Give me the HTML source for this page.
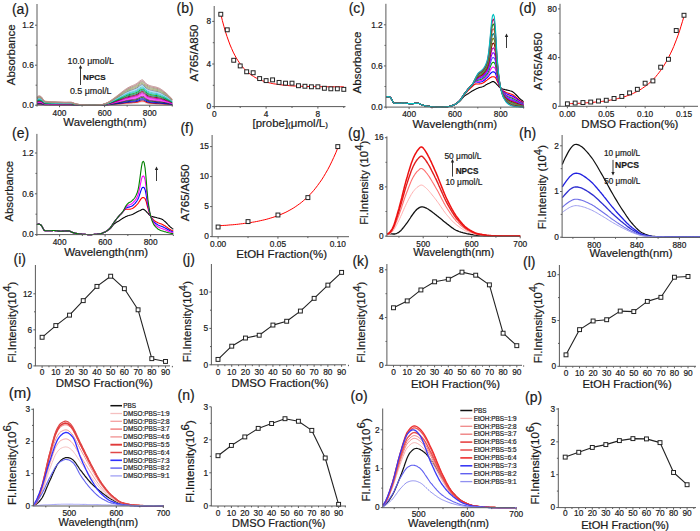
<!DOCTYPE html>
<html><head><meta charset="utf-8"><style>
html,body{margin:0;padding:0;background:#fff;width:700px;height:531px;overflow:hidden}
svg{display:block}
text{font-family:"Liberation Sans", sans-serif;fill:#1a1a1a;stroke:#1a1a1a;stroke-width:0.2px}
polyline{fill:none;stroke-linejoin:round}
.m{fill:#fff;stroke:#222}
</style></head><body>
<svg width="700" height="531" viewBox="0 0 700 531">
<rect width="700" height="531" fill="#fff"/>
<polyline points="37.0,104.6 37.9,104.5 38.8,104.5 39.7,104.5 40.6,104.5 41.5,104.6 42.4,104.7 43.3,104.8 44.2,104.9 45.1,104.9 46.0,104.9 46.9,104.9 47.8,104.9 48.7,104.9 49.6,104.9 50.5,104.9 51.4,104.9 52.3,104.9 53.2,104.9 54.1,104.9 55.0,104.9 55.9,105.0 56.8,105.0 57.7,105.0 58.6,105.0 59.5,105.0 60.4,105.0 61.3,105.0 62.2,105.0 63.1,105.0 64.0,105.0 64.9,105.0 65.9,105.0 66.8,105.0 67.7,105.0 68.6,105.0 69.5,105.0 70.4,105.0 71.3,105.0 72.2,105.0 73.1,105.0 74.0,105.1 74.9,105.1 75.8,105.1 76.7,105.1 77.6,105.1 78.5,105.1 79.4,105.1 80.3,105.2 81.2,105.2 82.1,105.2 83.0,105.2 83.9,105.2 84.8,105.2 85.7,105.2 86.6,105.2 87.5,105.2 88.4,105.2 89.3,105.2 90.2,105.2 91.1,105.2 92.0,105.2 92.9,105.2 93.8,105.2 94.7,105.2 95.6,105.2 96.5,105.2 97.4,105.2 98.3,105.2 99.2,105.2 100.1,105.2 101.0,105.2 101.9,105.1 102.8,105.1 103.7,105.1 104.6,105.1 105.5,105.0 106.4,105.0 107.3,105.0 108.2,104.9 109.1,104.9 110.0,104.8 110.9,104.8 111.8,104.7 112.7,104.7 113.6,104.6 114.5,104.5 115.4,104.5 116.3,104.4 117.2,104.4 118.1,104.3 119.0,104.3 119.9,104.2 120.8,104.1 121.8,104.1 122.7,104.0 123.6,103.9 124.5,103.9 125.4,103.8 126.3,103.7 127.2,103.7 128.1,103.6 129.0,103.6 129.9,103.6 130.8,103.5 131.7,103.5 132.6,103.4 133.5,103.4 134.4,103.4 135.3,103.3 136.2,103.2 137.1,103.1 138.0,103.0 138.9,102.8 139.8,102.5 140.7,102.3 141.6,102.2 142.5,102.2 143.4,102.2 144.3,102.4 145.2,102.8 146.1,103.1 147.0,103.4 147.9,103.5 148.8,103.7 149.7,103.8 150.6,103.9 151.5,104.0 152.4,104.0 153.3,104.0 154.2,104.1 155.1,104.1 156.0,104.1 156.9,104.2 157.8,104.2 158.7,104.2 159.6,104.3 160.5,104.3 161.4,104.3 162.3,104.4 163.2,104.4 164.1,104.4 165.0,104.5 165.9,104.5 166.8,104.6 167.7,104.6 168.6,104.7 169.5,104.7 170.4,104.8 171.3,104.8 172.2,104.9" stroke="#e0e0e0" stroke-width="1.0"/>
<polyline points="37.0,104.3 37.9,104.2 38.8,104.2 39.7,104.2 40.6,104.2 41.5,104.3 42.4,104.5 43.3,104.6 44.2,104.7 45.1,104.8 46.0,104.8 46.9,104.8 47.8,104.8 48.7,104.8 49.6,104.8 50.5,104.8 51.4,104.8 52.3,104.8 53.2,104.8 54.1,104.8 55.0,104.8 55.9,104.8 56.8,104.8 57.7,104.9 58.6,104.9 59.5,104.9 60.4,104.9 61.3,104.9 62.2,104.9 63.1,104.9 64.0,104.9 64.9,104.9 65.9,104.9 66.8,104.9 67.7,104.9 68.6,104.9 69.5,104.9 70.4,104.9 71.3,104.9 72.2,104.9 73.1,105.0 74.0,105.0 74.9,105.0 75.8,105.1 76.7,105.1 77.6,105.1 78.5,105.1 79.4,105.1 80.3,105.1 81.2,105.2 82.1,105.2 83.0,105.2 83.9,105.2 84.8,105.2 85.7,105.2 86.6,105.2 87.5,105.2 88.4,105.2 89.3,105.2 90.2,105.2 91.1,105.2 92.0,105.2 92.9,105.2 93.8,105.2 94.7,105.2 95.6,105.2 96.5,105.2 97.4,105.2 98.3,105.2 99.2,105.2 100.1,105.2 101.0,105.1 101.9,105.1 102.8,105.1 103.7,105.1 104.6,105.0 105.5,105.0 106.4,104.9 107.3,104.9 108.2,104.8 109.1,104.8 110.0,104.7 110.9,104.6 111.8,104.5 112.7,104.4 113.6,104.3 114.5,104.3 115.4,104.2 116.3,104.1 117.2,104.0 118.1,103.9 119.0,103.9 119.9,103.8 120.8,103.7 121.8,103.6 122.7,103.5 123.6,103.4 124.5,103.3 125.4,103.2 126.3,103.1 127.2,103.0 128.1,103.0 129.0,102.9 129.9,102.9 130.8,102.8 131.7,102.8 132.6,102.7 133.5,102.6 134.4,102.6 135.3,102.5 136.2,102.4 137.1,102.3 138.0,102.0 138.9,101.8 139.8,101.5 140.7,101.2 141.6,101.0 142.5,101.0 143.4,101.1 144.3,101.4 145.2,101.8 146.1,102.2 147.0,102.6 147.9,102.8 148.8,103.0 149.7,103.2 150.6,103.3 151.5,103.4 152.4,103.4 153.3,103.5 154.2,103.5 155.1,103.6 156.0,103.6 156.9,103.7 157.8,103.7 158.7,103.7 159.6,103.8 160.5,103.8 161.4,103.9 162.3,103.9 163.2,104.0 164.1,104.1 165.0,104.1 165.9,104.2 166.8,104.2 167.7,104.3 168.6,104.4 169.5,104.5 170.4,104.5 171.3,104.6 172.2,104.7" stroke="#ff0000" stroke-width="1.0"/>
<polyline points="37.0,104.0 37.9,103.9 38.8,103.9 39.7,103.9 40.6,103.9 41.5,104.0 42.4,104.2 43.3,104.4 44.2,104.6 45.1,104.6 46.0,104.7 46.9,104.7 47.8,104.7 48.7,104.7 49.6,104.7 50.5,104.7 51.4,104.7 52.3,104.7 53.2,104.7 54.1,104.7 55.0,104.7 55.9,104.7 56.8,104.7 57.7,104.7 58.6,104.7 59.5,104.7 60.4,104.8 61.3,104.8 62.2,104.8 63.1,104.8 64.0,104.8 64.9,104.8 65.9,104.8 66.8,104.8 67.7,104.8 68.6,104.8 69.5,104.8 70.4,104.8 71.3,104.8 72.2,104.8 73.1,104.9 74.0,104.9 74.9,105.0 75.8,105.0 76.7,105.0 77.6,105.1 78.5,105.1 79.4,105.1 80.3,105.1 81.2,105.1 82.1,105.1 83.0,105.2 83.9,105.2 84.8,105.2 85.7,105.2 86.6,105.2 87.5,105.2 88.4,105.2 89.3,105.2 90.2,105.2 91.1,105.2 92.0,105.2 92.9,105.2 93.8,105.2 94.7,105.2 95.6,105.2 96.5,105.2 97.4,105.2 98.3,105.2 99.2,105.2 100.1,105.1 101.0,105.1 101.9,105.1 102.8,105.1 103.7,105.0 104.6,105.0 105.5,104.9 106.4,104.8 107.3,104.8 108.2,104.7 109.1,104.6 110.0,104.5 110.9,104.4 111.8,104.3 112.7,104.2 113.6,104.1 114.5,104.0 115.4,103.9 116.3,103.8 117.2,103.7 118.1,103.5 119.0,103.4 119.9,103.3 120.8,103.2 121.8,103.1 122.7,103.0 123.6,102.9 124.5,102.7 125.4,102.6 126.3,102.5 127.2,102.4 128.1,102.3 129.0,102.2 129.9,102.1 130.8,102.1 131.7,102.0 132.6,101.9 133.5,101.8 134.4,101.8 135.3,101.7 136.2,101.5 137.1,101.4 138.0,101.1 138.9,100.8 139.8,100.4 140.7,100.1 141.6,99.9 142.5,99.8 143.4,99.9 144.3,100.3 145.2,100.8 146.1,101.4 147.0,101.8 147.9,102.0 148.8,102.3 149.7,102.5 150.6,102.6 151.5,102.7 152.4,102.8 153.3,102.9 154.2,102.9 155.1,103.0 156.0,103.0 156.9,103.1 157.8,103.1 158.7,103.2 159.6,103.2 160.5,103.3 161.4,103.4 162.3,103.5 163.2,103.5 164.1,103.6 165.0,103.7 165.9,103.8 166.8,103.9 167.7,104.0 168.6,104.1 169.5,104.2 170.4,104.3 171.3,104.4 172.2,104.5" stroke="#000080" stroke-width="1.0"/>
<polyline points="37.0,103.7 37.9,103.6 38.8,103.5 39.7,103.5 40.6,103.6 41.5,103.7 42.4,103.9 43.3,104.2 44.2,104.4 45.1,104.5 46.0,104.5 46.9,104.5 47.8,104.5 48.7,104.5 49.6,104.6 50.5,104.6 51.4,104.6 52.3,104.6 53.2,104.6 54.1,104.6 55.0,104.6 55.9,104.6 56.8,104.6 57.7,104.6 58.6,104.6 59.5,104.6 60.4,104.6 61.3,104.6 62.2,104.6 63.1,104.6 64.0,104.6 64.9,104.6 65.9,104.6 66.8,104.6 67.7,104.6 68.6,104.6 69.5,104.6 70.4,104.7 71.3,104.7 72.2,104.7 73.1,104.8 74.0,104.8 74.9,104.9 75.8,105.0 76.7,105.0 77.6,105.0 78.5,105.1 79.4,105.1 80.3,105.1 81.2,105.1 82.1,105.1 83.0,105.1 83.9,105.2 84.8,105.2 85.7,105.2 86.6,105.2 87.5,105.2 88.4,105.2 89.3,105.2 90.2,105.2 91.1,105.2 92.0,105.2 92.9,105.2 93.8,105.2 94.7,105.2 95.6,105.2 96.5,105.2 97.4,105.2 98.3,105.2 99.2,105.1 100.1,105.1 101.0,105.1 101.9,105.1 102.8,105.0 103.7,105.0 104.6,104.9 105.5,104.8 106.4,104.8 107.3,104.7 108.2,104.6 109.1,104.5 110.0,104.4 110.9,104.2 111.8,104.1 112.7,103.9 113.6,103.8 114.5,103.7 115.4,103.5 116.3,103.4 117.2,103.3 118.1,103.1 119.0,103.0 119.9,102.9 120.8,102.7 121.8,102.6 122.7,102.4 123.6,102.3 124.5,102.1 125.4,101.9 126.3,101.8 127.2,101.7 128.1,101.6 129.0,101.5 129.9,101.4 130.8,101.3 131.7,101.2 132.6,101.1 133.5,101.0 134.4,100.9 135.3,100.8 136.2,100.6 137.1,100.4 138.0,100.1 138.9,99.8 139.8,99.3 140.7,99.0 141.6,98.7 142.5,98.6 143.4,98.8 144.3,99.2 145.2,99.8 146.1,100.4 147.0,100.9 147.9,101.2 148.8,101.5 149.7,101.7 150.6,101.9 151.5,102.0 152.4,102.1 153.3,102.2 154.2,102.3 155.1,102.3 156.0,102.4 156.9,102.4 157.8,102.5 158.7,102.6 159.6,102.6 160.5,102.7 161.4,102.8 162.3,102.9 163.2,103.0 164.1,103.1 165.0,103.2 165.9,103.4 166.8,103.5 167.7,103.6 168.6,103.7 169.5,103.9 170.4,104.0 171.3,104.2 172.2,104.3" stroke="#0000ff" stroke-width="1.0"/>
<polyline points="37.0,103.4 37.9,103.2 38.8,103.1 39.7,103.1 40.6,103.2 41.5,103.4 42.4,103.6 43.3,104.0 44.2,104.2 45.1,104.3 46.0,104.3 46.9,104.4 47.8,104.4 48.7,104.4 49.6,104.4 50.5,104.4 51.4,104.4 52.3,104.4 53.2,104.4 54.1,104.4 55.0,104.4 55.9,104.5 56.8,104.5 57.7,104.5 58.6,104.5 59.5,104.5 60.4,104.5 61.3,104.5 62.2,104.5 63.1,104.5 64.0,104.5 64.9,104.5 65.9,104.5 66.8,104.5 67.7,104.5 68.6,104.5 69.5,104.5 70.4,104.5 71.3,104.6 72.2,104.6 73.1,104.7 74.0,104.8 74.9,104.8 75.8,104.9 76.7,105.0 77.6,105.0 78.5,105.0 79.4,105.0 80.3,105.1 81.2,105.1 82.1,105.1 83.0,105.1 83.9,105.2 84.8,105.2 85.7,105.2 86.6,105.2 87.5,105.2 88.4,105.2 89.3,105.2 90.2,105.2 91.1,105.2 92.0,105.2 92.9,105.2 93.8,105.2 94.7,105.2 95.6,105.2 96.5,105.2 97.4,105.2 98.3,105.1 99.2,105.1 100.1,105.1 101.0,105.1 101.9,105.0 102.8,105.0 103.7,104.9 104.6,104.8 105.5,104.8 106.4,104.7 107.3,104.6 108.2,104.5 109.1,104.3 110.0,104.2 110.9,104.0 111.8,103.9 112.7,103.7 113.6,103.5 114.5,103.4 115.4,103.2 116.3,103.0 117.2,102.9 118.1,102.7 119.0,102.5 119.9,102.4 120.8,102.2 121.8,102.0 122.7,101.8 123.6,101.6 124.5,101.5 125.4,101.3 126.3,101.1 127.2,100.9 128.1,100.8 129.0,100.7 129.9,100.6 130.8,100.5 131.7,100.4 132.6,100.3 133.5,100.2 134.4,100.0 135.3,99.9 136.2,99.7 137.1,99.5 138.0,99.1 138.9,98.7 139.8,98.3 140.7,97.8 141.6,97.5 142.5,97.5 143.4,97.7 144.3,98.1 145.2,98.8 146.1,99.5 147.0,100.0 147.9,100.4 148.8,100.7 149.7,100.9 150.6,101.1 151.5,101.2 152.4,101.4 153.3,101.4 154.2,101.5 155.1,101.6 156.0,101.7 156.9,101.8 157.8,101.8 158.7,101.9 159.6,102.0 160.5,102.1 161.4,102.2 162.3,102.3 163.2,102.5 164.1,102.6 165.0,102.7 165.9,102.9 166.8,103.0 167.7,103.2 168.6,103.4 169.5,103.5 170.4,103.7 171.3,103.9 172.2,104.1" stroke="#006000" stroke-width="1.0"/>
<polyline points="37.0,103.0 37.9,102.8 38.8,102.7 39.7,102.7 40.6,102.8 41.5,103.0 42.4,103.3 43.3,103.7 44.2,104.0 45.1,104.2 46.0,104.2 46.9,104.2 47.8,104.2 48.7,104.2 49.6,104.3 50.5,104.3 51.4,104.3 52.3,104.3 53.2,104.3 54.1,104.3 55.0,104.3 55.9,104.3 56.8,104.3 57.7,104.3 58.6,104.3 59.5,104.4 60.4,104.4 61.3,104.4 62.2,104.4 63.1,104.4 64.0,104.4 64.9,104.4 65.9,104.4 66.8,104.4 67.7,104.4 68.6,104.4 69.5,104.4 70.4,104.4 71.3,104.4 72.2,104.5 73.1,104.6 74.0,104.7 74.9,104.8 75.8,104.8 76.7,104.9 77.6,104.9 78.5,105.0 79.4,105.0 80.3,105.0 81.2,105.1 82.1,105.1 83.0,105.1 83.9,105.1 84.8,105.2 85.7,105.2 86.6,105.2 87.5,105.2 88.4,105.2 89.3,105.2 90.2,105.2 91.1,105.2 92.0,105.2 92.9,105.2 93.8,105.2 94.7,105.2 95.6,105.2 96.5,105.2 97.4,105.1 98.3,105.1 99.2,105.1 100.1,105.1 101.0,105.1 101.9,105.0 102.8,104.9 103.7,104.9 104.6,104.8 105.5,104.7 106.4,104.6 107.3,104.5 108.2,104.3 109.1,104.2 110.0,104.0 110.9,103.8 111.8,103.6 112.7,103.4 113.6,103.2 114.5,103.0 115.4,102.8 116.3,102.6 117.2,102.4 118.1,102.3 119.0,102.1 119.9,101.9 120.8,101.7 121.8,101.5 122.7,101.2 123.6,101.0 124.5,100.8 125.4,100.6 126.3,100.4 127.2,100.2 128.1,100.0 129.0,99.9 129.9,99.8 130.8,99.7 131.7,99.5 132.6,99.4 133.5,99.3 134.4,99.1 135.3,99.0 136.2,98.8 137.1,98.5 138.0,98.1 138.9,97.7 139.8,97.2 140.7,96.7 141.6,96.4 142.5,96.3 143.4,96.5 144.3,97.0 145.2,97.8 146.1,98.5 147.0,99.1 147.9,99.5 148.8,99.8 149.7,100.1 150.6,100.3 151.5,100.4 152.4,100.5 153.3,100.7 154.2,100.8 155.1,100.8 156.0,100.9 156.9,101.0 157.8,101.1 158.7,101.2 159.6,101.3 160.5,101.4 161.4,101.6 162.3,101.7 163.2,101.9 164.1,102.0 165.0,102.2 165.9,102.4 166.8,102.5 167.7,102.7 168.6,102.9 169.5,103.2 170.4,103.4 171.3,103.6 172.2,103.8" stroke="#800080" stroke-width="1.0"/>
<polyline points="37.0,102.7 37.9,102.4 38.8,102.3 39.7,102.3 40.6,102.4 41.5,102.6 42.4,103.0 43.3,103.5 44.2,103.9 45.1,104.0 46.0,104.0 46.9,104.0 47.8,104.1 48.7,104.1 49.6,104.1 50.5,104.1 51.4,104.1 52.3,104.1 53.2,104.1 54.1,104.1 55.0,104.2 55.9,104.2 56.8,104.2 57.7,104.2 58.6,104.2 59.5,104.2 60.4,104.2 61.3,104.2 62.2,104.2 63.1,104.3 64.0,104.3 64.9,104.3 65.9,104.3 66.8,104.3 67.7,104.2 68.6,104.2 69.5,104.2 70.4,104.3 71.3,104.3 72.2,104.4 73.1,104.5 74.0,104.6 74.9,104.7 75.8,104.8 76.7,104.8 77.6,104.9 78.5,104.9 79.4,105.0 80.3,105.0 81.2,105.1 82.1,105.1 83.0,105.1 83.9,105.1 84.8,105.1 85.7,105.2 86.6,105.2 87.5,105.2 88.4,105.2 89.3,105.2 90.2,105.2 91.1,105.2 92.0,105.2 92.9,105.2 93.8,105.2 94.7,105.2 95.6,105.2 96.5,105.2 97.4,105.1 98.3,105.1 99.2,105.1 100.1,105.1 101.0,105.0 101.9,105.0 102.8,104.9 103.7,104.8 104.6,104.7 105.5,104.6 106.4,104.5 107.3,104.3 108.2,104.2 109.1,104.0 110.0,103.8 110.9,103.6 111.8,103.4 112.7,103.1 113.6,102.9 114.5,102.7 115.4,102.5 116.3,102.2 117.2,102.0 118.1,101.8 119.0,101.6 119.9,101.3 120.8,101.1 121.8,100.9 122.7,100.6 123.6,100.4 124.5,100.1 125.4,99.8 126.3,99.6 127.2,99.4 128.1,99.2 129.0,99.1 129.9,98.9 130.8,98.8 131.7,98.7 132.6,98.5 133.5,98.4 134.4,98.2 135.3,98.0 136.2,97.8 137.1,97.5 138.0,97.1 138.9,96.6 139.8,96.0 140.7,95.5 141.6,95.2 142.5,95.1 143.4,95.4 144.3,95.9 145.2,96.8 146.1,97.6 147.0,98.1 147.9,98.6 148.8,98.9 149.7,99.2 150.6,99.4 151.5,99.6 152.4,99.7 153.3,99.8 154.2,99.9 155.1,100.0 156.0,100.1 156.9,100.2 157.8,100.3 158.7,100.4 159.6,100.5 160.5,100.7 161.4,100.9 162.3,101.0 163.2,101.2 164.1,101.4 165.0,101.6 165.9,101.8 166.8,102.0 167.7,102.3 168.6,102.5 169.5,102.8 170.4,103.0 171.3,103.3 172.2,103.6" stroke="#ff40ff" stroke-width="1.0"/>
<polyline points="37.0,102.3 37.9,102.0 38.8,101.8 39.7,101.9 40.6,102.0 41.5,102.2 42.4,102.7 43.3,103.2 44.2,103.6 45.1,103.8 46.0,103.8 46.9,103.9 47.8,103.9 48.7,103.9 49.6,103.9 50.5,103.9 51.4,103.9 52.3,104.0 53.2,104.0 54.1,104.0 55.0,104.0 55.9,104.0 56.8,104.0 57.7,104.0 58.6,104.1 59.5,104.1 60.4,104.1 61.3,104.1 62.2,104.1 63.1,104.1 64.0,104.1 64.9,104.1 65.9,104.1 66.8,104.1 67.7,104.1 68.6,104.1 69.5,104.1 70.4,104.1 71.3,104.2 72.2,104.2 73.1,104.4 74.0,104.5 74.9,104.6 75.8,104.7 76.7,104.8 77.6,104.8 78.5,104.9 79.4,105.0 80.3,105.0 81.2,105.0 82.1,105.1 83.0,105.1 83.9,105.1 84.8,105.1 85.7,105.1 86.6,105.2 87.5,105.2 88.4,105.2 89.3,105.2 90.2,105.2 91.1,105.2 92.0,105.2 92.9,105.2 93.8,105.2 94.7,105.2 95.6,105.2 96.5,105.2 97.4,105.1 98.3,105.1 99.2,105.1 100.1,105.1 101.0,105.0 101.9,105.0 102.8,104.9 103.7,104.8 104.6,104.6 105.5,104.5 106.4,104.4 107.3,104.2 108.2,104.0 109.1,103.8 110.0,103.6 110.9,103.4 111.8,103.1 112.7,102.9 113.6,102.6 114.5,102.3 115.4,102.1 116.3,101.8 117.2,101.6 118.1,101.3 119.0,101.0 119.9,100.8 120.8,100.5 121.8,100.2 122.7,100.0 123.6,99.7 124.5,99.4 125.4,99.1 126.3,98.9 127.2,98.6 128.1,98.4 129.0,98.2 129.9,98.1 130.8,97.9 131.7,97.8 132.6,97.6 133.5,97.4 134.4,97.2 135.3,97.0 136.2,96.8 137.1,96.5 138.0,96.0 138.9,95.5 139.8,94.9 140.7,94.4 141.6,94.0 142.5,94.0 143.4,94.2 144.3,94.8 145.2,95.7 146.1,96.6 147.0,97.2 147.9,97.6 148.8,98.0 149.7,98.2 150.6,98.5 151.5,98.7 152.4,98.8 153.3,98.9 154.2,99.0 155.1,99.2 156.0,99.3 156.9,99.4 157.8,99.5 158.7,99.6 159.6,99.7 160.5,99.9 161.4,100.1 162.3,100.3 163.2,100.5 164.1,100.8 165.0,101.0 165.9,101.2 166.8,101.5 167.7,101.8 168.6,102.0 169.5,102.3 170.4,102.6 171.3,103.0 172.2,103.3" stroke="#ff00ff" stroke-width="1.0"/>
<polyline points="37.0,101.9 37.9,101.6 38.8,101.4 39.7,101.4 40.6,101.6 41.5,101.8 42.4,102.4 43.3,103.0 44.2,103.4 45.1,103.6 46.0,103.6 46.9,103.7 47.8,103.7 48.7,103.7 49.6,103.7 50.5,103.8 51.4,103.8 52.3,103.8 53.2,103.8 54.1,103.8 55.0,103.8 55.9,103.8 56.8,103.9 57.7,103.9 58.6,103.9 59.5,103.9 60.4,103.9 61.3,103.9 62.2,103.9 63.1,104.0 64.0,104.0 64.9,104.0 65.9,104.0 66.8,104.0 67.7,104.0 68.6,104.0 69.5,104.0 70.4,104.0 71.3,104.0 72.2,104.1 73.1,104.2 74.0,104.4 74.9,104.5 75.8,104.7 76.7,104.7 77.6,104.8 78.5,104.9 79.4,104.9 80.3,105.0 81.2,105.0 82.1,105.1 83.0,105.1 83.9,105.1 84.8,105.1 85.7,105.1 86.6,105.2 87.5,105.2 88.4,105.2 89.3,105.2 90.2,105.2 91.1,105.2 92.0,105.2 92.9,105.2 93.8,105.2 94.7,105.2 95.6,105.2 96.5,105.2 97.4,105.1 98.3,105.1 99.2,105.1 100.1,105.0 101.0,105.0 101.9,104.9 102.8,104.8 103.7,104.7 104.6,104.6 105.5,104.4 106.4,104.3 107.3,104.1 108.2,103.9 109.1,103.7 110.0,103.4 110.9,103.1 111.8,102.9 112.7,102.6 113.6,102.3 114.5,102.0 115.4,101.7 116.3,101.4 117.2,101.1 118.1,100.8 119.0,100.5 119.9,100.2 120.8,99.9 121.8,99.6 122.7,99.3 123.6,99.0 124.5,98.7 125.4,98.3 126.3,98.1 127.2,97.8 128.1,97.6 129.0,97.4 129.9,97.2 130.8,97.0 131.7,96.8 132.6,96.6 133.5,96.5 134.4,96.3 135.3,96.0 136.2,95.8 137.1,95.4 138.0,95.0 138.9,94.4 139.8,93.8 140.7,93.2 141.6,92.9 142.5,92.8 143.4,93.1 144.3,93.7 145.2,94.7 146.1,95.5 147.0,96.1 147.9,96.6 148.8,97.0 149.7,97.3 150.6,97.5 151.5,97.7 152.4,97.9 153.3,98.0 154.2,98.1 155.1,98.2 156.0,98.3 156.9,98.5 157.8,98.6 158.7,98.7 159.6,98.9 160.5,99.1 161.4,99.3 162.3,99.6 163.2,99.8 164.1,100.1 165.0,100.3 165.9,100.6 166.8,100.9 167.7,101.2 168.6,101.5 169.5,101.9 170.4,102.2 171.3,102.6 172.2,103.0" stroke="#a000a0" stroke-width="1.0"/>
<polyline points="37.0,101.5 37.9,101.1 38.8,100.9 39.7,100.9 40.6,101.1 41.5,101.4 42.4,102.0 43.3,102.7 44.2,103.2 45.1,103.4 46.0,103.4 46.9,103.5 47.8,103.5 48.7,103.5 49.6,103.6 50.5,103.6 51.4,103.6 52.3,103.6 53.2,103.6 54.1,103.6 55.0,103.7 55.9,103.7 56.8,103.7 57.7,103.7 58.6,103.7 59.5,103.8 60.4,103.8 61.3,103.8 62.2,103.8 63.1,103.8 64.0,103.8 64.9,103.8 65.9,103.8 66.8,103.8 67.7,103.8 68.6,103.8 69.5,103.8 70.4,103.8 71.3,103.9 72.2,104.0 73.1,104.1 74.0,104.3 74.9,104.4 75.8,104.6 76.7,104.7 77.6,104.7 78.5,104.8 79.4,104.9 80.3,104.9 81.2,105.0 82.1,105.0 83.0,105.1 83.9,105.1 84.8,105.1 85.7,105.1 86.6,105.1 87.5,105.2 88.4,105.2 89.3,105.2 90.2,105.2 91.1,105.2 92.0,105.2 92.9,105.2 93.8,105.2 94.7,105.2 95.6,105.2 96.5,105.1 97.4,105.1 98.3,105.1 99.2,105.1 100.1,105.0 101.0,105.0 101.9,104.9 102.8,104.8 103.7,104.6 104.6,104.5 105.5,104.3 106.4,104.1 107.3,104.0 108.2,103.7 109.1,103.5 110.0,103.2 110.9,102.9 111.8,102.6 112.7,102.3 113.6,101.9 114.5,101.6 115.4,101.3 116.3,101.0 117.2,100.7 118.1,100.3 119.0,100.0 119.9,99.6 120.8,99.3 121.8,99.0 122.7,98.6 123.6,98.3 124.5,97.9 125.4,97.6 126.3,97.3 127.2,97.0 128.1,96.7 129.0,96.5 129.9,96.3 130.8,96.1 131.7,95.9 132.6,95.7 133.5,95.5 134.4,95.3 135.3,95.0 136.2,94.7 137.1,94.4 138.0,93.9 138.9,93.3 139.8,92.6 140.7,92.1 141.6,91.7 142.5,91.6 143.4,91.9 144.3,92.6 145.2,93.6 146.1,94.5 147.0,95.1 147.9,95.6 148.8,96.0 149.7,96.3 150.6,96.5 151.5,96.7 152.4,96.9 153.3,97.0 154.2,97.2 155.1,97.3 156.0,97.4 156.9,97.5 157.8,97.7 158.7,97.8 159.6,98.0 160.5,98.3 161.4,98.5 162.3,98.8 163.2,99.1 164.1,99.4 165.0,99.7 165.9,100.0 166.8,100.3 167.7,100.7 168.6,101.0 169.5,101.4 170.4,101.8 171.3,102.2 172.2,102.7" stroke="#800000" stroke-width="1.0"/>
<polyline points="37.0,101.1 37.9,100.7 38.8,100.4 39.7,100.5 40.6,100.6 41.5,101.0 42.4,101.6 43.3,102.4 44.2,103.0 45.1,103.2 46.0,103.2 46.9,103.3 47.8,103.3 48.7,103.3 49.6,103.4 50.5,103.4 51.4,103.4 52.3,103.4 53.2,103.5 54.1,103.5 55.0,103.5 55.9,103.5 56.8,103.5 57.7,103.5 58.6,103.6 59.5,103.6 60.4,103.6 61.3,103.6 62.2,103.6 63.1,103.6 64.0,103.7 64.9,103.7 65.9,103.7 66.8,103.7 67.7,103.7 68.6,103.6 69.5,103.6 70.4,103.7 71.3,103.7 72.2,103.8 73.1,104.0 74.0,104.2 74.9,104.4 75.8,104.5 76.7,104.6 77.6,104.7 78.5,104.8 79.4,104.8 80.3,104.9 81.2,105.0 82.1,105.0 83.0,105.1 83.9,105.1 84.8,105.1 85.7,105.1 86.6,105.1 87.5,105.2 88.4,105.2 89.3,105.2 90.2,105.2 91.1,105.2 92.0,105.2 92.9,105.2 93.8,105.2 94.7,105.2 95.6,105.2 96.5,105.1 97.4,105.1 98.3,105.1 99.2,105.1 100.1,105.0 101.0,105.0 101.9,104.9 102.8,104.7 103.7,104.6 104.6,104.4 105.5,104.2 106.4,104.0 107.3,103.8 108.2,103.6 109.1,103.3 110.0,103.0 110.9,102.7 111.8,102.3 112.7,101.9 113.6,101.6 114.5,101.2 115.4,100.9 116.3,100.5 117.2,100.2 118.1,99.8 119.0,99.4 119.9,99.1 120.8,98.7 121.8,98.3 122.7,97.9 123.6,97.5 124.5,97.1 125.4,96.8 126.3,96.4 127.2,96.1 128.1,95.8 129.0,95.6 129.9,95.4 130.8,95.1 131.7,94.9 132.6,94.7 133.5,94.5 134.4,94.2 135.3,94.0 136.2,93.7 137.1,93.3 138.0,92.8 138.9,92.1 139.8,91.5 140.7,90.9 141.6,90.5 142.5,90.4 143.4,90.8 144.3,91.5 145.2,92.5 146.1,93.4 147.0,94.1 147.9,94.5 148.8,94.9 149.7,95.2 150.6,95.5 151.5,95.7 152.4,95.9 153.3,96.0 154.2,96.2 155.1,96.3 156.0,96.4 156.9,96.6 157.8,96.7 158.7,96.9 159.6,97.1 160.5,97.4 161.4,97.6 162.3,98.0 163.2,98.3 164.1,98.6 165.0,99.0 165.9,99.3 166.8,99.7 167.7,100.1 168.6,100.5 169.5,100.9 170.4,101.4 171.3,101.9 172.2,102.3" stroke="#008080" stroke-width="1.0"/>
<polyline points="37.0,100.7 37.9,100.2 38.8,99.9 39.7,100.0 40.6,100.2 41.5,100.5 42.4,101.3 43.3,102.1 44.2,102.7 45.1,103.0 46.0,103.0 46.9,103.1 47.8,103.1 48.7,103.2 49.6,103.2 50.5,103.2 51.4,103.2 52.3,103.3 53.2,103.3 54.1,103.3 55.0,103.3 55.9,103.3 56.8,103.4 57.7,103.4 58.6,103.4 59.5,103.4 60.4,103.4 61.3,103.5 62.2,103.5 63.1,103.5 64.0,103.5 64.9,103.5 65.9,103.5 66.8,103.5 67.7,103.5 68.6,103.5 69.5,103.5 70.4,103.5 71.3,103.5 72.2,103.7 73.1,103.8 74.0,104.1 74.9,104.3 75.8,104.4 76.7,104.6 77.6,104.6 78.5,104.7 79.4,104.8 80.3,104.9 81.2,104.9 82.1,105.0 83.0,105.0 83.9,105.1 84.8,105.1 85.7,105.1 86.6,105.1 87.5,105.2 88.4,105.2 89.3,105.2 90.2,105.2 91.1,105.2 92.0,105.2 92.9,105.2 93.8,105.2 94.7,105.2 95.6,105.2 96.5,105.1 97.4,105.1 98.3,105.1 99.2,105.0 100.1,105.0 101.0,104.9 101.9,104.8 102.8,104.7 103.7,104.5 104.6,104.3 105.5,104.1 106.4,103.9 107.3,103.7 108.2,103.4 109.1,103.1 110.0,102.8 110.9,102.4 111.8,102.0 112.7,101.6 113.6,101.2 114.5,100.8 115.4,100.5 116.3,100.1 117.2,99.7 118.1,99.3 119.0,98.9 119.9,98.5 120.8,98.0 121.8,97.6 122.7,97.2 123.6,96.8 124.5,96.4 125.4,96.0 126.3,95.6 127.2,95.2 128.1,94.9 129.0,94.7 129.9,94.4 130.8,94.2 131.7,93.9 132.6,93.7 133.5,93.5 134.4,93.2 135.3,92.9 136.2,92.6 137.1,92.2 138.0,91.6 138.9,91.0 139.8,90.3 140.7,89.7 141.6,89.4 142.5,89.3 143.4,89.6 144.3,90.4 145.2,91.4 146.1,92.4 147.0,93.0 147.9,93.5 148.8,93.9 149.7,94.2 150.6,94.5 151.5,94.7 152.4,94.9 153.3,95.0 154.2,95.2 155.1,95.3 156.0,95.4 156.9,95.6 157.8,95.8 158.7,95.9 159.6,96.2 160.5,96.5 161.4,96.8 162.3,97.1 163.2,97.5 164.1,97.8 165.0,98.2 165.9,98.6 166.8,99.0 167.7,99.5 168.6,99.9 169.5,100.4 170.4,100.9 171.3,101.5 172.2,102.0" stroke="#00a000" stroke-width="1.0"/>
<polyline points="37.0,100.2 37.9,99.7 38.8,99.4 39.7,99.5 40.6,99.7 41.5,100.1 42.4,100.9 43.3,101.8 44.2,102.5 45.1,102.8 46.0,102.8 46.9,102.9 47.8,102.9 48.7,103.0 49.6,103.0 50.5,103.0 51.4,103.0 52.3,103.1 53.2,103.1 54.1,103.1 55.0,103.1 55.9,103.2 56.8,103.2 57.7,103.2 58.6,103.2 59.5,103.2 60.4,103.3 61.3,103.3 62.2,103.3 63.1,103.3 64.0,103.3 64.9,103.3 65.9,103.3 66.8,103.3 67.7,103.3 68.6,103.3 69.5,103.3 70.4,103.3 71.3,103.4 72.2,103.5 73.1,103.7 74.0,103.9 74.9,104.2 75.8,104.4 76.7,104.5 77.6,104.6 78.5,104.7 79.4,104.8 80.3,104.8 81.2,104.9 82.1,105.0 83.0,105.0 83.9,105.1 84.8,105.1 85.7,105.1 86.6,105.1 87.5,105.1 88.4,105.2 89.3,105.2 90.2,105.2 91.1,105.2 92.0,105.2 92.9,105.2 93.8,105.2 94.7,105.2 95.6,105.2 96.5,105.1 97.4,105.1 98.3,105.1 99.2,105.0 100.1,105.0 101.0,104.9 101.9,104.8 102.8,104.7 103.7,104.5 104.6,104.3 105.5,104.0 106.4,103.8 107.3,103.6 108.2,103.3 109.1,102.9 110.0,102.6 110.9,102.2 111.8,101.7 112.7,101.3 113.6,100.9 114.5,100.5 115.4,100.0 116.3,99.6 117.2,99.2 118.1,98.8 119.0,98.3 119.9,97.9 120.8,97.4 121.8,96.9 122.7,96.5 123.6,96.0 124.5,95.6 125.4,95.1 126.3,94.7 127.2,94.4 128.1,94.0 129.0,93.7 129.9,93.5 130.8,93.2 131.7,92.9 132.6,92.7 133.5,92.4 134.4,92.1 135.3,91.8 136.2,91.5 137.1,91.1 138.0,90.5 138.9,89.8 139.8,89.2 140.7,88.6 141.6,88.2 142.5,88.1 143.4,88.5 144.3,89.3 145.2,90.4 146.1,91.3 147.0,91.9 147.9,92.4 148.8,92.8 149.7,93.1 150.6,93.4 151.5,93.6 152.4,93.8 153.3,94.0 154.2,94.1 155.1,94.2 156.0,94.4 156.9,94.6 157.8,94.7 158.7,95.0 159.6,95.2 160.5,95.5 161.4,95.9 162.3,96.2 163.2,96.6 164.1,97.0 165.0,97.5 165.9,97.9 166.8,98.4 167.7,98.9 168.6,99.4 169.5,99.9 170.4,100.5 171.3,101.1 172.2,101.6" stroke="#00c0c0" stroke-width="1.0"/>
<polyline points="37.0,99.8 37.9,99.2 38.8,98.9 39.7,98.9 40.6,99.2 41.5,99.6 42.4,100.5 43.3,101.5 44.2,102.3 45.1,102.5 46.0,102.6 46.9,102.7 47.8,102.7 48.7,102.8 49.6,102.8 50.5,102.8 51.4,102.9 52.3,102.9 53.2,102.9 54.1,102.9 55.0,103.0 55.9,103.0 56.8,103.0 57.7,103.0 58.6,103.0 59.5,103.1 60.4,103.1 61.3,103.1 62.2,103.1 63.1,103.2 64.0,103.2 64.9,103.2 65.9,103.2 66.8,103.2 67.7,103.2 68.6,103.2 69.5,103.2 70.4,103.2 71.3,103.2 72.2,103.4 73.1,103.6 74.0,103.8 74.9,104.1 75.8,104.3 76.7,104.4 77.6,104.5 78.5,104.6 79.4,104.7 80.3,104.8 81.2,104.9 82.1,105.0 83.0,105.0 83.9,105.1 84.8,105.1 85.7,105.1 86.6,105.1 87.5,105.1 88.4,105.2 89.3,105.2 90.2,105.2 91.1,105.2 92.0,105.2 92.9,105.2 93.8,105.2 94.7,105.2 95.6,105.2 96.5,105.1 97.4,105.1 98.3,105.1 99.2,105.0 100.1,105.0 101.0,104.9 101.9,104.8 102.8,104.6 103.7,104.4 104.6,104.2 105.5,103.9 106.4,103.7 107.3,103.4 108.2,103.1 109.1,102.7 110.0,102.3 110.9,101.9 111.8,101.5 112.7,101.0 113.6,100.5 114.5,100.1 115.4,99.6 116.3,99.2 117.2,98.7 118.1,98.2 119.0,97.7 119.9,97.2 120.8,96.8 121.8,96.3 122.7,95.8 123.6,95.3 124.5,94.8 125.4,94.3 126.3,93.9 127.2,93.5 128.1,93.1 129.0,92.8 129.9,92.5 130.8,92.2 131.7,91.9 132.6,91.7 133.5,91.4 134.4,91.1 135.3,90.8 136.2,90.4 137.1,90.0 138.0,89.4 138.9,88.7 139.8,88.0 140.7,87.4 141.6,87.0 142.5,86.9 143.4,87.3 144.3,88.2 145.2,89.3 146.1,90.2 147.0,90.8 147.9,91.3 148.8,91.7 149.7,92.0 150.6,92.3 151.5,92.5 152.4,92.7 153.3,92.9 154.2,93.0 155.1,93.2 156.0,93.3 156.9,93.5 157.8,93.7 158.7,94.0 159.6,94.2 160.5,94.6 161.4,94.9 162.3,95.3 163.2,95.8 164.1,96.2 165.0,96.7 165.9,97.2 166.8,97.7 167.7,98.2 168.6,98.8 169.5,99.4 170.4,100.0 171.3,100.6 172.2,101.3" stroke="#40c0c0" stroke-width="1.0"/>
<polyline points="37.0,99.4 37.9,98.7 38.8,98.4 39.7,98.4 40.6,98.7 41.5,99.2 42.4,100.1 43.3,101.2 44.2,102.0 45.1,102.3 46.0,102.4 46.9,102.4 47.8,102.5 48.7,102.5 49.6,102.6 50.5,102.6 51.4,102.7 52.3,102.7 53.2,102.7 54.1,102.7 55.0,102.8 55.9,102.8 56.8,102.8 57.7,102.8 58.6,102.9 59.5,102.9 60.4,102.9 61.3,102.9 62.2,103.0 63.1,103.0 64.0,103.0 64.9,103.0 65.9,103.0 66.8,103.0 67.7,103.0 68.6,103.0 69.5,103.0 70.4,103.0 71.3,103.1 72.2,103.2 73.1,103.4 74.0,103.7 74.9,104.0 75.8,104.2 76.7,104.4 77.6,104.5 78.5,104.6 79.4,104.7 80.3,104.8 81.2,104.9 82.1,104.9 83.0,105.0 83.9,105.0 84.8,105.1 85.7,105.1 86.6,105.1 87.5,105.1 88.4,105.2 89.3,105.2 90.2,105.2 91.1,105.2 92.0,105.2 92.9,105.2 93.8,105.2 94.7,105.2 95.6,105.2 96.5,105.1 97.4,105.1 98.3,105.0 99.2,105.0 100.1,104.9 101.0,104.9 101.9,104.7 102.8,104.6 103.7,104.4 104.6,104.1 105.5,103.9 106.4,103.6 107.3,103.3 108.2,102.9 109.1,102.5 110.0,102.1 110.9,101.7 111.8,101.2 112.7,100.7 113.6,100.2 114.5,99.7 115.4,99.2 116.3,98.7 117.2,98.2 118.1,97.7 119.0,97.2 119.9,96.6 120.8,96.1 121.8,95.6 122.7,95.0 123.6,94.5 124.5,94.0 125.4,93.5 126.3,93.0 127.2,92.6 128.1,92.2 129.0,91.8 129.9,91.5 130.8,91.2 131.7,90.9 132.6,90.6 133.5,90.3 134.4,90.0 135.3,89.7 136.2,89.3 137.1,88.8 138.0,88.2 138.9,87.5 139.8,86.8 140.7,86.2 141.6,85.8 142.5,85.7 143.4,86.2 144.3,87.1 145.2,88.2 146.1,89.1 147.0,89.7 147.9,90.2 148.8,90.6 149.7,90.9 150.6,91.2 151.5,91.4 152.4,91.6 153.3,91.8 154.2,92.0 155.1,92.1 156.0,92.3 156.9,92.5 157.8,92.7 158.7,92.9 159.6,93.2 160.5,93.6 161.4,94.0 162.3,94.5 163.2,94.9 164.1,95.4 165.0,95.9 165.9,96.4 166.8,97.0 167.7,97.6 168.6,98.2 169.5,98.9 170.4,99.5 171.3,100.2 172.2,100.9" stroke="#8fd0ff" stroke-width="1.0"/>
<polyline points="37.0,98.9 37.9,98.2 38.8,97.9 39.7,97.9 40.6,98.2 41.5,98.7 42.4,99.7 43.3,100.9 44.2,101.8 45.1,102.1 46.0,102.2 46.9,102.2 47.8,102.3 48.7,102.3 49.6,102.4 50.5,102.4 51.4,102.5 52.3,102.5 53.2,102.5 54.1,102.6 55.0,102.6 55.9,102.6 56.8,102.6 57.7,102.7 58.6,102.7 59.5,102.7 60.4,102.7 61.3,102.8 62.2,102.8 63.1,102.8 64.0,102.8 64.9,102.9 65.9,102.9 66.8,102.8 67.7,102.8 68.6,102.8 69.5,102.8 70.4,102.8 71.3,102.9 72.2,103.0 73.1,103.3 74.0,103.6 74.9,103.9 75.8,104.1 76.7,104.3 77.6,104.4 78.5,104.5 79.4,104.6 80.3,104.7 81.2,104.8 82.1,104.9 83.0,105.0 83.9,105.0 84.8,105.1 85.7,105.1 86.6,105.1 87.5,105.1 88.4,105.1 89.3,105.2 90.2,105.2 91.1,105.2 92.0,105.2 92.9,105.2 93.8,105.2 94.7,105.2 95.6,105.2 96.5,105.1 97.4,105.1 98.3,105.0 99.2,105.0 100.1,104.9 101.0,104.8 101.9,104.7 102.8,104.5 103.7,104.3 104.6,104.0 105.5,103.8 106.4,103.5 107.3,103.1 108.2,102.8 109.1,102.4 110.0,101.9 110.9,101.4 111.8,100.9 112.7,100.3 113.6,99.8 114.5,99.3 115.4,98.7 116.3,98.2 117.2,97.7 118.1,97.1 119.0,96.6 119.9,96.0 120.8,95.4 121.8,94.9 122.7,94.3 123.6,93.7 124.5,93.2 125.4,92.6 126.3,92.2 127.2,91.7 128.1,91.3 129.0,90.9 129.9,90.5 130.8,90.2 131.7,89.9 132.6,89.6 133.5,89.3 134.4,88.9 135.3,88.6 136.2,88.2 137.1,87.7 138.0,87.1 138.9,86.4 139.8,85.7 140.7,85.1 141.6,84.7 142.5,84.6 143.4,85.0 144.3,86.0 145.2,87.1 146.1,88.0 147.0,88.6 147.9,89.1 148.8,89.5 149.7,89.8 150.6,90.1 151.5,90.3 152.4,90.5 153.3,90.7 154.2,90.9 155.1,91.0 156.0,91.2 156.9,91.4 157.8,91.6 158.7,91.9 159.6,92.2 160.5,92.6 161.4,93.1 162.3,93.5 163.2,94.1 164.1,94.6 165.0,95.1 165.9,95.7 166.8,96.3 167.7,96.9 168.6,97.6 169.5,98.3 170.4,99.1 171.3,99.8 172.2,100.6" stroke="#708090" stroke-width="1.0"/>
<polyline points="37.0,98.5 37.9,97.7 38.8,97.4 39.7,97.4 40.6,97.7 41.5,98.3 42.4,99.3 43.3,100.6 44.2,101.5 45.1,101.9 46.0,101.9 46.9,102.0 47.8,102.1 48.7,102.1 49.6,102.2 50.5,102.2 51.4,102.3 52.3,102.3 53.2,102.3 54.1,102.4 55.0,102.4 55.9,102.4 56.8,102.5 57.7,102.5 58.6,102.5 59.5,102.5 60.4,102.6 61.3,102.6 62.2,102.6 63.1,102.7 64.0,102.7 64.9,102.7 65.9,102.7 66.8,102.7 67.7,102.7 68.6,102.7 69.5,102.7 70.4,102.7 71.3,102.7 72.2,102.9 73.1,103.2 74.0,103.5 74.9,103.8 75.8,104.1 76.7,104.2 77.6,104.4 78.5,104.5 79.4,104.6 80.3,104.7 81.2,104.8 82.1,104.9 83.0,105.0 83.9,105.0 84.8,105.0 85.7,105.1 86.6,105.1 87.5,105.1 88.4,105.1 89.3,105.2 90.2,105.2 91.1,105.2 92.0,105.2 92.9,105.2 93.8,105.2 94.7,105.2 95.6,105.2 96.5,105.1 97.4,105.1 98.3,105.0 99.2,105.0 100.1,104.9 101.0,104.8 101.9,104.7 102.8,104.5 103.7,104.2 104.6,104.0 105.5,103.7 106.4,103.3 107.3,103.0 108.2,102.6 109.1,102.2 110.0,101.7 110.9,101.1 111.8,100.6 112.7,100.0 113.6,99.4 114.5,98.9 115.4,98.3 116.3,97.8 117.2,97.2 118.1,96.6 119.0,96.0 119.9,95.4 120.8,94.8 121.8,94.2 122.7,93.6 123.6,93.0 124.5,92.4 125.4,91.8 126.3,91.3 127.2,90.8 128.1,90.3 129.0,89.9 129.9,89.6 130.8,89.2 131.7,88.9 132.6,88.6 133.5,88.2 134.4,87.9 135.3,87.5 136.2,87.1 137.1,86.6 138.0,85.9 138.9,85.2 139.8,84.5 140.7,83.9 141.6,83.5 142.5,83.4 143.4,83.9 144.3,84.9 145.2,86.0 146.1,86.9 147.0,87.5 147.9,87.9 148.8,88.4 149.7,88.7 150.6,89.0 151.5,89.2 152.4,89.4 153.3,89.6 154.2,89.8 155.1,90.0 156.0,90.1 156.9,90.4 157.8,90.6 158.7,90.9 159.6,91.2 160.5,91.7 161.4,92.1 162.3,92.6 163.2,93.2 164.1,93.8 165.0,94.4 165.9,95.0 166.8,95.6 167.7,96.3 168.6,97.0 169.5,97.8 170.4,98.6 171.3,99.4 172.2,100.2" stroke="#a0a060" stroke-width="1.0"/>
<polyline points="37.0,98.0 37.9,97.3 38.8,96.8 39.7,96.9 40.6,97.2 41.5,97.8 42.4,98.9 43.3,100.3 44.2,101.3 45.1,101.6 46.0,101.7 46.9,101.8 47.8,101.9 48.7,101.9 49.6,102.0 50.5,102.0 51.4,102.1 52.3,102.1 53.2,102.2 54.1,102.2 55.0,102.2 55.9,102.2 56.8,102.3 57.7,102.3 58.6,102.3 59.5,102.4 60.4,102.4 61.3,102.4 62.2,102.5 63.1,102.5 64.0,102.5 64.9,102.5 65.9,102.5 66.8,102.5 67.7,102.5 68.6,102.5 69.5,102.5 70.4,102.5 71.3,102.6 72.2,102.7 73.1,103.0 74.0,103.4 74.9,103.7 75.8,104.0 76.7,104.2 77.6,104.3 78.5,104.4 79.4,104.6 80.3,104.7 81.2,104.8 82.1,104.9 83.0,104.9 83.9,105.0 84.8,105.0 85.7,105.1 86.6,105.1 87.5,105.1 88.4,105.1 89.3,105.2 90.2,105.2 91.1,105.2 92.0,105.2 92.9,105.2 93.8,105.2 94.7,105.2 95.6,105.2 96.5,105.1 97.4,105.1 98.3,105.0 99.2,105.0 100.1,104.9 101.0,104.8 101.9,104.6 102.8,104.4 103.7,104.2 104.6,103.9 105.5,103.6 106.4,103.2 107.3,102.9 108.2,102.4 109.1,102.0 110.0,101.4 110.9,100.9 111.8,100.3 112.7,99.7 113.6,99.1 114.5,98.5 115.4,97.9 116.3,97.3 117.2,96.7 118.1,96.1 119.0,95.4 119.9,94.8 120.8,94.1 121.8,93.5 122.7,92.8 123.6,92.2 124.5,91.6 125.4,91.0 126.3,90.4 127.2,89.9 128.1,89.4 129.0,89.0 129.9,88.6 130.8,88.2 131.7,87.9 132.6,87.5 133.5,87.2 134.4,86.8 135.3,86.4 136.2,86.0 137.1,85.5 138.0,84.8 138.9,84.0 139.8,83.3 140.7,82.7 141.6,82.3 142.5,82.2 143.4,82.8 144.3,83.7 145.2,84.9 146.1,85.8 147.0,86.4 147.9,86.8 148.8,87.3 149.7,87.6 150.6,87.9 151.5,88.1 152.4,88.3 153.3,88.5 154.2,88.7 155.1,88.9 156.0,89.1 156.9,89.3 157.8,89.6 158.7,89.9 159.6,90.2 160.5,90.7 161.4,91.2 162.3,91.8 163.2,92.4 164.1,93.0 165.0,93.6 165.9,94.2 166.8,94.9 167.7,95.7 168.6,96.4 169.5,97.3 170.4,98.1 171.3,99.0 172.2,99.9" stroke="#90a070" stroke-width="1.0"/>
<polyline points="37.0,97.6 37.9,96.8 38.8,96.3 39.7,96.4 40.6,96.7 41.5,97.4 42.4,98.6 43.3,100.0 44.2,101.1 45.1,101.4 46.0,101.5 46.9,101.6 47.8,101.7 48.7,101.7 49.6,101.8 50.5,101.8 51.4,101.9 52.3,101.9 53.2,102.0 54.1,102.0 55.0,102.0 55.9,102.1 56.8,102.1 57.7,102.1 58.6,102.2 59.5,102.2 60.4,102.2 61.3,102.3 62.2,102.3 63.1,102.3 64.0,102.4 64.9,102.4 65.9,102.4 66.8,102.4 67.7,102.3 68.6,102.3 69.5,102.3 70.4,102.3 71.3,102.4 72.2,102.6 73.1,102.9 74.0,103.3 74.9,103.6 75.8,103.9 76.7,104.1 77.6,104.2 78.5,104.4 79.4,104.5 80.3,104.7 81.2,104.8 82.1,104.9 83.0,104.9 83.9,105.0 84.8,105.0 85.7,105.1 86.6,105.1 87.5,105.1 88.4,105.1 89.3,105.2 90.2,105.2 91.1,105.2 92.0,105.2 92.9,105.2 93.8,105.2 94.7,105.2 95.6,105.2 96.5,105.1 97.4,105.1 98.3,105.0 99.2,104.9 100.1,104.9 101.0,104.8 101.9,104.6 102.8,104.4 103.7,104.1 104.6,103.8 105.5,103.5 106.4,103.1 107.3,102.7 108.2,102.3 109.1,101.8 110.0,101.2 110.9,100.6 111.8,100.0 112.7,99.4 113.6,98.7 114.5,98.1 115.4,97.5 116.3,96.8 117.2,96.2 118.1,95.5 119.0,94.9 119.9,94.2 120.8,93.5 121.8,92.8 122.7,92.1 123.6,91.4 124.5,90.8 125.4,90.2 126.3,89.6 127.2,89.0 128.1,88.5 129.0,88.1 129.9,87.7 130.8,87.3 131.7,86.9 132.6,86.5 133.5,86.2 134.4,85.8 135.3,85.4 136.2,84.9 137.1,84.3 138.0,83.6 138.9,82.9 139.8,82.2 140.7,81.6 141.6,81.2 142.5,81.1 143.4,81.6 144.3,82.6 145.2,83.8 146.1,84.7 147.0,85.3 147.9,85.8 148.8,86.2 149.7,86.5 150.6,86.8 151.5,87.1 152.4,87.3 153.3,87.5 154.2,87.7 155.1,87.9 156.0,88.1 156.9,88.3 157.8,88.6 158.7,88.9 159.6,89.3 160.5,89.8 161.4,90.3 162.3,90.9 163.2,91.5 164.1,92.2 165.0,92.9 165.9,93.5 166.8,94.3 167.7,95.1 168.6,95.9 169.5,96.8 170.4,97.7 171.3,98.6 172.2,99.5" stroke="#b08080" stroke-width="1.0"/>
<polyline points="37.0,97.2 37.9,96.3 38.8,95.9 39.7,95.9 40.6,96.3 41.5,96.9 42.4,98.2 43.3,99.7 44.2,100.8 45.1,101.2 46.0,101.3 46.9,101.4 47.8,101.5 48.7,101.6 49.6,101.6 50.5,101.7 51.4,101.7 52.3,101.8 53.2,101.8 54.1,101.8 55.0,101.9 55.9,101.9 56.8,101.9 57.7,102.0 58.6,102.0 59.5,102.0 60.4,102.1 61.3,102.1 62.2,102.1 63.1,102.2 64.0,102.2 64.9,102.2 65.9,102.2 66.8,102.2 67.7,102.2 68.6,102.2 69.5,102.2 70.4,102.2 71.3,102.2 72.2,102.4 73.1,102.8 74.0,103.1 74.9,103.5 75.8,103.8 76.7,104.0 77.6,104.2 78.5,104.3 79.4,104.5 80.3,104.6 81.2,104.7 82.1,104.8 83.0,104.9 83.9,105.0 84.8,105.0 85.7,105.1 86.6,105.1 87.5,105.1 88.4,105.1 89.3,105.2 90.2,105.2 91.1,105.2 92.0,105.2 92.9,105.2 93.8,105.2 94.7,105.2 95.6,105.2 96.5,105.1 97.4,105.1 98.3,105.0 99.2,104.9 100.1,104.9 101.0,104.8 101.9,104.6 102.8,104.4 103.7,104.1 104.6,103.7 105.5,103.4 106.4,103.0 107.3,102.6 108.2,102.1 109.1,101.6 110.0,101.0 110.9,100.4 111.8,99.8 112.7,99.1 113.6,98.4 114.5,97.7 115.4,97.1 116.3,96.4 117.2,95.7 118.1,95.0 119.0,94.3 119.9,93.6 120.8,92.9 121.8,92.1 122.7,91.4 123.6,90.7 124.5,90.0 125.4,89.4 126.3,88.8 127.2,88.2 128.1,87.7 129.0,87.2 129.9,86.8 130.8,86.3 131.7,85.9 132.6,85.6 133.5,85.2 134.4,84.8 135.3,84.3 136.2,83.9 137.1,83.3 138.0,82.6 138.9,81.8 139.8,81.0 140.7,80.4 141.6,80.0 142.5,79.9 143.4,80.5 144.3,81.5 145.2,82.7 146.1,83.7 147.0,84.3 147.9,84.8 148.8,85.2 149.7,85.5 150.6,85.8 151.5,86.1 152.4,86.3 153.3,86.5 154.2,86.7 155.1,86.9 156.0,87.1 156.9,87.4 157.8,87.7 158.7,88.0 159.6,88.4 160.5,88.9 161.4,89.5 162.3,90.1 163.2,90.8 164.1,91.5 165.0,92.2 165.9,92.9 166.8,93.7 167.7,94.5 168.6,95.4 169.5,96.3 170.4,97.2 171.3,98.2 172.2,99.2" stroke="#c09090" stroke-width="1.0"/>
<line x1="36.5" y1="105.2" x2="173" y2="105.2" stroke="#5a5a5a" stroke-width="1.0"/>
<line x1="37" y1="105.2" x2="37" y2="4" stroke="#5a5a5a" stroke-width="1.0"/>
<line x1="59.54" y1="105.2" x2="59.54" y2="107.2" stroke="#5a5a5a" stroke-width="1.0"/>
<text x="59.54" y="115.8" font-size="8.3" text-anchor="middle">400</text>
<line x1="104.62" y1="105.2" x2="104.62" y2="107.2" stroke="#5a5a5a" stroke-width="1.0"/>
<text x="104.62" y="115.8" font-size="8.3" text-anchor="middle">600</text>
<line x1="149.7" y1="105.2" x2="149.7" y2="107.2" stroke="#5a5a5a" stroke-width="1.0"/>
<text x="149.7" y="115.8" font-size="8.3" text-anchor="middle">800</text>
<line x1="37" y1="105.2" x2="37" y2="106.6" stroke="#5a5a5a" stroke-width="1.0"/>
<line x1="82.08" y1="105.2" x2="82.08" y2="106.6" stroke="#5a5a5a" stroke-width="1.0"/>
<line x1="127.16" y1="105.2" x2="127.16" y2="106.6" stroke="#5a5a5a" stroke-width="1.0"/>
<line x1="172.24" y1="105.2" x2="172.24" y2="106.6" stroke="#5a5a5a" stroke-width="1.0"/>
<line x1="37" y1="105.2" x2="35" y2="105.2" stroke="#5a5a5a" stroke-width="1.0"/>
<text x="33.8" y="107.94" font-size="8.3" text-anchor="end">0.0</text>
<line x1="37" y1="65.2" x2="35" y2="65.2" stroke="#5a5a5a" stroke-width="1.0"/>
<text x="33.8" y="67.94" font-size="8.3" text-anchor="end">0.6</text>
<line x1="37" y1="25.2" x2="35" y2="25.2" stroke="#5a5a5a" stroke-width="1.0"/>
<text x="33.8" y="27.94" font-size="8.3" text-anchor="end">1.2</text>
<line x1="37" y1="85.2" x2="35.6" y2="85.2" stroke="#5a5a5a" stroke-width="1.0"/>
<line x1="37" y1="45.2" x2="35.6" y2="45.2" stroke="#5a5a5a" stroke-width="1.0"/>
<text x="11.9" y="13.6" font-size="14">(a)</text>
<text x="15.4" y="54.8" font-size="11.4" text-anchor="middle" transform="rotate(-90 15.4 54.8)">Absorbance</text>
<text x="104.9" y="126.3" font-size="11.4" text-anchor="middle">Wavelength(nm)</text>
<text x="90.75" y="63.5" font-size="8.9" text-anchor="middle">10.0 μmol/L</text>
<text x="94.3" y="79.8" font-size="8.1" text-anchor="middle" font-weight="bold">NPCS</text>
<text x="90.75" y="94" font-size="8.9" text-anchor="middle">0.5 μmol/L</text>
<line x1="80.5" y1="85" x2="80.5" y2="68" stroke="#222" stroke-width="0.9"/>
<path d="M78.8,68.5 L80.5,65 L82.2,68.5 Z" fill="#222"/>
<polyline points="220.8,13.9 222.3,20.4 223.9,26.3 225.4,31.6 227.0,36.5 228.6,41.0 230.1,45.0 231.7,48.7 233.2,52.1 234.8,55.2 236.3,58.0 237.9,60.5 239.5,62.9 241.0,65.0 242.6,66.9 244.1,68.7 245.7,70.3 247.2,71.8 248.8,73.1 250.4,74.3 251.9,75.4 253.5,76.4 255.0,77.4 256.6,78.2 258.1,79.0 259.7,79.7 261.3,80.3 262.8,80.9 264.4,81.4 265.9,81.9 267.5,82.3 269.1,82.8 270.6,83.1 272.2,83.5 273.7,83.8 275.3,84.0 276.8,84.3 278.4,84.5 280.0,84.7 281.5,84.9 283.1,85.1 284.6,85.3 286.2,85.4 287.7,85.5 289.3,85.7 290.9,85.8 292.4,85.9 294.0,86.0 295.5,86.0 297.1,86.1 298.6,86.2 300.2,86.2 301.8,86.3 303.3,86.4 304.9,86.4 306.4,86.4 308.0,86.5 309.5,86.5 311.1,86.6 312.7,86.6 314.2,86.6 315.8,86.6 317.3,86.7 318.9,86.7 320.4,86.7 322.0,86.7 323.6,86.7 325.1,86.7 326.7,86.8 328.2,86.8 329.8,86.8 331.3,86.8 332.9,86.8 334.5,86.8 336.0,86.8 337.6,86.8 339.1,86.8 340.7,86.8 342.2,86.8 343.8,86.8" stroke="#ff0000" stroke-width="1.0"/>
<rect x="218.83" y="12.31" width="3.9" height="3.9" class="m" stroke-width="1.0"/>
<rect x="225.3" y="27.86" width="3.9" height="3.9" class="m" stroke-width="1.0"/>
<rect x="231.78" y="58.32" width="3.9" height="3.9" class="m" stroke-width="1.0"/>
<rect x="238.25" y="63.97" width="3.9" height="3.9" class="m" stroke-width="1.0"/>
<rect x="244.73" y="69.82" width="3.9" height="3.9" class="m" stroke-width="1.0"/>
<rect x="251.2" y="70.78" width="3.9" height="3.9" class="m" stroke-width="1.0"/>
<rect x="257.68" y="76.64" width="3.9" height="3.9" class="m" stroke-width="1.0"/>
<rect x="264.15" y="78.66" width="3.9" height="3.9" class="m" stroke-width="1.0"/>
<rect x="270.62" y="77.92" width="3.9" height="3.9" class="m" stroke-width="1.0"/>
<rect x="277.1" y="80.47" width="3.9" height="3.9" class="m" stroke-width="1.0"/>
<rect x="283.57" y="81.22" width="3.9" height="3.9" class="m" stroke-width="1.0"/>
<rect x="290.05" y="81.22" width="3.9" height="3.9" class="m" stroke-width="1.0"/>
<rect x="296.52" y="83.78" width="3.9" height="3.9" class="m" stroke-width="1.0"/>
<rect x="303" y="84.31" width="3.9" height="3.9" class="m" stroke-width="1.0"/>
<rect x="309.47" y="84.84" width="3.9" height="3.9" class="m" stroke-width="1.0"/>
<rect x="315.95" y="84.84" width="3.9" height="3.9" class="m" stroke-width="1.0"/>
<rect x="322.43" y="86.33" width="3.9" height="3.9" class="m" stroke-width="1.0"/>
<rect x="328.9" y="86.86" width="3.9" height="3.9" class="m" stroke-width="1.0"/>
<rect x="335.38" y="86.86" width="3.9" height="3.9" class="m" stroke-width="1.0"/>
<rect x="341.85" y="87.4" width="3.9" height="3.9" class="m" stroke-width="1.0"/>
<line x1="213.7" y1="106.6" x2="345.5" y2="106.6" stroke="#5a5a5a" stroke-width="1.0"/>
<line x1="214.2" y1="106.6" x2="214.2" y2="6" stroke="#5a5a5a" stroke-width="1.0"/>
<line x1="214.3" y1="106.6" x2="214.3" y2="108.6" stroke="#5a5a5a" stroke-width="1.0"/>
<text x="214.3" y="117" font-size="8.3" text-anchor="middle">0</text>
<line x1="266.1" y1="106.6" x2="266.1" y2="108.6" stroke="#5a5a5a" stroke-width="1.0"/>
<text x="266.1" y="117" font-size="8.3" text-anchor="middle">4</text>
<line x1="317.9" y1="106.6" x2="317.9" y2="108.6" stroke="#5a5a5a" stroke-width="1.0"/>
<text x="317.9" y="117" font-size="8.3" text-anchor="middle">8</text>
<line x1="240.2" y1="106.6" x2="240.2" y2="108" stroke="#5a5a5a" stroke-width="1.0"/>
<line x1="292" y1="106.6" x2="292" y2="108" stroke="#5a5a5a" stroke-width="1.0"/>
<line x1="343.8" y1="106.6" x2="343.8" y2="108" stroke="#5a5a5a" stroke-width="1.0"/>
<line x1="214.2" y1="106.6" x2="212.2" y2="106.6" stroke="#5a5a5a" stroke-width="1.0"/>
<text x="211" y="109.34" font-size="8.3" text-anchor="end">0</text>
<line x1="214.2" y1="64" x2="212.2" y2="64" stroke="#5a5a5a" stroke-width="1.0"/>
<text x="211" y="66.74" font-size="8.3" text-anchor="end">4</text>
<line x1="214.2" y1="21.4" x2="212.2" y2="21.4" stroke="#5a5a5a" stroke-width="1.0"/>
<text x="211" y="24.14" font-size="8.3" text-anchor="end">8</text>
<line x1="214.2" y1="85.3" x2="212.8" y2="85.3" stroke="#5a5a5a" stroke-width="1.0"/>
<line x1="214.2" y1="42.7" x2="212.8" y2="42.7" stroke="#5a5a5a" stroke-width="1.0"/>
<text x="176.6" y="13.4" font-size="14">(b)</text>
<text x="197.8" y="52.95" font-size="11.5" text-anchor="middle" transform="rotate(-90 197.8 52.95)">A765/A850</text>
<text x="290.2" y="127" font-size="11.4" text-anchor="middle">[probe]<tspan font-size="8">(</tspan>μmol/L<tspan font-size="8">)</tspan></text>
<polyline points="386.2,96.9 387.1,96.6 388.0,96.5 388.9,96.7 389.9,97.2 390.8,98.0 391.7,99.5 392.6,101.3 393.5,102.7 394.4,103.1 395.4,103.2 396.3,103.3 397.2,103.3 398.1,103.3 399.0,103.3 399.9,103.2 400.9,103.2 401.8,103.1 402.7,103.0 403.6,103.0 404.5,103.1 405.4,103.2 406.4,103.3 407.3,103.4 408.2,103.5 409.1,103.6 410.0,103.6 410.9,103.6 411.8,103.6 412.8,103.6 413.7,103.5 414.6,103.4 415.5,103.4 416.4,103.3 417.3,103.3 418.3,103.4 419.2,103.5 420.1,103.9 421.0,104.4 421.9,104.8 422.8,105.1 423.8,105.4 424.7,105.7 425.6,105.9 426.5,106.1 427.4,106.3 428.3,106.4 429.3,106.4 430.2,106.5 431.1,106.6 432.0,106.7 432.9,106.8 433.8,106.9 434.7,106.9 435.7,107.0 436.6,107.0 437.5,107.1 438.4,107.1 439.3,107.1 440.2,107.1 441.2,107.1 442.1,107.1 443.0,107.0 443.9,106.9 444.8,106.9 445.7,106.8 446.7,106.7 447.6,106.6 448.5,106.5 449.4,106.4 450.3,106.2 451.2,105.9 452.2,105.6 453.1,105.2 454.0,104.8 454.9,104.4 455.8,103.9 456.7,103.5 457.6,102.9 458.6,102.3 459.5,101.6 460.4,100.7 461.3,99.6 462.2,98.4 463.1,97.3 464.1,96.3 465.0,95.6 465.9,95.0 466.8,94.5 467.7,93.9 468.6,93.4 469.6,92.8 470.5,92.1 471.4,91.5 472.3,90.9 473.2,90.4 474.1,89.9 475.1,89.4 476.0,89.0 476.9,88.6 477.8,88.2 478.7,87.8 479.6,87.5 480.5,87.3 481.5,87.1 482.4,86.8 483.3,86.4 484.2,85.9 485.1,85.4 486.0,84.8 487.0,84.3 487.9,83.8 488.8,83.4 489.7,83.1 490.6,82.6 491.5,82.0 492.5,81.6 493.4,81.5 494.3,82.0 495.2,82.7 496.1,83.6 497.0,84.6 498.0,85.5 498.9,86.6 499.8,87.6 500.7,88.2 501.6,88.6 502.5,88.9 503.4,89.2 504.4,89.4 505.3,89.7 506.2,89.9 507.1,90.1 508.0,90.3 508.9,90.5 509.9,90.8 510.8,91.0 511.7,91.3 512.6,91.8 513.5,92.4 514.4,93.2 515.4,94.1 516.3,95.0 517.2,95.9 518.1,96.9 519.0,97.9 519.9,98.8 520.9,99.6 521.8,100.3 522.7,101.0 523.6,101.6" stroke="#000000" stroke-width="1.1"/>
<polyline points="386.2,96.9 387.1,96.6 388.0,96.5 388.9,96.7 389.9,97.2 390.8,98.0 391.7,99.5 392.6,101.3 393.5,102.7 394.4,103.1 395.4,103.2 396.3,103.3 397.2,103.3 398.1,103.3 399.0,103.3 399.9,103.2 400.9,103.2 401.8,103.1 402.7,103.0 403.6,103.0 404.5,103.1 405.4,103.2 406.4,103.3 407.3,103.4 408.2,103.5 409.1,103.6 410.0,103.6 410.9,103.6 411.8,103.6 412.8,103.6 413.7,103.5 414.6,103.4 415.5,103.4 416.4,103.3 417.3,103.3 418.3,103.4 419.2,103.5 420.1,103.9 421.0,104.4 421.9,104.8 422.8,105.1 423.8,105.4 424.7,105.7 425.6,105.9 426.5,106.1 427.4,106.3 428.3,106.4 429.3,106.4 430.2,106.5 431.1,106.6 432.0,106.7 432.9,106.8 433.8,106.9 434.7,106.9 435.7,107.0 436.6,107.0 437.5,107.1 438.4,107.1 439.3,107.1 440.2,107.1 441.2,107.1 442.1,107.0 443.0,107.0 443.9,106.9 444.8,106.9 445.7,106.8 446.7,106.7 447.6,106.6 448.5,106.5 449.4,106.4 450.3,106.2 451.2,105.9 452.2,105.6 453.1,105.2 454.0,104.8 454.9,104.4 455.8,103.9 456.7,103.3 457.6,102.7 458.6,101.9 459.5,101.1 460.4,100.1 461.3,98.9 462.2,97.5 463.1,96.2 464.1,94.9 465.0,93.9 465.9,92.9 466.8,91.9 467.7,90.9 468.6,90.0 469.6,89.1 470.5,88.2 471.4,87.4 472.3,86.6 473.2,85.7 474.1,84.8 475.1,84.1 476.0,83.9 476.9,84.0 477.8,84.0 478.7,84.0 479.6,83.9 480.5,83.8 481.5,83.6 482.4,83.2 483.3,82.8 484.2,82.2 485.1,81.5 486.0,80.8 487.0,80.1 487.9,79.4 488.8,78.7 489.7,78.0 490.6,77.4 491.5,76.9 492.5,76.7 493.4,76.7 494.3,76.9 495.2,77.3 496.1,78.6 497.0,80.7 498.0,82.8 498.9,84.8 499.8,86.7 500.7,88.2 501.6,89.3 502.5,90.2 503.4,90.9 504.4,91.4 505.3,91.9 506.2,92.4 507.1,92.8 508.0,93.1 508.9,93.4 509.9,93.7 510.8,94.0 511.7,94.3 512.6,94.7 513.5,95.3 514.4,95.9 515.4,96.7 516.3,97.4 517.2,98.1 518.1,98.9 519.0,99.8 519.9,100.5 520.9,101.1 521.8,101.7 522.7,102.3 523.6,102.7" stroke="#ff0000" stroke-width="1.1"/>
<polyline points="386.2,96.9 387.1,96.6 388.0,96.5 388.9,96.7 389.9,97.2 390.8,98.0 391.7,99.5 392.6,101.3 393.5,102.7 394.4,103.1 395.4,103.2 396.3,103.3 397.2,103.3 398.1,103.3 399.0,103.3 399.9,103.2 400.9,103.2 401.8,103.1 402.7,103.0 403.6,103.0 404.5,103.1 405.4,103.2 406.4,103.3 407.3,103.4 408.2,103.5 409.1,103.6 410.0,103.6 410.9,103.6 411.8,103.6 412.8,103.6 413.7,103.5 414.6,103.4 415.5,103.4 416.4,103.3 417.3,103.3 418.3,103.4 419.2,103.5 420.1,103.9 421.0,104.4 421.9,104.8 422.8,105.1 423.8,105.4 424.7,105.7 425.6,105.9 426.5,106.1 427.4,106.3 428.3,106.4 429.3,106.4 430.2,106.5 431.1,106.6 432.0,106.7 432.9,106.8 433.8,106.9 434.7,106.9 435.7,107.0 436.6,107.0 437.5,107.1 438.4,107.1 439.3,107.1 440.2,107.1 441.2,107.1 442.1,107.0 443.0,107.0 443.9,106.9 444.8,106.9 445.7,106.8 446.7,106.7 447.6,106.6 448.5,106.5 449.4,106.4 450.3,106.2 451.2,105.9 452.2,105.6 453.1,105.2 454.0,104.8 454.9,104.4 455.8,103.9 456.7,103.3 457.6,102.6 458.6,101.8 459.5,100.9 460.4,99.9 461.3,98.6 462.2,97.2 463.1,95.7 464.1,94.4 465.0,93.2 465.9,92.0 466.8,90.8 467.7,89.7 468.6,88.6 469.6,87.6 470.5,86.7 471.4,85.8 472.3,84.8 473.2,83.8 474.1,82.7 475.1,81.9 476.0,81.8 476.9,81.9 477.8,82.1 478.7,82.1 479.6,82.1 480.5,82.0 481.5,81.8 482.4,81.4 483.3,80.9 484.2,80.2 485.1,79.5 486.0,78.6 487.0,77.8 487.9,76.8 488.8,75.8 489.7,74.5 490.6,73.4 491.5,72.5 492.5,71.9 493.4,71.9 494.3,72.1 495.2,72.8 496.1,75.0 497.0,78.1 498.0,81.2 498.9,83.8 499.8,86.3 500.7,88.2 501.6,89.6 502.5,90.8 503.4,91.8 504.4,92.5 505.3,93.1 506.2,93.7 507.1,94.1 508.0,94.5 508.9,94.9 509.9,95.2 510.8,95.5 511.7,95.8 512.6,96.2 513.5,96.7 514.4,97.3 515.4,98.0 516.3,98.6 517.2,99.3 518.1,100.0 519.0,100.7 519.9,101.4 520.9,101.9 521.8,102.4 522.7,102.9 523.6,103.3" stroke="#0000ff" stroke-width="1.1"/>
<polyline points="386.2,96.9 387.1,96.6 388.0,96.5 388.9,96.7 389.9,97.2 390.8,98.0 391.7,99.5 392.6,101.3 393.5,102.7 394.4,103.1 395.4,103.2 396.3,103.3 397.2,103.3 398.1,103.3 399.0,103.3 399.9,103.2 400.9,103.2 401.8,103.1 402.7,103.0 403.6,103.0 404.5,103.1 405.4,103.2 406.4,103.3 407.3,103.4 408.2,103.5 409.1,103.6 410.0,103.6 410.9,103.6 411.8,103.6 412.8,103.6 413.7,103.5 414.6,103.4 415.5,103.4 416.4,103.3 417.3,103.3 418.3,103.4 419.2,103.5 420.1,103.9 421.0,104.4 421.9,104.8 422.8,105.1 423.8,105.4 424.7,105.7 425.6,105.9 426.5,106.1 427.4,106.3 428.3,106.4 429.3,106.4 430.2,106.5 431.1,106.6 432.0,106.7 432.9,106.8 433.8,106.9 434.7,106.9 435.7,107.0 436.6,107.0 437.5,107.1 438.4,107.1 439.3,107.1 440.2,107.1 441.2,107.1 442.1,107.0 443.0,107.0 443.9,106.9 444.8,106.9 445.7,106.8 446.7,106.7 447.6,106.6 448.5,106.5 449.4,106.4 450.3,106.2 451.2,105.9 452.2,105.6 453.1,105.2 454.0,104.8 454.9,104.4 455.8,103.9 456.7,103.3 457.6,102.6 458.6,101.8 459.5,100.9 460.4,99.9 461.3,98.6 462.2,97.2 463.1,95.7 464.1,94.4 465.0,93.2 465.9,92.0 466.8,90.8 467.7,89.7 468.6,88.6 469.6,87.6 470.5,86.7 471.4,85.7 472.3,84.8 473.2,83.7 474.1,82.5 475.1,81.5 476.0,81.2 476.9,81.1 477.8,81.0 478.7,81.0 479.6,80.9 480.5,80.7 481.5,80.4 482.4,79.9 483.3,79.3 484.2,78.7 485.1,77.8 486.0,76.9 487.0,75.9 487.9,74.7 488.8,73.2 489.7,71.4 490.6,69.6 491.5,68.1 492.5,67.2 493.4,67.1 494.3,67.4 495.2,68.6 496.1,71.6 497.0,75.8 498.0,79.8 498.9,83.0 499.8,85.9 500.7,88.2 501.6,89.9 502.5,91.4 503.4,92.5 504.4,93.3 505.3,94.1 506.2,94.7 507.1,95.2 508.0,95.7 508.9,96.1 509.9,96.4 510.8,96.7 511.7,97.0 512.6,97.4 513.5,97.9 514.4,98.5 515.4,99.0 516.3,99.6 517.2,100.2 518.1,100.8 519.0,101.5 519.9,102.1 520.9,102.6 521.8,103.0 522.7,103.4 523.6,103.8" stroke="#ff00ff" stroke-width="1.1"/>
<polyline points="386.2,96.9 387.1,96.6 388.0,96.5 388.9,96.7 389.9,97.2 390.8,98.0 391.7,99.5 392.6,101.3 393.5,102.7 394.4,103.1 395.4,103.2 396.3,103.3 397.2,103.3 398.1,103.3 399.0,103.3 399.9,103.2 400.9,103.2 401.8,103.1 402.7,103.0 403.6,103.0 404.5,103.1 405.4,103.2 406.4,103.3 407.3,103.4 408.2,103.5 409.1,103.6 410.0,103.6 410.9,103.6 411.8,103.6 412.8,103.6 413.7,103.5 414.6,103.4 415.5,103.4 416.4,103.3 417.3,103.3 418.3,103.4 419.2,103.5 420.1,103.9 421.0,104.4 421.9,104.8 422.8,105.1 423.8,105.4 424.7,105.7 425.6,105.9 426.5,106.1 427.4,106.3 428.3,106.4 429.3,106.4 430.2,106.5 431.1,106.6 432.0,106.7 432.9,106.8 433.8,106.9 434.7,106.9 435.7,107.0 436.6,107.0 437.5,107.1 438.4,107.1 439.3,107.1 440.2,107.1 441.2,107.1 442.1,107.0 443.0,107.0 443.9,106.9 444.8,106.9 445.7,106.8 446.7,106.7 447.6,106.6 448.5,106.5 449.4,106.4 450.3,106.2 451.2,105.9 452.2,105.6 453.1,105.2 454.0,104.8 454.9,104.4 455.8,103.9 456.7,103.3 457.6,102.6 458.6,101.8 459.5,100.9 460.4,99.9 461.3,98.6 462.2,97.2 463.1,95.7 464.1,94.4 465.0,93.2 465.9,92.0 466.8,90.8 467.7,89.7 468.6,88.6 469.6,87.6 470.5,86.6 471.4,85.7 472.3,84.7 473.2,83.6 474.1,82.3 475.1,81.2 476.0,80.6 476.9,80.4 477.8,80.1 478.7,79.9 479.6,79.8 480.5,79.5 481.5,79.2 482.4,78.6 483.3,78.0 484.2,77.3 485.1,76.4 486.0,75.3 487.0,74.2 487.9,72.7 488.8,70.8 489.7,68.4 490.6,66.0 491.5,63.8 492.5,62.5 493.4,62.3 494.3,62.7 495.2,64.4 496.1,68.4 497.0,73.7 498.0,78.5 498.9,82.2 499.8,85.6 500.7,88.2 501.6,90.2 502.5,91.8 503.4,93.1 504.4,94.1 505.3,94.9 506.2,95.6 507.1,96.2 508.0,96.7 508.9,97.1 509.9,97.5 510.8,97.8 511.7,98.1 512.6,98.5 513.5,99.0 514.4,99.5 515.4,100.0 516.3,100.5 517.2,101.0 518.1,101.6 519.0,102.2 519.9,102.7 520.9,103.1 521.8,103.5 522.7,103.9 523.6,104.2" stroke="#00a000" stroke-width="1.1"/>
<polyline points="386.2,96.9 387.1,96.6 388.0,96.5 388.9,96.7 389.9,97.2 390.8,98.0 391.7,99.5 392.6,101.3 393.5,102.7 394.4,103.1 395.4,103.2 396.3,103.3 397.2,103.3 398.1,103.3 399.0,103.3 399.9,103.2 400.9,103.2 401.8,103.1 402.7,103.0 403.6,103.0 404.5,103.1 405.4,103.2 406.4,103.3 407.3,103.4 408.2,103.5 409.1,103.6 410.0,103.6 410.9,103.6 411.8,103.6 412.8,103.6 413.7,103.5 414.6,103.4 415.5,103.4 416.4,103.3 417.3,103.3 418.3,103.4 419.2,103.5 420.1,103.9 421.0,104.4 421.9,104.8 422.8,105.1 423.8,105.4 424.7,105.7 425.6,105.9 426.5,106.1 427.4,106.3 428.3,106.4 429.3,106.4 430.2,106.5 431.1,106.6 432.0,106.7 432.9,106.8 433.8,106.9 434.7,106.9 435.7,107.0 436.6,107.0 437.5,107.1 438.4,107.1 439.3,107.1 440.2,107.1 441.2,107.1 442.1,107.0 443.0,107.0 443.9,106.9 444.8,106.9 445.7,106.8 446.7,106.7 447.6,106.6 448.5,106.5 449.4,106.4 450.3,106.2 451.2,105.9 452.2,105.6 453.1,105.2 454.0,104.8 454.9,104.4 455.8,103.9 456.7,103.3 457.6,102.6 458.6,101.8 459.5,100.9 460.4,99.9 461.3,98.6 462.2,97.2 463.1,95.7 464.1,94.4 465.0,93.2 465.9,92.0 466.8,90.8 467.7,89.7 468.6,88.6 469.6,87.6 470.5,86.6 471.4,85.7 472.3,84.7 473.2,83.5 474.1,82.1 475.1,80.9 476.0,80.2 476.9,79.7 477.8,79.3 478.7,79.0 479.6,78.7 480.5,78.5 481.5,78.1 482.4,77.5 483.3,76.8 484.2,76.0 485.1,75.0 486.0,73.9 487.0,72.6 487.9,70.9 488.8,68.5 489.7,65.5 490.6,62.4 491.5,59.6 492.5,57.8 493.4,57.5 494.3,58.1 495.2,60.3 496.1,65.3 497.0,71.7 498.0,77.2 498.9,81.5 499.8,85.2 500.7,88.2 501.6,90.4 502.5,92.3 503.4,93.7 504.4,94.7 505.3,95.7 506.2,96.5 507.1,97.1 508.0,97.6 508.9,98.1 509.9,98.5 510.8,98.8 511.7,99.1 512.6,99.5 513.5,99.9 514.4,100.3 515.4,100.8 516.3,101.3 517.2,101.7 518.1,102.3 519.0,102.8 519.9,103.2 520.9,103.6 521.8,104.0 522.7,104.3 523.6,104.6" stroke="#5050ff" stroke-width="1.1"/>
<polyline points="386.2,96.9 387.1,96.6 388.0,96.5 388.9,96.7 389.9,97.2 390.8,98.0 391.7,99.5 392.6,101.3 393.5,102.7 394.4,103.1 395.4,103.2 396.3,103.3 397.2,103.3 398.1,103.3 399.0,103.3 399.9,103.2 400.9,103.2 401.8,103.1 402.7,103.0 403.6,103.0 404.5,103.1 405.4,103.2 406.4,103.3 407.3,103.4 408.2,103.5 409.1,103.6 410.0,103.6 410.9,103.6 411.8,103.6 412.8,103.6 413.7,103.5 414.6,103.4 415.5,103.4 416.4,103.3 417.3,103.3 418.3,103.4 419.2,103.5 420.1,103.9 421.0,104.4 421.9,104.8 422.8,105.1 423.8,105.4 424.7,105.7 425.6,105.9 426.5,106.1 427.4,106.3 428.3,106.4 429.3,106.4 430.2,106.5 431.1,106.6 432.0,106.7 432.9,106.8 433.8,106.9 434.7,106.9 435.7,107.0 436.6,107.0 437.5,107.1 438.4,107.1 439.3,107.1 440.2,107.1 441.2,107.1 442.1,107.0 443.0,107.0 443.9,106.9 444.8,106.9 445.7,106.8 446.7,106.7 447.6,106.6 448.5,106.5 449.4,106.4 450.3,106.2 451.2,105.9 452.2,105.6 453.1,105.2 454.0,104.8 454.9,104.4 455.8,103.9 456.7,103.3 457.6,102.6 458.6,101.8 459.5,100.9 460.4,99.9 461.3,98.6 462.2,97.2 463.1,95.7 464.1,94.4 465.0,93.2 465.9,92.0 466.8,90.8 467.7,89.7 468.6,88.6 469.6,87.6 470.5,86.6 471.4,85.7 472.3,84.7 473.2,83.5 474.1,82.0 475.1,80.6 476.0,79.7 476.9,79.1 477.8,78.5 478.7,78.1 479.6,77.8 480.5,77.5 481.5,77.0 482.4,76.4 483.3,75.7 484.2,74.8 485.1,73.8 486.0,72.5 487.0,71.2 487.9,69.1 488.8,66.4 489.7,62.7 490.6,58.9 491.5,55.4 492.5,53.1 493.4,52.7 494.3,53.5 495.2,56.2 496.1,62.3 497.0,69.7 498.0,76.1 498.9,80.8 499.8,84.9 500.7,88.2 501.6,90.6 502.5,92.7 503.4,94.2 504.4,95.3 505.3,96.4 506.2,97.2 507.1,97.9 508.0,98.4 508.9,99.0 509.9,99.4 510.8,99.7 511.7,100.0 512.6,100.3 513.5,100.8 514.4,101.2 515.4,101.6 516.3,102.0 517.2,102.4 518.1,102.9 519.0,103.3 519.9,103.7 520.9,104.1 521.8,104.4 522.7,104.7 523.6,104.9" stroke="#8000ff" stroke-width="1.1"/>
<polyline points="386.2,96.9 387.1,96.6 388.0,96.5 388.9,96.7 389.9,97.2 390.8,98.0 391.7,99.5 392.6,101.3 393.5,102.7 394.4,103.1 395.4,103.2 396.3,103.3 397.2,103.3 398.1,103.3 399.0,103.3 399.9,103.2 400.9,103.2 401.8,103.1 402.7,103.0 403.6,103.0 404.5,103.1 405.4,103.2 406.4,103.3 407.3,103.4 408.2,103.5 409.1,103.6 410.0,103.6 410.9,103.6 411.8,103.6 412.8,103.6 413.7,103.5 414.6,103.4 415.5,103.4 416.4,103.3 417.3,103.3 418.3,103.4 419.2,103.5 420.1,103.9 421.0,104.4 421.9,104.8 422.8,105.1 423.8,105.4 424.7,105.7 425.6,105.9 426.5,106.1 427.4,106.3 428.3,106.4 429.3,106.4 430.2,106.5 431.1,106.6 432.0,106.7 432.9,106.8 433.8,106.9 434.7,106.9 435.7,107.0 436.6,107.0 437.5,107.1 438.4,107.1 439.3,107.1 440.2,107.1 441.2,107.1 442.1,107.0 443.0,107.0 443.9,106.9 444.8,106.9 445.7,106.8 446.7,106.7 447.6,106.6 448.5,106.5 449.4,106.4 450.3,106.2 451.2,105.9 452.2,105.6 453.1,105.2 454.0,104.8 454.9,104.4 455.8,103.9 456.7,103.3 457.6,102.6 458.6,101.8 459.5,100.9 460.4,99.9 461.3,98.6 462.2,97.2 463.1,95.7 464.1,94.4 465.0,93.2 465.9,92.0 466.8,90.8 467.7,89.7 468.6,88.6 469.6,87.6 470.5,86.6 471.4,85.7 472.3,84.6 473.2,83.4 474.1,81.8 475.1,80.4 476.0,79.3 476.9,78.5 477.8,77.8 478.7,77.3 479.6,76.9 480.5,76.6 481.5,76.1 482.4,75.4 483.3,74.6 484.2,73.7 485.1,72.6 486.0,71.3 487.0,69.7 487.9,67.4 488.8,64.3 489.7,60.0 490.6,55.5 491.5,51.2 492.5,48.4 493.4,47.9 494.3,48.8 495.2,52.2 496.1,59.3 497.0,67.8 498.0,75.0 498.9,80.2 499.8,84.7 500.7,88.2 501.6,90.8 502.5,93.0 503.4,94.7 504.4,95.9 505.3,97.0 506.2,97.9 507.1,98.6 508.0,99.2 508.9,99.8 509.9,100.2 510.8,100.5 511.7,100.8 512.6,101.2 513.5,101.6 514.4,101.9 515.4,102.3 516.3,102.7 517.2,103.0 518.1,103.5 519.0,103.9 519.9,104.2 520.9,104.5 521.8,104.8 522.7,105.0 523.6,105.2" stroke="#c000c0" stroke-width="1.1"/>
<polyline points="386.2,96.9 387.1,96.6 388.0,96.5 388.9,96.7 389.9,97.2 390.8,98.0 391.7,99.5 392.6,101.3 393.5,102.7 394.4,103.1 395.4,103.2 396.3,103.3 397.2,103.3 398.1,103.3 399.0,103.3 399.9,103.2 400.9,103.2 401.8,103.1 402.7,103.0 403.6,103.0 404.5,103.1 405.4,103.2 406.4,103.3 407.3,103.4 408.2,103.5 409.1,103.6 410.0,103.6 410.9,103.6 411.8,103.6 412.8,103.6 413.7,103.5 414.6,103.4 415.5,103.4 416.4,103.3 417.3,103.3 418.3,103.4 419.2,103.5 420.1,103.9 421.0,104.4 421.9,104.8 422.8,105.1 423.8,105.4 424.7,105.7 425.6,105.9 426.5,106.1 427.4,106.3 428.3,106.4 429.3,106.4 430.2,106.5 431.1,106.6 432.0,106.7 432.9,106.8 433.8,106.9 434.7,106.9 435.7,107.0 436.6,107.0 437.5,107.1 438.4,107.1 439.3,107.1 440.2,107.1 441.2,107.1 442.1,107.0 443.0,107.0 443.9,106.9 444.8,106.9 445.7,106.8 446.7,106.7 447.6,106.6 448.5,106.5 449.4,106.4 450.3,106.2 451.2,105.9 452.2,105.6 453.1,105.2 454.0,104.8 454.9,104.4 455.8,103.9 456.7,103.3 457.6,102.6 458.6,101.8 459.5,100.9 460.4,99.9 461.3,98.6 462.2,97.2 463.1,95.7 464.1,94.4 465.0,93.2 465.9,92.0 466.8,90.8 467.7,89.7 468.6,88.6 469.6,87.6 470.5,86.6 471.4,85.7 472.3,84.6 473.2,83.3 474.1,81.7 475.1,80.1 476.0,78.9 476.9,78.0 477.8,77.2 478.7,76.5 479.6,76.1 480.5,75.7 481.5,75.2 482.4,74.5 483.3,73.6 484.2,72.7 485.1,71.5 486.0,70.0 487.0,68.4 487.9,65.8 488.8,62.2 489.7,57.3 490.6,52.1 491.5,47.1 492.5,43.7 493.4,43.1 494.3,44.2 495.2,48.3 496.1,56.4 497.0,66.0 498.0,73.9 498.9,79.6 499.8,84.4 500.7,88.2 501.6,91.0 502.5,93.4 503.4,95.1 504.4,96.4 505.3,97.6 506.2,98.6 507.1,99.3 508.0,100.0 508.9,100.6 509.9,101.0 510.8,101.3 511.7,101.6 512.6,102.0 513.5,102.3 514.4,102.7 515.4,103.0 516.3,103.3 517.2,103.6 518.1,104.0 519.0,104.4 519.9,104.7 520.9,104.9 521.8,105.2 522.7,105.4 523.6,105.5" stroke="#800000" stroke-width="1.1"/>
<polyline points="386.2,96.9 387.1,96.6 388.0,96.5 388.9,96.7 389.9,97.2 390.8,98.0 391.7,99.5 392.6,101.3 393.5,102.7 394.4,103.1 395.4,103.2 396.3,103.3 397.2,103.3 398.1,103.3 399.0,103.3 399.9,103.2 400.9,103.2 401.8,103.1 402.7,103.0 403.6,103.0 404.5,103.1 405.4,103.2 406.4,103.3 407.3,103.4 408.2,103.5 409.1,103.6 410.0,103.6 410.9,103.6 411.8,103.6 412.8,103.6 413.7,103.5 414.6,103.4 415.5,103.4 416.4,103.3 417.3,103.3 418.3,103.4 419.2,103.5 420.1,103.9 421.0,104.4 421.9,104.8 422.8,105.1 423.8,105.4 424.7,105.7 425.6,105.9 426.5,106.1 427.4,106.3 428.3,106.4 429.3,106.4 430.2,106.5 431.1,106.6 432.0,106.7 432.9,106.8 433.8,106.9 434.7,106.9 435.7,107.0 436.6,107.0 437.5,107.1 438.4,107.1 439.3,107.1 440.2,107.1 441.2,107.1 442.1,107.0 443.0,107.0 443.9,106.9 444.8,106.9 445.7,106.8 446.7,106.7 447.6,106.6 448.5,106.5 449.4,106.4 450.3,106.2 451.2,105.9 452.2,105.6 453.1,105.2 454.0,104.8 454.9,104.4 455.8,103.9 456.7,103.3 457.6,102.6 458.6,101.8 459.5,100.9 460.4,99.9 461.3,98.6 462.2,97.2 463.1,95.7 464.1,94.4 465.0,93.2 465.9,92.0 466.8,90.8 467.7,89.7 468.6,88.6 469.6,87.6 470.5,86.6 471.4,85.6 472.3,84.6 473.2,83.3 474.1,81.6 475.1,79.9 476.0,78.6 476.9,77.5 477.8,76.5 478.7,75.8 479.6,75.3 480.5,74.9 481.5,74.3 482.4,73.6 483.3,72.7 484.2,71.7 485.1,70.5 486.0,68.9 487.0,67.1 487.9,64.3 488.8,60.3 489.7,54.7 490.6,48.7 491.5,42.9 492.5,39.0 493.4,38.3 494.3,39.7 495.2,44.3 496.1,53.5 497.0,64.2 498.0,72.8 498.9,79.0 499.8,84.2 500.7,88.2 501.6,91.2 502.5,93.7 503.4,95.6 504.4,97.0 505.3,98.2 506.2,99.2 507.1,100.0 508.0,100.7 508.9,101.3 509.9,101.7 510.8,102.0 511.7,102.4 512.6,102.7 513.5,103.0 514.4,103.3 515.4,103.6 516.3,103.9 517.2,104.2 518.1,104.5 519.0,104.8 519.9,105.1 520.9,105.3 521.8,105.5 522.7,105.7 523.6,105.8" stroke="#808000" stroke-width="1.1"/>
<polyline points="386.2,96.9 387.1,96.6 388.0,96.5 388.9,96.7 389.9,97.2 390.8,98.0 391.7,99.5 392.6,101.3 393.5,102.7 394.4,103.1 395.4,103.2 396.3,103.3 397.2,103.3 398.1,103.3 399.0,103.3 399.9,103.2 400.9,103.2 401.8,103.1 402.7,103.0 403.6,103.0 404.5,103.1 405.4,103.2 406.4,103.3 407.3,103.4 408.2,103.5 409.1,103.6 410.0,103.6 410.9,103.6 411.8,103.6 412.8,103.6 413.7,103.5 414.6,103.4 415.5,103.4 416.4,103.3 417.3,103.3 418.3,103.4 419.2,103.5 420.1,103.9 421.0,104.4 421.9,104.8 422.8,105.1 423.8,105.4 424.7,105.7 425.6,105.9 426.5,106.1 427.4,106.3 428.3,106.4 429.3,106.4 430.2,106.5 431.1,106.6 432.0,106.7 432.9,106.8 433.8,106.9 434.7,106.9 435.7,107.0 436.6,107.0 437.5,107.1 438.4,107.1 439.3,107.1 440.2,107.1 441.2,107.1 442.1,107.0 443.0,107.0 443.9,106.9 444.8,106.9 445.7,106.8 446.7,106.7 447.6,106.6 448.5,106.5 449.4,106.4 450.3,106.2 451.2,105.9 452.2,105.6 453.1,105.2 454.0,104.8 454.9,104.4 455.8,103.9 456.7,103.3 457.6,102.6 458.6,101.8 459.5,100.9 460.4,99.9 461.3,98.6 462.2,97.2 463.1,95.7 464.1,94.4 465.0,93.2 465.9,92.0 466.8,90.8 467.7,89.7 468.6,88.6 469.6,87.5 470.5,86.6 471.4,85.6 472.3,84.5 473.2,83.2 474.1,81.5 475.1,79.7 476.0,78.2 476.9,77.0 477.8,75.9 478.7,75.1 479.6,74.6 480.5,74.1 481.5,73.5 482.4,72.7 483.3,71.8 484.2,70.8 485.1,69.5 486.0,67.8 487.0,65.8 487.9,62.8 488.8,58.3 489.7,52.1 490.6,45.3 491.5,38.8 492.5,34.4 493.4,33.6 494.3,35.1 495.2,40.4 496.1,50.6 497.0,62.4 498.0,71.8 498.9,78.4 499.8,83.9 500.7,88.2 501.6,91.3 502.5,94.0 503.4,96.0 504.4,97.5 505.3,98.8 506.2,99.8 507.1,100.6 508.0,101.4 508.9,102.0 509.9,102.4 510.8,102.8 511.7,103.1 512.6,103.4 513.5,103.7 514.4,104.0 515.4,104.3 516.3,104.5 517.2,104.8 518.1,105.0 519.0,105.3 519.9,105.5 520.9,105.7 521.8,105.9 522.7,106.0 523.6,106.1" stroke="#008080" stroke-width="1.1"/>
<polyline points="386.2,96.9 387.1,96.6 388.0,96.5 388.9,96.7 389.9,97.2 390.8,98.0 391.7,99.5 392.6,101.3 393.5,102.7 394.4,103.1 395.4,103.2 396.3,103.3 397.2,103.3 398.1,103.3 399.0,103.3 399.9,103.2 400.9,103.2 401.8,103.1 402.7,103.0 403.6,103.0 404.5,103.1 405.4,103.2 406.4,103.3 407.3,103.4 408.2,103.5 409.1,103.6 410.0,103.6 410.9,103.6 411.8,103.6 412.8,103.6 413.7,103.5 414.6,103.4 415.5,103.4 416.4,103.3 417.3,103.3 418.3,103.4 419.2,103.5 420.1,103.9 421.0,104.4 421.9,104.8 422.8,105.1 423.8,105.4 424.7,105.7 425.6,105.9 426.5,106.1 427.4,106.3 428.3,106.4 429.3,106.4 430.2,106.5 431.1,106.6 432.0,106.7 432.9,106.8 433.8,106.9 434.7,106.9 435.7,107.0 436.6,107.0 437.5,107.1 438.4,107.1 439.3,107.1 440.2,107.1 441.2,107.1 442.1,107.0 443.0,107.0 443.9,106.9 444.8,106.9 445.7,106.8 446.7,106.7 447.6,106.6 448.5,106.5 449.4,106.4 450.3,106.2 451.2,105.9 452.2,105.6 453.1,105.2 454.0,104.8 454.9,104.4 455.8,103.9 456.7,103.3 457.6,102.6 458.6,101.8 459.5,100.9 460.4,99.9 461.3,98.6 462.2,97.2 463.1,95.7 464.1,94.4 465.0,93.2 465.9,92.0 466.8,90.8 467.7,89.7 468.6,88.6 469.6,87.5 470.5,86.6 471.4,85.6 472.3,84.5 473.2,83.2 474.1,81.4 475.1,79.5 476.0,77.9 476.9,76.5 477.8,75.3 478.7,74.4 479.6,73.9 480.5,73.4 481.5,72.7 482.4,71.9 483.3,70.9 484.2,69.9 485.1,68.5 486.0,66.7 487.0,64.6 487.9,61.3 488.8,56.4 489.7,49.6 490.6,42.0 491.5,34.7 492.5,29.7 493.4,28.8 494.3,30.5 495.2,36.5 496.1,47.8 497.0,60.6 498.0,70.8 498.9,77.8 499.8,83.7 500.7,88.2 501.6,91.5 502.5,94.3 503.4,96.4 504.4,97.9 505.3,99.3 506.2,100.4 507.1,101.2 508.0,102.0 508.9,102.7 509.9,103.1 510.8,103.5 511.7,103.8 512.6,104.1 513.5,104.4 514.4,104.6 515.4,104.9 516.3,105.1 517.2,105.3 518.1,105.5 519.0,105.7 519.9,105.9 520.9,106.1 521.8,106.2 522.7,106.3 523.6,106.4" stroke="#d06060" stroke-width="1.1"/>
<polyline points="386.2,96.9 387.1,96.6 388.0,96.5 388.9,96.7 389.9,97.2 390.8,98.0 391.7,99.5 392.6,101.3 393.5,102.7 394.4,103.1 395.4,103.2 396.3,103.3 397.2,103.3 398.1,103.3 399.0,103.3 399.9,103.2 400.9,103.2 401.8,103.1 402.7,103.0 403.6,103.0 404.5,103.1 405.4,103.2 406.4,103.3 407.3,103.4 408.2,103.5 409.1,103.6 410.0,103.6 410.9,103.6 411.8,103.6 412.8,103.6 413.7,103.5 414.6,103.4 415.5,103.4 416.4,103.3 417.3,103.3 418.3,103.4 419.2,103.5 420.1,103.9 421.0,104.4 421.9,104.8 422.8,105.1 423.8,105.4 424.7,105.7 425.6,105.9 426.5,106.1 427.4,106.3 428.3,106.4 429.3,106.4 430.2,106.5 431.1,106.6 432.0,106.7 432.9,106.8 433.8,106.9 434.7,106.9 435.7,107.0 436.6,107.0 437.5,107.1 438.4,107.1 439.3,107.1 440.2,107.1 441.2,107.1 442.1,107.0 443.0,107.0 443.9,106.9 444.8,106.9 445.7,106.8 446.7,106.7 447.6,106.6 448.5,106.5 449.4,106.4 450.3,106.2 451.2,105.9 452.2,105.6 453.1,105.2 454.0,104.8 454.9,104.4 455.8,103.9 456.7,103.3 457.6,102.6 458.6,101.8 459.5,100.9 460.4,99.9 461.3,98.6 462.2,97.2 463.1,95.7 464.1,94.4 465.0,93.2 465.9,92.0 466.8,90.8 467.7,89.7 468.6,88.6 469.6,87.5 470.5,86.6 471.4,85.6 472.3,84.5 473.2,83.1 474.1,81.2 475.1,79.3 476.0,77.5 476.9,76.1 477.8,74.8 478.7,73.8 479.6,73.2 480.5,72.7 481.5,72.0 482.4,71.1 483.3,70.1 484.2,69.0 485.1,67.6 486.0,65.7 487.0,63.4 487.9,59.8 488.8,54.5 489.7,47.0 490.6,38.7 491.5,30.6 492.5,25.0 493.4,24.0 494.3,25.9 495.2,32.6 496.1,44.9 497.0,58.9 498.0,69.8 498.9,77.3 499.8,83.4 500.7,88.2 501.6,91.7 502.5,94.6 503.4,96.8 504.4,98.4 505.3,99.8 506.2,101.0 507.1,101.8 508.0,102.6 508.9,103.3 509.9,103.8 510.8,104.1 511.7,104.5 512.6,104.8 513.5,105.0 514.4,105.3 515.4,105.4 516.3,105.6 517.2,105.8 518.1,106.0 519.0,106.1 519.9,106.3 520.9,106.4 521.8,106.5 522.7,106.6 523.6,106.6" stroke="#00a000" stroke-width="1.1"/>
<polyline points="386.2,96.9 387.1,96.6 388.0,96.5 388.9,96.7 389.9,97.2 390.8,98.0 391.7,99.5 392.6,101.3 393.5,102.7 394.4,103.1 395.4,103.2 396.3,103.3 397.2,103.3 398.1,103.3 399.0,103.3 399.9,103.2 400.9,103.2 401.8,103.1 402.7,103.0 403.6,103.0 404.5,103.1 405.4,103.2 406.4,103.3 407.3,103.4 408.2,103.5 409.1,103.6 410.0,103.6 410.9,103.6 411.8,103.6 412.8,103.6 413.7,103.5 414.6,103.4 415.5,103.4 416.4,103.3 417.3,103.3 418.3,103.4 419.2,103.5 420.1,103.9 421.0,104.4 421.9,104.8 422.8,105.1 423.8,105.4 424.7,105.7 425.6,105.9 426.5,106.1 427.4,106.3 428.3,106.4 429.3,106.4 430.2,106.5 431.1,106.6 432.0,106.7 432.9,106.8 433.8,106.9 434.7,106.9 435.7,107.0 436.6,107.0 437.5,107.1 438.4,107.1 439.3,107.1 440.2,107.1 441.2,107.1 442.1,107.0 443.0,107.0 443.9,106.9 444.8,106.9 445.7,106.8 446.7,106.7 447.6,106.6 448.5,106.5 449.4,106.4 450.3,106.2 451.2,105.9 452.2,105.6 453.1,105.2 454.0,104.8 454.9,104.4 455.8,103.9 456.7,103.3 457.6,102.6 458.6,101.8 459.5,100.9 460.4,99.9 461.3,98.6 462.2,97.2 463.1,95.7 464.1,94.4 465.0,93.2 465.9,92.0 466.8,90.8 467.7,89.7 468.6,88.6 469.6,87.5 470.5,86.6 471.4,85.6 472.3,84.5 473.2,83.0 474.1,81.1 475.1,79.1 476.0,77.2 476.9,75.6 477.8,74.2 478.7,73.2 479.6,72.5 480.5,72.0 481.5,71.2 482.4,70.3 483.3,69.3 484.2,68.1 485.1,66.7 486.0,64.6 487.0,62.3 487.9,58.4 488.8,52.7 489.7,44.5 490.6,35.4 491.5,26.5 492.5,20.3 493.4,19.2 494.3,21.4 495.2,28.7 496.1,42.2 497.0,57.2 498.0,68.9 498.9,76.8 499.8,83.2 500.7,88.2 501.6,91.8 502.5,94.9 503.4,97.1 504.4,98.8 505.3,100.3 506.2,101.5 507.1,102.4 508.0,103.2 508.9,103.9 509.9,104.4 510.8,104.8 511.7,105.1 512.6,105.4 513.5,105.7 514.4,105.8 515.4,106.0 516.3,106.1 517.2,106.3 518.1,106.4 519.0,106.5 519.9,106.6 520.9,106.7 521.8,106.8 522.7,106.8 523.6,106.9" stroke="#c00060" stroke-width="1.1"/>
<polyline points="386.2,96.9 387.1,96.6 388.0,96.5 388.9,96.7 389.9,97.2 390.8,98.0 391.7,99.5 392.6,101.3 393.5,102.7 394.4,103.1 395.4,103.2 396.3,103.3 397.2,103.3 398.1,103.3 399.0,103.3 399.9,103.2 400.9,103.2 401.8,103.1 402.7,103.0 403.6,103.0 404.5,103.1 405.4,103.2 406.4,103.3 407.3,103.4 408.2,103.5 409.1,103.6 410.0,103.6 410.9,103.6 411.8,103.6 412.8,103.6 413.7,103.5 414.6,103.4 415.5,103.4 416.4,103.3 417.3,103.3 418.3,103.4 419.2,103.5 420.1,103.9 421.0,104.4 421.9,104.8 422.8,105.1 423.8,105.4 424.7,105.7 425.6,105.9 426.5,106.1 427.4,106.3 428.3,106.4 429.3,106.4 430.2,106.5 431.1,106.6 432.0,106.7 432.9,106.8 433.8,106.9 434.7,106.9 435.7,107.0 436.6,107.0 437.5,107.1 438.4,107.1 439.3,107.1 440.2,107.1 441.2,107.1 442.1,107.0 443.0,107.0 443.9,106.9 444.8,106.9 445.7,106.8 446.7,106.7 447.6,106.6 448.5,106.5 449.4,106.4 450.3,106.2 451.2,105.9 452.2,105.6 453.1,105.2 454.0,104.8 454.9,104.4 455.8,103.9 456.7,103.3 457.6,102.6 458.6,101.8 459.5,100.9 460.4,99.9 461.3,98.6 462.2,97.2 463.1,95.7 464.1,94.4 465.0,93.2 465.9,92.0 466.8,90.8 467.7,89.7 468.6,88.6 469.6,87.5 470.5,86.6 471.4,85.6 472.3,84.4 473.2,83.0 474.1,81.0 475.1,78.9 476.0,76.9 476.9,75.2 477.8,73.7 478.7,72.6 479.6,71.9 480.5,71.3 481.5,70.5 482.4,69.6 483.3,68.5 484.2,67.3 485.1,65.8 486.0,63.7 487.0,61.1 487.9,57.0 488.8,50.9 489.7,42.1 490.6,32.2 491.5,22.4 492.5,15.7 493.4,14.4 494.3,16.8 495.2,24.8 496.1,39.4 497.0,55.5 498.0,67.9 498.9,76.2 499.8,83.0 500.7,88.2 501.6,92.0 502.5,95.2 503.4,97.5 504.4,99.3 505.3,100.8 506.2,102.1 507.1,103.0 508.0,103.8 508.9,104.5 509.9,105.0 510.8,105.4 511.7,105.7 512.6,106.0 513.5,106.3 514.4,106.4 515.4,106.5 516.3,106.6 517.2,106.7 518.1,106.8 519.0,106.9 519.9,107.0 520.9,107.1 521.8,107.1 522.7,107.1 523.6,107.1" stroke="#00c0c0" stroke-width="1.1"/>
<line x1="385.4" y1="107.1" x2="524.3" y2="107.1" stroke="#5a5a5a" stroke-width="1.0"/>
<line x1="385.9" y1="107.1" x2="385.9" y2="3.8" stroke="#5a5a5a" stroke-width="1.0"/>
<line x1="409.1" y1="107.1" x2="409.1" y2="109.1" stroke="#5a5a5a" stroke-width="1.0"/>
<text x="409.1" y="117" font-size="8.3" text-anchor="middle">400</text>
<line x1="454.9" y1="107.1" x2="454.9" y2="109.1" stroke="#5a5a5a" stroke-width="1.0"/>
<text x="454.9" y="117" font-size="8.3" text-anchor="middle">600</text>
<line x1="500.7" y1="107.1" x2="500.7" y2="109.1" stroke="#5a5a5a" stroke-width="1.0"/>
<text x="500.7" y="117" font-size="8.3" text-anchor="middle">800</text>
<line x1="386.2" y1="107.1" x2="386.2" y2="108.5" stroke="#5a5a5a" stroke-width="1.0"/>
<line x1="432" y1="107.1" x2="432" y2="108.5" stroke="#5a5a5a" stroke-width="1.0"/>
<line x1="477.8" y1="107.1" x2="477.8" y2="108.5" stroke="#5a5a5a" stroke-width="1.0"/>
<line x1="523.6" y1="107.1" x2="523.6" y2="108.5" stroke="#5a5a5a" stroke-width="1.0"/>
<line x1="385.9" y1="107.1" x2="383.9" y2="107.1" stroke="#5a5a5a" stroke-width="1.0"/>
<text x="382.7" y="109.84" font-size="8.3" text-anchor="end">0.0</text>
<line x1="385.9" y1="65.95" x2="383.9" y2="65.95" stroke="#5a5a5a" stroke-width="1.0"/>
<text x="382.7" y="68.69" font-size="8.3" text-anchor="end">0.6</text>
<line x1="385.9" y1="24.8" x2="383.9" y2="24.8" stroke="#5a5a5a" stroke-width="1.0"/>
<text x="382.7" y="27.54" font-size="8.3" text-anchor="end">1.2</text>
<line x1="385.9" y1="86.52" x2="384.5" y2="86.52" stroke="#5a5a5a" stroke-width="1.0"/>
<line x1="385.9" y1="45.38" x2="384.5" y2="45.38" stroke="#5a5a5a" stroke-width="1.0"/>
<text x="348.7" y="12.6" font-size="14">(c)</text>
<text x="361.4" y="62.55" font-size="11.6" text-anchor="middle" transform="rotate(-90 361.4 62.55)">Absorbance</text>
<text x="454.9" y="127.5" font-size="11.6" text-anchor="middle">Wavelength(nm)</text>
<line x1="506.5" y1="48" x2="506.5" y2="36.5" stroke="#222" stroke-width="0.9"/>
<path d="M504.8,37 L506.5,33.5 L508.2,37 Z" fill="#222"/>
<polyline points="567.4,103.7 568.9,103.7 570.4,103.6 571.8,103.6 573.3,103.5 574.8,103.5 576.3,103.4 577.7,103.3 579.2,103.3 580.7,103.2 582.2,103.1 583.6,103.0 585.1,102.9 586.6,102.8 588.1,102.7 589.5,102.6 591.0,102.5 592.5,102.4 594.0,102.2 595.4,102.1 596.9,102.0 598.4,101.8 599.9,101.6 601.3,101.5 602.8,101.3 604.3,101.1 605.8,100.9 607.3,100.6 608.7,100.4 610.2,100.1 611.7,99.9 613.2,99.6 614.6,99.3 616.1,99.0 617.6,98.6 619.1,98.2 620.5,97.9 622.0,97.5 623.5,97.0 625.0,96.6 626.4,96.1 627.9,95.5 629.4,95.0 630.9,94.4 632.3,93.8 633.8,93.1 635.3,92.4 636.8,91.6 638.2,90.8 639.7,90.0 641.2,89.1 642.7,88.1 644.1,87.1 645.6,86.1 647.1,84.9 648.6,83.7 650.1,82.4 651.5,81.0 653.0,79.6 654.5,78.0 656.0,76.4 657.4,74.6 658.9,72.8 660.4,70.8 661.9,68.7 663.3,66.5 664.8,64.1 666.3,61.6 667.8,59.0 669.2,56.2 670.7,53.1 672.2,50.0 673.7,46.6 675.1,43.0 676.6,39.2 678.1,35.1 679.6,30.8 681.0,26.2 682.5,21.3 684.0,16.2" stroke="#ff0000" stroke-width="1.0"/>
<rect x="565.45" y="101.87" width="3.9" height="3.9" class="m" stroke-width="1.0"/>
<rect x="573.22" y="101.1" width="3.9" height="3.9" class="m" stroke-width="1.0"/>
<rect x="581" y="100.59" width="3.9" height="3.9" class="m" stroke-width="1.0"/>
<rect x="588.77" y="100.09" width="3.9" height="3.9" class="m" stroke-width="1.0"/>
<rect x="596.54" y="99.07" width="3.9" height="3.9" class="m" stroke-width="1.0"/>
<rect x="604.32" y="98.3" width="3.9" height="3.9" class="m" stroke-width="1.0"/>
<rect x="612.09" y="96.52" width="3.9" height="3.9" class="m" stroke-width="1.0"/>
<rect x="619.86" y="94.49" width="3.9" height="3.9" class="m" stroke-width="1.0"/>
<rect x="627.64" y="90.93" width="3.9" height="3.9" class="m" stroke-width="1.0"/>
<rect x="635.41" y="87.36" width="3.9" height="3.9" class="m" stroke-width="1.0"/>
<rect x="643.18" y="81.26" width="3.9" height="3.9" class="m" stroke-width="1.0"/>
<rect x="650.96" y="78.97" width="3.9" height="3.9" class="m" stroke-width="1.0"/>
<rect x="658.73" y="65.23" width="3.9" height="3.9" class="m" stroke-width="1.0"/>
<rect x="666.5" y="57.34" width="3.9" height="3.9" class="m" stroke-width="1.0"/>
<rect x="674.28" y="28.58" width="3.9" height="3.9" class="m" stroke-width="1.0"/>
<rect x="682.05" y="13.32" width="3.9" height="3.9" class="m" stroke-width="1.0"/>
<line x1="559.5" y1="106.3" x2="698" y2="106.3" stroke="#5a5a5a" stroke-width="1.0"/>
<line x1="560" y1="106.3" x2="560" y2="3.8" stroke="#5a5a5a" stroke-width="1.0"/>
<line x1="567.4" y1="106.3" x2="567.4" y2="108.3" stroke="#5a5a5a" stroke-width="1.0"/>
<text x="567.4" y="116.5" font-size="8.3" text-anchor="middle">0.00</text>
<line x1="606.27" y1="106.3" x2="606.27" y2="108.3" stroke="#5a5a5a" stroke-width="1.0"/>
<text x="606.27" y="116.5" font-size="8.3" text-anchor="middle">0.05</text>
<line x1="645.13" y1="106.3" x2="645.13" y2="108.3" stroke="#5a5a5a" stroke-width="1.0"/>
<text x="645.13" y="116.5" font-size="8.3" text-anchor="middle">0.10</text>
<line x1="684" y1="106.3" x2="684" y2="108.3" stroke="#5a5a5a" stroke-width="1.0"/>
<text x="684" y="116.5" font-size="8.3" text-anchor="middle">0.15</text>
<line x1="586.83" y1="106.3" x2="586.83" y2="107.7" stroke="#5a5a5a" stroke-width="1.0"/>
<line x1="625.7" y1="106.3" x2="625.7" y2="107.7" stroke="#5a5a5a" stroke-width="1.0"/>
<line x1="664.57" y1="106.3" x2="664.57" y2="107.7" stroke="#5a5a5a" stroke-width="1.0"/>
<line x1="560" y1="106.3" x2="558" y2="106.3" stroke="#5a5a5a" stroke-width="1.0"/>
<text x="556.8" y="109.04" font-size="8.3" text-anchor="end">0</text>
<line x1="560" y1="57.6" x2="558" y2="57.6" stroke="#5a5a5a" stroke-width="1.0"/>
<text x="556.8" y="60.34" font-size="8.3" text-anchor="end">40</text>
<line x1="560" y1="8.9" x2="558" y2="8.9" stroke="#5a5a5a" stroke-width="1.0"/>
<text x="556.8" y="11.64" font-size="8.3" text-anchor="end">80</text>
<line x1="560" y1="81.95" x2="558.6" y2="81.95" stroke="#5a5a5a" stroke-width="1.0"/>
<line x1="560" y1="33.25" x2="558.6" y2="33.25" stroke="#5a5a5a" stroke-width="1.0"/>
<text x="519.1" y="12.5" font-size="14">(d)</text>
<text x="542" y="61.45" font-size="11.7" text-anchor="middle" transform="rotate(-90 542 61.45)">A765/A850</text>
<text x="629.9" y="127.5" font-size="11.5" text-anchor="middle">DMSO Fraction(%)</text>
<polyline points="36.9,224.5 37.8,224.2 38.7,224.1 39.6,224.3 40.5,224.8 41.4,225.5 42.3,227.1 43.2,228.8 44.1,230.2 45.0,230.7 46.0,230.8 46.9,230.8 47.8,230.8 48.7,230.8 49.6,230.8 50.5,230.8 51.4,230.7 52.3,230.6 53.2,230.5 54.1,230.5 55.1,230.6 56.0,230.7 56.9,230.8 57.8,230.9 58.7,231.1 59.6,231.1 60.5,231.2 61.4,231.2 62.3,231.1 63.2,231.1 64.2,231.0 65.1,231.0 66.0,230.9 66.9,230.9 67.8,230.9 68.7,230.9 69.6,231.0 70.5,231.4 71.4,231.9 72.3,232.4 73.2,232.6 74.2,232.9 75.1,233.2 76.0,233.4 76.9,233.6 77.8,233.8 78.7,233.9 79.6,234.0 80.5,234.0 81.4,234.1 82.3,234.2 83.3,234.3 84.2,234.4 85.1,234.4 86.0,234.5 86.9,234.5 87.8,234.6 88.7,234.6 89.6,234.6 90.5,234.6 91.5,234.6 92.4,234.6 93.3,234.5 94.2,234.4 95.1,234.4 96.0,234.3 96.9,234.2 97.8,234.1 98.7,234.0 99.6,233.9 100.6,233.7 101.5,233.4 102.4,233.1 103.3,232.7 104.2,232.3 105.1,231.9 106.0,231.5 106.9,231.0 107.8,230.4 108.7,229.8 109.7,229.2 110.6,228.3 111.5,227.2 112.4,226.0 113.3,224.9 114.2,223.9 115.1,223.2 116.0,222.6 116.9,222.1 117.8,221.6 118.8,221.0 119.7,220.4 120.6,219.8 121.5,219.1 122.4,218.5 123.3,218.0 124.2,217.5 125.1,217.1 126.0,216.6 126.9,216.2 127.8,215.8 128.8,215.5 129.7,215.2 130.6,215.0 131.5,214.7 132.4,214.5 133.3,214.1 134.2,213.6 135.1,213.1 136.0,212.5 136.9,212.0 137.9,211.5 138.8,211.1 139.7,210.8 140.6,210.3 141.5,209.7 142.4,209.3 143.3,209.2 144.2,209.7 145.1,210.4 146.1,211.3 147.0,212.3 147.9,213.2 148.8,214.3 149.7,215.2 150.6,215.9 151.5,216.3 152.4,216.6 153.3,216.9 154.2,217.1 155.2,217.3 156.1,217.5 157.0,217.8 157.9,218.0 158.8,218.2 159.7,218.4 160.6,218.7 161.5,219.0 162.4,219.4 163.3,220.1 164.2,220.9 165.2,221.7 166.1,222.6 167.0,223.5 167.9,224.5 168.8,225.5 169.7,226.4 170.6,227.2 171.5,227.9 172.4,228.6 173.3,229.2" stroke="#000000" stroke-width="1.1"/>
<polyline points="36.9,224.5 37.8,224.2 38.7,224.1 39.6,224.3 40.5,224.8 41.4,225.5 42.3,227.1 43.2,228.8 44.1,230.2 45.0,230.7 46.0,230.8 46.9,230.8 47.8,230.8 48.7,230.8 49.6,230.8 50.5,230.8 51.4,230.7 52.3,230.6 53.2,230.5 54.1,230.5 55.1,230.6 56.0,230.7 56.9,230.8 57.8,230.9 58.7,231.1 59.6,231.1 60.5,231.2 61.4,231.2 62.3,231.1 63.2,231.1 64.2,231.0 65.1,231.0 66.0,230.9 66.9,230.9 67.8,230.9 68.7,230.9 69.6,231.0 70.5,231.4 71.4,231.9 72.3,232.4 73.2,232.6 74.2,232.9 75.1,233.2 76.0,233.4 76.9,233.6 77.8,233.8 78.7,233.9 79.6,234.0 80.5,234.0 81.4,234.1 82.3,234.2 83.3,234.3 84.2,234.4 85.1,234.4 86.0,234.5 86.9,234.5 87.8,234.6 88.7,234.6 89.6,234.6 90.5,234.6 91.5,234.6 92.4,234.5 93.3,234.5 94.2,234.4 95.1,234.4 96.0,234.3 96.9,234.2 97.8,234.1 98.7,234.0 99.6,233.9 100.6,233.7 101.5,233.4 102.4,233.1 103.3,232.7 104.2,232.3 105.1,231.9 106.0,231.4 106.9,230.8 107.8,230.1 108.7,229.4 109.7,228.5 110.6,227.4 111.5,226.1 112.4,224.7 113.3,223.3 114.2,222.0 115.1,220.8 116.0,219.6 116.9,218.5 117.8,217.4 118.8,216.3 119.7,215.2 120.6,214.3 121.5,213.4 122.4,212.5 123.3,211.5 124.2,210.3 125.1,209.4 126.0,209.2 126.9,209.3 127.8,209.3 128.8,209.3 129.7,209.3 130.6,209.1 131.5,208.8 132.4,208.4 133.3,207.9 134.2,207.2 135.1,206.5 136.0,205.6 136.9,204.7 137.9,203.6 138.8,202.3 139.7,200.9 140.6,199.4 141.5,198.3 142.4,197.6 143.3,197.6 144.2,197.8 145.1,198.7 146.1,201.2 147.0,204.8 147.9,208.2 148.8,211.1 149.7,213.8 150.6,215.9 151.5,217.4 152.4,218.7 153.3,219.7 154.2,220.5 155.2,221.2 156.1,221.8 157.0,222.2 157.9,222.7 158.8,223.1 159.7,223.4 160.6,223.7 161.5,224.0 162.4,224.4 163.3,224.9 164.2,225.4 165.2,226.0 166.1,226.7 167.0,227.3 167.9,228.0 168.8,228.6 169.7,229.2 170.6,229.8 171.5,230.3 172.4,230.7 173.3,231.1" stroke="#ff0000" stroke-width="1.1"/>
<polyline points="36.9,224.5 37.8,224.2 38.7,224.1 39.6,224.3 40.5,224.8 41.4,225.5 42.3,227.1 43.2,228.8 44.1,230.2 45.0,230.7 46.0,230.8 46.9,230.8 47.8,230.8 48.7,230.8 49.6,230.8 50.5,230.8 51.4,230.7 52.3,230.6 53.2,230.5 54.1,230.5 55.1,230.6 56.0,230.7 56.9,230.8 57.8,230.9 58.7,231.1 59.6,231.1 60.5,231.2 61.4,231.2 62.3,231.1 63.2,231.1 64.2,231.0 65.1,231.0 66.0,230.9 66.9,230.9 67.8,230.9 68.7,230.9 69.6,231.0 70.5,231.4 71.4,231.9 72.3,232.4 73.2,232.6 74.2,232.9 75.1,233.2 76.0,233.4 76.9,233.6 77.8,233.8 78.7,233.9 79.6,234.0 80.5,234.0 81.4,234.1 82.3,234.2 83.3,234.3 84.2,234.4 85.1,234.4 86.0,234.5 86.9,234.5 87.8,234.6 88.7,234.6 89.6,234.6 90.5,234.6 91.5,234.6 92.4,234.5 93.3,234.5 94.2,234.4 95.1,234.4 96.0,234.3 96.9,234.2 97.8,234.1 98.7,234.0 99.6,233.9 100.6,233.7 101.5,233.4 102.4,233.1 103.3,232.7 104.2,232.3 105.1,231.9 106.0,231.4 106.9,230.8 107.8,230.1 108.7,229.4 109.7,228.5 110.6,227.4 111.5,226.1 112.4,224.7 113.3,223.3 114.2,222.0 115.1,220.8 116.0,219.6 116.9,218.5 117.8,217.4 118.8,216.3 119.7,215.2 120.6,214.3 121.5,213.4 122.4,212.4 123.3,211.3 124.2,209.9 125.1,208.7 126.0,208.1 126.9,207.7 127.8,207.3 128.8,207.1 129.7,206.9 130.6,206.6 131.5,206.2 132.4,205.7 133.3,205.0 134.2,204.2 135.1,203.3 136.0,202.2 136.9,201.0 137.9,199.3 138.8,197.2 139.7,194.4 140.6,191.6 141.5,189.1 142.4,187.5 143.3,187.2 144.2,187.7 145.1,189.7 146.1,194.3 147.0,200.2 147.9,205.4 148.8,209.5 149.7,213.0 150.6,215.9 151.5,218.0 152.4,219.7 153.3,221.1 154.2,222.1 155.2,223.0 156.1,223.7 157.0,224.3 157.9,224.9 158.8,225.3 159.7,225.7 160.6,226.0 161.5,226.3 162.4,226.7 163.3,227.1 164.2,227.6 165.2,228.1 166.1,228.5 167.0,229.0 167.9,229.6 168.8,230.1 169.7,230.6 170.6,231.0 171.5,231.3 172.4,231.7 173.3,232.0" stroke="#0000ff" stroke-width="1.1"/>
<polyline points="36.9,224.5 37.8,224.2 38.7,224.1 39.6,224.3 40.5,224.8 41.4,225.5 42.3,227.1 43.2,228.8 44.1,230.2 45.0,230.7 46.0,230.8 46.9,230.8 47.8,230.8 48.7,230.8 49.6,230.8 50.5,230.8 51.4,230.7 52.3,230.6 53.2,230.5 54.1,230.5 55.1,230.6 56.0,230.7 56.9,230.8 57.8,230.9 58.7,231.1 59.6,231.1 60.5,231.2 61.4,231.2 62.3,231.1 63.2,231.1 64.2,231.0 65.1,231.0 66.0,230.9 66.9,230.9 67.8,230.9 68.7,230.9 69.6,231.0 70.5,231.4 71.4,231.9 72.3,232.4 73.2,232.6 74.2,232.9 75.1,233.2 76.0,233.4 76.9,233.6 77.8,233.8 78.7,233.9 79.6,234.0 80.5,234.0 81.4,234.1 82.3,234.2 83.3,234.3 84.2,234.4 85.1,234.4 86.0,234.5 86.9,234.5 87.8,234.6 88.7,234.6 89.6,234.6 90.5,234.6 91.5,234.6 92.4,234.5 93.3,234.5 94.2,234.4 95.1,234.4 96.0,234.3 96.9,234.2 97.8,234.1 98.7,234.0 99.6,233.9 100.6,233.7 101.5,233.4 102.4,233.1 103.3,232.7 104.2,232.3 105.1,231.9 106.0,231.4 106.9,230.8 107.8,230.1 108.7,229.4 109.7,228.5 110.6,227.4 111.5,226.1 112.4,224.7 113.3,223.3 114.2,222.0 115.1,220.8 116.0,219.6 116.9,218.5 117.8,217.4 118.8,216.3 119.7,215.2 120.6,214.3 121.5,213.4 122.4,212.3 123.3,211.1 124.2,209.6 125.1,208.1 126.0,207.0 126.9,206.3 127.8,205.6 128.8,205.1 129.7,204.7 130.6,204.4 131.5,203.9 132.4,203.2 133.3,202.4 134.2,201.5 135.1,200.4 136.0,199.1 136.9,197.6 137.9,195.3 138.8,192.1 139.7,187.9 140.6,183.4 141.5,179.2 142.4,176.4 143.3,175.9 144.2,176.8 145.1,180.2 146.1,187.2 147.0,195.7 147.9,202.7 148.8,207.9 149.7,212.4 150.6,215.9 151.5,218.4 152.4,220.6 153.3,222.3 154.2,223.5 155.2,224.6 156.1,225.5 157.0,226.2 157.9,226.8 158.8,227.3 159.7,227.7 160.6,228.1 161.5,228.4 162.4,228.7 163.3,229.1 164.2,229.5 165.2,229.8 166.1,230.2 167.0,230.6 167.9,231.0 168.8,231.4 169.7,231.7 170.6,232.0 171.5,232.3 172.4,232.6 173.3,232.7" stroke="#ff00ff" stroke-width="1.1"/>
<polyline points="36.9,224.5 37.8,224.2 38.7,224.1 39.6,224.3 40.5,224.8 41.4,225.5 42.3,227.1 43.2,228.8 44.1,230.2 45.0,230.7 46.0,230.8 46.9,230.8 47.8,230.8 48.7,230.8 49.6,230.8 50.5,230.8 51.4,230.7 52.3,230.6 53.2,230.5 54.1,230.5 55.1,230.6 56.0,230.7 56.9,230.8 57.8,230.9 58.7,231.1 59.6,231.1 60.5,231.2 61.4,231.2 62.3,231.1 63.2,231.1 64.2,231.0 65.1,231.0 66.0,230.9 66.9,230.9 67.8,230.9 68.7,230.9 69.6,231.0 70.5,231.4 71.4,231.9 72.3,232.4 73.2,232.6 74.2,232.9 75.1,233.2 76.0,233.4 76.9,233.6 77.8,233.8 78.7,233.9 79.6,234.0 80.5,234.0 81.4,234.1 82.3,234.2 83.3,234.3 84.2,234.4 85.1,234.4 86.0,234.5 86.9,234.5 87.8,234.6 88.7,234.6 89.6,234.6 90.5,234.6 91.5,234.6 92.4,234.5 93.3,234.5 94.2,234.4 95.1,234.4 96.0,234.3 96.9,234.2 97.8,234.1 98.7,234.0 99.6,233.9 100.6,233.7 101.5,233.4 102.4,233.1 103.3,232.7 104.2,232.3 105.1,231.9 106.0,231.4 106.9,230.8 107.8,230.1 108.7,229.4 109.7,228.5 110.6,227.4 111.5,226.1 112.4,224.7 113.3,223.3 114.2,222.0 115.1,220.8 116.0,219.6 116.9,218.5 117.8,217.4 118.8,216.2 119.7,215.2 120.6,214.3 121.5,213.3 122.4,212.2 123.3,210.9 124.2,209.2 125.1,207.4 126.0,205.9 126.9,204.7 127.8,203.6 128.8,202.8 129.7,202.3 130.6,201.9 131.5,201.2 132.4,200.4 133.3,199.5 134.2,198.5 135.1,197.2 136.0,195.5 136.9,193.6 137.9,190.5 138.8,186.1 139.7,179.9 140.6,173.1 141.5,166.6 142.4,162.1 143.3,161.3 144.2,162.8 145.1,168.1 146.1,178.4 147.0,190.1 147.9,199.5 148.8,206.1 149.7,211.6 150.6,215.9 151.5,219.0 152.4,221.6 153.3,223.6 154.2,225.1 155.2,226.4 156.1,227.4 157.0,228.2 157.9,229.0 158.8,229.6 159.7,230.0 160.6,230.4 161.5,230.7 162.4,231.0 163.3,231.3 164.2,231.6 165.2,231.8 166.1,232.1 167.0,232.3 167.9,232.6 168.8,232.8 169.7,233.0 170.6,233.2 171.5,233.4 172.4,233.5 173.3,233.6" stroke="#008000" stroke-width="1.1"/>
<line x1="36.4" y1="234.6" x2="173" y2="234.6" stroke="#5a5a5a" stroke-width="1.0"/>
<line x1="36.9" y1="234.6" x2="36.9" y2="133.9" stroke="#5a5a5a" stroke-width="1.0"/>
<line x1="59.6" y1="234.6" x2="59.6" y2="236.6" stroke="#5a5a5a" stroke-width="1.0"/>
<text x="59.6" y="245" font-size="8.3" text-anchor="middle">400</text>
<line x1="105.1" y1="234.6" x2="105.1" y2="236.6" stroke="#5a5a5a" stroke-width="1.0"/>
<text x="105.1" y="245" font-size="8.3" text-anchor="middle">600</text>
<line x1="150.6" y1="234.6" x2="150.6" y2="236.6" stroke="#5a5a5a" stroke-width="1.0"/>
<text x="150.6" y="245" font-size="8.3" text-anchor="middle">800</text>
<line x1="36.85" y1="234.6" x2="36.85" y2="236" stroke="#5a5a5a" stroke-width="1.0"/>
<line x1="82.35" y1="234.6" x2="82.35" y2="236" stroke="#5a5a5a" stroke-width="1.0"/>
<line x1="127.85" y1="234.6" x2="127.85" y2="236" stroke="#5a5a5a" stroke-width="1.0"/>
<line x1="173.35" y1="234.6" x2="173.35" y2="236" stroke="#5a5a5a" stroke-width="1.0"/>
<line x1="36.9" y1="234.6" x2="34.9" y2="234.6" stroke="#5a5a5a" stroke-width="1.0"/>
<text x="33.7" y="237.34" font-size="8.3" text-anchor="end">0.0</text>
<line x1="36.9" y1="193.8" x2="34.9" y2="193.8" stroke="#5a5a5a" stroke-width="1.0"/>
<text x="33.7" y="196.54" font-size="8.3" text-anchor="end">0.6</text>
<line x1="36.9" y1="153" x2="34.9" y2="153" stroke="#5a5a5a" stroke-width="1.0"/>
<text x="33.7" y="155.74" font-size="8.3" text-anchor="end">1.2</text>
<line x1="36.9" y1="214.2" x2="35.5" y2="214.2" stroke="#5a5a5a" stroke-width="1.0"/>
<line x1="36.9" y1="173.4" x2="35.5" y2="173.4" stroke="#5a5a5a" stroke-width="1.0"/>
<text x="12.1" y="138.4" font-size="14">(e)</text>
<text x="12.9" y="191.2" font-size="11.4" text-anchor="middle" transform="rotate(-90 12.9 191.2)">Absorbance</text>
<text x="106.1" y="256" font-size="11.5" text-anchor="middle">Wavelength(nm)</text>
<line x1="156.5" y1="181" x2="156.5" y2="169.5" stroke="#222" stroke-width="0.9"/>
<path d="M154.8,170 L156.5,166.5 L158.2,170 Z" fill="#222"/>
<polyline points="218.1,225.8 220.1,225.7 222.2,225.5 224.2,225.4 226.2,225.3 228.2,225.1 230.3,224.9 232.3,224.8 234.3,224.6 236.4,224.4 238.4,224.2 240.4,223.9 242.4,223.7 244.5,223.4 246.5,223.2 248.5,222.9 250.6,222.6 252.6,222.2 254.6,221.9 256.6,221.5 258.7,221.1 260.7,220.6 262.7,220.2 264.8,219.7 266.8,219.2 268.8,218.6 270.8,218.0 272.9,217.4 274.9,216.7 276.9,216.0 279.0,215.2 281.0,214.4 283.0,213.5 285.1,212.6 287.1,211.6 289.1,210.5 291.1,209.4 293.2,208.2 295.2,206.9 297.2,205.5 299.3,204.0 301.3,202.5 303.3,200.8 305.3,199.0 307.4,197.2 309.4,195.1 311.4,193.0 313.5,190.7 315.5,188.2 317.5,185.6 319.5,182.8 321.6,179.9 323.6,176.7 325.6,173.3 327.7,169.7 329.7,165.9 331.7,161.8 333.7,157.5 335.8,152.8 337.8,147.8" stroke="#ff0000" stroke-width="1.0"/>
<rect x="216.15" y="225.05" width="3.9" height="3.9" class="m" stroke-width="1.0"/>
<rect x="246.08" y="219.65" width="3.9" height="3.9" class="m" stroke-width="1.0"/>
<rect x="276" y="213.05" width="3.9" height="3.9" class="m" stroke-width="1.0"/>
<rect x="305.93" y="195.65" width="3.9" height="3.9" class="m" stroke-width="1.0"/>
<rect x="335.85" y="144.65" width="3.9" height="3.9" class="m" stroke-width="1.0"/>
<line x1="211.6" y1="236.7" x2="349" y2="236.7" stroke="#5a5a5a" stroke-width="1.0"/>
<line x1="212.1" y1="236.7" x2="212.1" y2="135" stroke="#5a5a5a" stroke-width="1.0"/>
<line x1="218.1" y1="236.7" x2="218.1" y2="238.7" stroke="#5a5a5a" stroke-width="1.0"/>
<text x="218.1" y="246.6" font-size="8.3" text-anchor="middle">0.00</text>
<line x1="277.95" y1="236.7" x2="277.95" y2="238.7" stroke="#5a5a5a" stroke-width="1.0"/>
<text x="277.95" y="246.6" font-size="8.3" text-anchor="middle">0.05</text>
<line x1="337.8" y1="236.7" x2="337.8" y2="238.7" stroke="#5a5a5a" stroke-width="1.0"/>
<text x="337.8" y="246.6" font-size="8.3" text-anchor="middle">0.10</text>
<line x1="248.03" y1="236.7" x2="248.03" y2="238.1" stroke="#5a5a5a" stroke-width="1.0"/>
<line x1="307.88" y1="236.7" x2="307.88" y2="238.1" stroke="#5a5a5a" stroke-width="1.0"/>
<line x1="212.1" y1="236.6" x2="210.1" y2="236.6" stroke="#5a5a5a" stroke-width="1.0"/>
<text x="208.9" y="239.34" font-size="8.3" text-anchor="end">0</text>
<line x1="212.1" y1="206.6" x2="210.1" y2="206.6" stroke="#5a5a5a" stroke-width="1.0"/>
<text x="208.9" y="209.34" font-size="8.3" text-anchor="end">5</text>
<line x1="212.1" y1="176.6" x2="210.1" y2="176.6" stroke="#5a5a5a" stroke-width="1.0"/>
<text x="208.9" y="179.34" font-size="8.3" text-anchor="end">10</text>
<line x1="212.1" y1="146.6" x2="210.1" y2="146.6" stroke="#5a5a5a" stroke-width="1.0"/>
<text x="208.9" y="149.34" font-size="8.3" text-anchor="end">15</text>
<text x="180.4" y="132.5" font-size="14">(f)</text>
<text x="188.8" y="192.85" font-size="11.5" text-anchor="middle" transform="rotate(-90 188.8 192.85)">A765/A850</text>
<text x="281.7" y="257.9" font-size="11.5" text-anchor="middle">EtOH Fraction(%)</text>
<polyline points="387.3,234.2 388.3,234.0 389.2,233.9 390.2,233.8 391.1,233.8 392.1,233.9 393.0,234.0 394.0,234.0 395.0,234.0 395.9,233.7 396.9,233.3 397.8,232.8 398.8,232.3 399.7,231.5 400.7,230.7 401.7,229.6 402.6,228.5 403.6,227.3 404.5,226.1 405.5,224.9 406.4,223.7 407.4,222.4 408.3,221.0 409.3,219.5 410.3,218.0 411.2,216.5 412.2,215.1 413.1,213.8 414.1,212.5 415.0,211.4 416.0,210.3 416.9,209.3 417.9,208.6 418.9,207.9 419.8,207.4 420.8,207.0 421.7,206.8 422.7,206.9 423.6,207.1 424.6,207.4 425.6,207.8 426.5,208.2 427.5,208.8 428.4,209.3 429.4,210.0 430.3,210.6 431.3,211.3 432.2,212.0 433.2,212.8 434.2,213.5 435.1,214.3 436.1,215.0 437.0,215.8 438.0,216.5 438.9,217.3 439.9,218.1 440.8,218.8 441.8,219.6 442.8,220.4 443.7,221.2 444.7,222.0 445.6,222.7 446.6,223.4 447.5,224.2 448.5,224.9 449.5,225.7 450.4,226.4 451.4,227.2 452.3,227.9 453.3,228.5 454.2,229.2 455.2,229.8 456.1,230.3 457.1,230.7 458.1,231.1 459.0,231.5 460.0,231.8 460.9,232.1 461.9,232.4 462.8,232.7 463.8,233.0 464.7,233.2 465.7,233.4 466.7,233.7 467.6,233.8 468.6,234.0 469.5,234.2 470.5,234.4 471.4,234.6 472.4,234.7 473.4,234.9 474.3,235.1 475.3,235.2 476.2,235.3 477.2,235.4 478.1,235.5 479.1,235.5 480.0,235.6 481.0,235.7 482.0,235.7 482.9,235.7 483.9,235.8 484.8,235.8 485.8,235.9 486.7,235.9 487.7,235.9 488.7,236.0 489.6,236.0 490.6,236.0 491.5,236.0 492.5,236.0 493.4,236.0 494.4,236.0 495.3,236.1 496.3,236.1 497.3,236.1 498.2,236.1 499.2,236.1 500.1,236.1 501.1,236.1 502.0,236.1 503.0,236.1 503.9,236.1 504.9,236.1 505.9,236.1 506.8,236.1 507.8,236.1 508.7,236.1 509.7,236.1 510.6,236.1 511.6,236.1 512.6,236.1 513.5,236.1 514.5,236.1 515.4,236.1 516.4,236.1 517.3,236.1 518.3,236.1 519.2,236.1 520.2,236.1" stroke="#111111" stroke-width="1.3"/>
<polyline points="387.3,234.8 388.3,234.6 389.2,234.2 390.2,233.6 391.1,232.9 392.1,232.1 393.0,231.0 394.0,229.6 395.0,227.9 395.9,226.2 396.9,224.3 397.8,222.5 398.8,220.6 399.7,218.6 400.7,216.4 401.7,214.3 402.6,212.1 403.6,209.9 404.5,207.7 405.5,205.7 406.4,203.7 407.4,201.8 408.3,199.9 409.3,198.1 410.3,196.3 411.2,194.6 412.2,193.1 413.1,191.7 414.1,190.5 415.0,189.4 416.0,188.4 416.9,187.5 417.9,186.8 418.9,186.1 419.8,185.5 420.8,185.1 421.7,185.1 422.7,185.4 423.6,186.0 424.6,186.8 425.6,187.6 426.5,188.5 427.5,189.4 428.4,190.4 429.4,191.5 430.3,192.6 431.3,193.8 432.2,195.0 433.2,196.2 434.2,197.4 435.1,198.7 436.1,199.9 437.0,201.2 438.0,202.5 438.9,203.8 439.9,205.2 440.8,206.6 441.8,208.0 442.8,209.4 443.7,210.8 444.7,212.1 445.6,213.4 446.6,214.6 447.5,215.7 448.5,216.8 449.5,217.9 450.4,219.0 451.4,220.0 452.3,221.0 453.3,222.0 454.2,222.9 455.2,223.7 456.1,224.5 457.1,225.3 458.1,226.0 459.0,226.7 460.0,227.4 460.9,228.1 461.9,228.7 462.8,229.3 463.8,229.9 464.7,230.5 465.7,231.0 466.7,231.4 467.6,231.8 468.6,232.1 469.5,232.5 470.5,232.8 471.4,233.1 472.4,233.4 473.4,233.7 474.3,234.0 475.3,234.3 476.2,234.5 477.2,234.6 478.1,234.8 479.1,234.9 480.0,235.0 481.0,235.1 482.0,235.2 482.9,235.3 483.9,235.4 484.8,235.5 485.8,235.5 486.7,235.6 487.7,235.7 488.7,235.7 489.6,235.8 490.6,235.8 491.5,235.9 492.5,235.9 493.4,235.9 494.4,235.9 495.3,235.9 496.3,236.0 497.3,236.0 498.2,236.0 499.2,236.0 500.1,236.0 501.1,236.1 502.0,236.1 503.0,236.1 503.9,236.1 504.9,236.1 505.9,236.1 506.8,236.1 507.8,236.1 508.7,236.1 509.7,236.1 510.6,236.1 511.6,236.1 512.6,236.1 513.5,236.1 514.5,236.1 515.4,236.1 516.4,236.1 517.3,236.1 518.3,236.1 519.2,236.1 520.2,236.1" stroke="#ffb0b0" stroke-width="1.0"/>
<polyline points="387.3,234.4 388.3,234.1 389.2,233.6 390.2,232.8 391.1,231.9 392.1,230.8 393.0,229.3 394.0,227.4 395.0,225.3 395.9,222.9 396.9,220.5 397.8,218.0 398.8,215.5 399.7,212.9 400.7,210.1 401.7,207.2 402.6,204.2 403.6,201.3 404.5,198.5 405.5,195.8 406.4,193.2 407.4,190.7 408.3,188.2 409.3,185.7 410.3,183.3 411.2,181.1 412.2,179.1 413.1,177.2 414.1,175.6 415.0,174.2 416.0,172.9 416.9,171.7 417.9,170.8 418.9,169.9 419.8,169.0 420.8,168.5 421.7,168.5 422.7,169.0 423.6,169.7 424.6,170.7 425.6,171.9 426.5,173.0 427.5,174.2 428.4,175.5 429.4,176.9 430.3,178.4 431.3,180.0 432.2,181.6 433.2,183.2 434.2,184.9 435.1,186.5 436.1,188.2 437.0,189.8 438.0,191.5 438.9,193.3 439.9,195.2 440.8,197.0 441.8,198.9 442.8,200.8 443.7,202.6 444.7,204.3 445.6,206.0 446.6,207.5 447.5,209.0 448.5,210.5 449.5,212.0 450.4,213.4 451.4,214.8 452.3,216.1 453.3,217.4 454.2,218.6 455.2,219.7 456.1,220.8 457.1,221.8 458.1,222.7 459.0,223.7 460.0,224.6 460.9,225.5 461.9,226.3 462.8,227.1 463.8,227.9 464.7,228.6 465.7,229.3 466.7,229.9 467.6,230.4 468.6,230.8 469.5,231.3 470.5,231.7 471.4,232.2 472.4,232.6 473.4,233.0 474.3,233.3 475.3,233.6 476.2,233.9 477.2,234.2 478.1,234.4 479.1,234.5 480.0,234.6 481.0,234.8 482.0,234.9 482.9,235.0 483.9,235.1 484.8,235.3 485.8,235.4 486.7,235.5 487.7,235.6 488.7,235.6 489.6,235.7 490.6,235.7 491.5,235.8 492.5,235.8 493.4,235.8 494.4,235.9 495.3,235.9 496.3,235.9 497.3,235.9 498.2,236.0 499.2,236.0 500.1,236.0 501.1,236.1 502.0,236.1 503.0,236.1 503.9,236.1 504.9,236.1 505.9,236.1 506.8,236.1 507.8,236.1 508.7,236.1 509.7,236.1 510.6,236.1 511.6,236.1 512.6,236.1 513.5,236.1 514.5,236.1 515.4,236.1 516.4,236.1 517.3,236.1 518.3,236.1 519.2,236.1 520.2,236.1" stroke="#ff7070" stroke-width="1.1"/>
<polyline points="387.3,234.1 388.3,233.8 389.2,233.1 390.2,232.2 391.1,231.1 392.1,229.8 393.0,228.0 394.0,225.9 395.0,223.3 395.9,220.5 396.9,217.6 397.8,214.7 398.8,211.8 399.7,208.6 400.7,205.3 401.7,201.9 402.6,198.5 403.6,195.0 404.5,191.7 405.5,188.4 406.4,185.4 407.4,182.4 408.3,179.5 409.3,176.6 410.3,173.7 411.2,171.1 412.2,168.7 413.1,166.5 414.1,164.6 415.0,162.9 416.0,161.4 416.9,160.0 417.9,158.9 418.9,157.8 419.8,156.9 420.8,156.2 421.7,156.2 422.7,156.7 423.6,157.7 424.6,158.8 425.6,160.2 426.5,161.5 427.5,163.0 428.4,164.5 429.4,166.2 430.3,167.9 431.3,169.8 432.2,171.7 433.2,173.6 434.2,175.5 435.1,177.5 436.1,179.4 437.0,181.4 438.0,183.4 438.9,185.6 439.9,187.7 440.8,189.9 441.8,192.1 442.8,194.3 443.7,196.5 444.7,198.5 445.6,200.5 446.6,202.4 447.5,204.1 448.5,205.9 449.5,207.6 450.4,209.2 451.4,210.9 452.3,212.4 453.3,213.9 454.2,215.4 455.2,216.7 456.1,218.0 457.1,219.2 458.1,220.3 459.0,221.4 460.0,222.5 460.9,223.5 461.9,224.5 462.8,225.5 463.8,226.4 464.7,227.3 465.7,228.1 466.7,228.7 467.6,229.3 468.6,229.9 469.5,230.4 470.5,230.9 471.4,231.5 472.4,231.9 473.4,232.4 474.3,232.8 475.3,233.2 476.2,233.5 477.2,233.8 478.1,234.0 479.1,234.2 480.0,234.4 481.0,234.5 482.0,234.7 482.9,234.8 483.9,235.0 484.8,235.1 485.8,235.2 486.7,235.4 487.7,235.5 488.7,235.5 489.6,235.6 490.6,235.7 491.5,235.7 492.5,235.8 493.4,235.8 494.4,235.8 495.3,235.9 496.3,235.9 497.3,235.9 498.2,236.0 499.2,236.0 500.1,236.0 501.1,236.0 502.0,236.1 503.0,236.1 503.9,236.1 504.9,236.1 505.9,236.1 506.8,236.1 507.8,236.1 508.7,236.1 509.7,236.1 510.6,236.1 511.6,236.1 512.6,236.1 513.5,236.1 514.5,236.1 515.4,236.1 516.4,236.1 517.3,236.1 518.3,236.1 519.2,236.1 520.2,236.1" stroke="#e02020" stroke-width="1.4"/>
<polyline points="387.3,233.9 388.3,233.5 389.2,232.8 390.2,231.8 391.1,230.5 392.1,229.1 393.0,227.1 394.0,224.7 395.0,221.8 395.9,218.7 396.9,215.5 397.8,212.3 398.8,209.0 399.7,205.5 400.7,201.8 401.7,198.0 402.6,194.1 403.6,190.3 404.5,186.5 405.5,182.9 406.4,179.5 407.4,176.2 408.3,172.9 409.3,169.7 410.3,166.6 411.2,163.6 412.2,160.9 413.1,158.5 414.1,156.4 415.0,154.5 416.0,152.8 416.9,151.3 417.9,150.0 418.9,148.8 419.8,147.7 420.8,147.0 421.7,147.0 422.7,147.6 423.6,148.6 424.6,149.9 425.6,151.4 426.5,152.9 427.5,154.5 428.4,156.3 429.4,158.1 430.3,160.1 431.3,162.1 432.2,164.2 433.2,166.4 434.2,168.6 435.1,170.7 436.1,172.9 437.0,175.1 438.0,177.4 438.9,179.7 439.9,182.2 440.8,184.6 441.8,187.1 442.8,189.5 443.7,191.9 444.7,194.2 445.6,196.4 446.6,198.5 447.5,200.4 448.5,202.4 449.5,204.3 450.4,206.2 451.4,208.0 452.3,209.7 453.3,211.4 454.2,213.0 455.2,214.5 456.1,215.9 457.1,217.2 458.1,218.5 459.0,219.7 460.0,220.9 460.9,222.1 461.9,223.2 462.8,224.3 463.8,225.3 464.7,226.3 465.7,227.1 466.7,227.9 467.6,228.6 468.6,229.2 469.5,229.8 470.5,230.3 471.4,230.9 472.4,231.5 473.4,232.0 474.3,232.4 475.3,232.9 476.2,233.2 477.2,233.6 478.1,233.8 479.1,234.0 480.0,234.2 481.0,234.3 482.0,234.5 482.9,234.7 483.9,234.8 484.8,235.0 485.8,235.1 486.7,235.3 487.7,235.4 488.7,235.5 489.6,235.6 490.6,235.6 491.5,235.7 492.5,235.7 493.4,235.8 494.4,235.8 495.3,235.8 496.3,235.9 497.3,235.9 498.2,235.9 499.2,236.0 500.1,236.0 501.1,236.0 502.0,236.1 503.0,236.1 503.9,236.1 504.9,236.1 505.9,236.1 506.8,236.1 507.8,236.1 508.7,236.1 509.7,236.1 510.6,236.1 511.6,236.1 512.6,236.1 513.5,236.1 514.5,236.1 515.4,236.1 516.4,236.1 517.3,236.1 518.3,236.1 519.2,236.1 520.2,236.1" stroke="#ee1010" stroke-width="1.5"/>
<line x1="386.4" y1="236.3" x2="519.5" y2="236.3" stroke="#5a5a5a" stroke-width="1.0"/>
<line x1="386.9" y1="236.3" x2="386.9" y2="136.4" stroke="#5a5a5a" stroke-width="1.0"/>
<line x1="423.2" y1="236.3" x2="423.2" y2="238.3" stroke="#5a5a5a" stroke-width="1.0"/>
<text x="423.2" y="246.7" font-size="8.3" text-anchor="middle">500</text>
<line x1="471.7" y1="236.3" x2="471.7" y2="238.3" stroke="#5a5a5a" stroke-width="1.0"/>
<text x="471.7" y="246.7" font-size="8.3" text-anchor="middle">600</text>
<line x1="520.2" y1="236.3" x2="520.2" y2="238.3" stroke="#5a5a5a" stroke-width="1.0"/>
<text x="520.2" y="246.7" font-size="8.3" text-anchor="middle">700</text>
<line x1="398.95" y1="236.3" x2="398.95" y2="237.7" stroke="#5a5a5a" stroke-width="1.0"/>
<line x1="447.45" y1="236.3" x2="447.45" y2="237.7" stroke="#5a5a5a" stroke-width="1.0"/>
<line x1="495.95" y1="236.3" x2="495.95" y2="237.7" stroke="#5a5a5a" stroke-width="1.0"/>
<line x1="386.9" y1="236.1" x2="384.9" y2="236.1" stroke="#5a5a5a" stroke-width="1.0"/>
<text x="383.7" y="238.84" font-size="8.3" text-anchor="end">0</text>
<line x1="386.9" y1="186.9" x2="384.9" y2="186.9" stroke="#5a5a5a" stroke-width="1.0"/>
<text x="383.7" y="189.64" font-size="8.3" text-anchor="end">8</text>
<line x1="386.9" y1="137.7" x2="384.9" y2="137.7" stroke="#5a5a5a" stroke-width="1.0"/>
<text x="383.7" y="140.44" font-size="8.3" text-anchor="end">16</text>
<line x1="386.9" y1="211.5" x2="385.5" y2="211.5" stroke="#5a5a5a" stroke-width="1.0"/>
<line x1="386.9" y1="162.3" x2="385.5" y2="162.3" stroke="#5a5a5a" stroke-width="1.0"/>
<text x="348.1" y="138" font-size="14">(g)</text>
<text x="367.9" y="182.8" font-size="11.3" text-anchor="middle" transform="rotate(-90 367.9 182.8)">Fl.Intensity<tspan dx="3">(</tspan>10<tspan dy="-4.5">4</tspan><tspan dy="4.5">)</tspan></text>
<text x="453.8" y="256.3" font-size="11.1" text-anchor="middle">Wavelength(nm)</text>
<text x="462.9" y="159" font-size="8.4" text-anchor="middle">50 μmol/L</text>
<text x="467" y="173.5" font-size="8.2" text-anchor="middle" font-weight="bold">NPCS</text>
<text x="463.9" y="184.9" font-size="8.4" text-anchor="middle">10 μmol/L</text>
<line x1="452.5" y1="176.6" x2="452.5" y2="162" stroke="#222" stroke-width="0.9"/>
<path d="M450.8,162.5 L452.5,159 L454.2,162.5 Z" fill="#222"/>
<polyline points="562.3,164.4 563.6,161.3 565.0,158.3 566.4,155.6 567.8,152.9 569.2,150.4 570.6,148.3 572.0,146.6 573.4,145.3 574.8,144.5 576.2,144.4 577.6,144.6 579.0,145.1 580.4,145.9 581.8,146.8 583.2,148.0 584.6,149.3 586.0,150.8 587.4,152.3 588.8,154.0 590.2,155.8 591.6,157.6 593.0,159.5 594.4,161.7 595.8,164.0 597.2,166.3 598.6,168.7 600.0,171.2 601.4,173.6 602.8,176.0 604.2,178.6 605.6,181.1 607.0,183.7 608.4,186.3 609.8,188.9 611.2,191.4 612.6,193.8 614.0,196.2 615.4,198.6 616.8,200.9 618.2,203.2 619.6,205.5 621.0,207.7 622.4,209.8 623.8,211.9 625.2,214.0 626.6,216.1 628.0,218.1 629.4,220.1 630.8,221.9 632.2,223.5 633.6,225.1 635.0,226.6 636.4,228.1 637.8,229.5 639.2,230.8 640.6,231.9 642.0,232.7 643.4,233.4 644.8,234.0 646.2,234.5 647.6,235.0 649.0,235.5 650.4,235.8 651.8,236.1 653.2,236.3 654.5,236.4 655.9,236.5 657.3,236.6 658.7,236.7 660.1,236.8 661.5,236.9 662.9,237.0 664.3,237.1 665.7,237.1 667.1,237.2 668.5,237.2 669.9,237.2 671.3,237.2 672.7,237.2 674.1,237.2 675.5,237.2 676.9,237.2 678.3,237.2 679.7,237.2 681.1,237.2 682.5,237.2 683.9,237.2 685.3,237.2 686.7,237.2 688.1,237.2 689.5,237.2 690.9,237.2 692.3,237.2 693.7,237.2 695.1,237.2 696.5,237.2 697.9,237.2 699.3,237.2 700.7,237.2" stroke="#111111" stroke-width="1.2"/>
<polyline points="562.3,187.0 563.6,184.8 565.0,182.8 566.4,180.9 567.8,179.1 569.2,177.3 570.6,175.9 572.0,174.7 573.4,173.8 574.8,173.3 576.2,173.2 577.6,173.3 579.0,173.7 580.4,174.2 581.8,174.9 583.2,175.7 584.6,176.6 586.0,177.6 587.4,178.7 588.8,179.8 590.2,181.0 591.6,182.3 593.0,183.6 594.4,185.1 595.8,186.7 597.2,188.3 598.6,190.0 600.0,191.7 601.4,193.3 602.8,195.0 604.2,196.8 605.6,198.5 607.0,200.3 608.4,202.1 609.8,203.9 611.2,205.6 612.6,207.3 614.0,208.9 615.4,210.6 616.8,212.2 618.2,213.8 619.6,215.3 621.0,216.8 622.4,218.3 623.8,219.8 625.2,221.2 626.6,222.7 628.0,224.0 629.4,225.4 630.8,226.6 632.2,227.8 633.6,228.8 635.0,229.9 636.4,230.9 637.8,231.9 639.2,232.8 640.6,233.5 642.0,234.1 643.4,234.6 644.8,235.0 646.2,235.3 647.6,235.7 649.0,236.0 650.4,236.2 651.8,236.4 653.2,236.6 654.5,236.6 655.9,236.7 657.3,236.8 658.7,236.9 660.1,236.9 661.5,237.0 662.9,237.1 664.3,237.1 665.7,237.1 667.1,237.2 668.5,237.2 669.9,237.2 671.3,237.2 672.7,237.2 674.1,237.2 675.5,237.2 676.9,237.2 678.3,237.2 679.7,237.2 681.1,237.2 682.5,237.2 683.9,237.2 685.3,237.2 686.7,237.2 688.1,237.2 689.5,237.2 690.9,237.2 692.3,237.2 693.7,237.2 695.1,237.2 696.5,237.2 697.9,237.2 699.3,237.2 700.7,237.2" stroke="#2020e0" stroke-width="1.3"/>
<polyline points="562.3,197.7 563.6,196.1 565.0,194.5 566.4,193.0 567.8,191.5 569.2,190.1 570.6,189.0 572.0,188.1 573.4,187.4 574.8,187.0 576.2,186.9 577.6,187.0 579.0,187.3 580.4,187.7 581.8,188.2 583.2,188.8 584.6,189.6 586.0,190.4 587.4,191.2 588.8,192.1 590.2,193.1 591.6,194.1 593.0,195.1 594.4,196.3 595.8,197.5 597.2,198.8 598.6,200.1 600.0,201.4 601.4,202.7 602.8,204.1 604.2,205.4 605.6,206.8 607.0,208.2 608.4,209.6 609.8,211.0 611.2,212.4 612.6,213.7 614.0,215.0 615.4,216.3 616.8,217.5 618.2,218.8 619.6,220.0 621.0,221.2 622.4,222.3 623.8,223.5 625.2,224.6 626.6,225.8 628.0,226.9 629.4,227.9 630.8,228.9 632.2,229.8 633.6,230.6 635.0,231.5 636.4,232.3 637.8,233.0 639.2,233.7 640.6,234.3 642.0,234.8 643.4,235.1 644.8,235.4 646.2,235.7 647.6,236.0 649.0,236.3 650.4,236.5 651.8,236.6 653.2,236.7 654.5,236.8 655.9,236.8 657.3,236.9 658.7,236.9 660.1,237.0 661.5,237.0 662.9,237.1 664.3,237.1 665.7,237.2 667.1,237.2 668.5,237.2 669.9,237.2 671.3,237.2 672.7,237.2 674.1,237.2 675.5,237.2 676.9,237.2 678.3,237.2 679.7,237.2 681.1,237.2 682.5,237.2 683.9,237.2 685.3,237.2 686.7,237.2 688.1,237.2 689.5,237.2 690.9,237.2 692.3,237.2 693.7,237.2 695.1,237.2 696.5,237.2 697.9,237.2 699.3,237.2 700.7,237.2" stroke="#3030d0" stroke-width="1.3"/>
<polyline points="562.3,207.4 563.6,206.2 565.0,204.9 566.4,203.8 567.8,202.7 569.2,201.7 570.6,200.9 572.0,200.2 573.4,199.6 574.8,199.3 576.2,199.2 577.6,199.3 579.0,199.6 580.4,199.9 581.8,200.2 583.2,200.7 584.6,201.3 586.0,201.9 587.4,202.5 588.8,203.2 590.2,203.9 591.6,204.6 593.0,205.4 594.4,206.3 595.8,207.3 597.2,208.2 598.6,209.2 600.0,210.2 601.4,211.2 602.8,212.2 604.2,213.2 605.6,214.3 607.0,215.3 608.4,216.4 609.8,217.4 611.2,218.5 612.6,219.5 614.0,220.4 615.4,221.4 616.8,222.4 618.2,223.3 619.6,224.2 621.0,225.1 622.4,226.0 623.8,226.9 625.2,227.7 626.6,228.6 628.0,229.4 629.4,230.2 630.8,230.9 632.2,231.6 633.6,232.2 635.0,232.9 636.4,233.5 637.8,234.1 639.2,234.6 640.6,235.0 642.0,235.4 643.4,235.6 644.8,235.9 646.2,236.1 647.6,236.3 649.0,236.5 650.4,236.6 651.8,236.7 653.2,236.8 654.5,236.9 655.9,236.9 657.3,237.0 658.7,237.0 660.1,237.0 661.5,237.1 662.9,237.1 664.3,237.1 665.7,237.2 667.1,237.2 668.5,237.2 669.9,237.2 671.3,237.2 672.7,237.2 674.1,237.2 675.5,237.2 676.9,237.2 678.3,237.2 679.7,237.2 681.1,237.2 682.5,237.2 683.9,237.2 685.3,237.2 686.7,237.2 688.1,237.2 689.5,237.2 690.9,237.2 692.3,237.2 693.7,237.2 695.1,237.2 696.5,237.2 697.9,237.2 699.3,237.2 700.7,237.2" stroke="#7070e8" stroke-width="1.1"/>
<polyline points="562.3,212.4 563.6,211.4 565.0,210.4 566.4,209.5 567.8,208.5 569.2,207.7 570.6,207.0 572.0,206.4 573.4,206.0 574.8,205.7 576.2,205.6 577.6,205.7 579.0,205.9 580.4,206.2 581.8,206.5 583.2,206.9 584.6,207.3 586.0,207.8 587.4,208.4 588.8,208.9 590.2,209.5 591.6,210.1 593.0,210.8 594.4,211.5 595.8,212.3 597.2,213.1 598.6,213.9 600.0,214.8 601.4,215.6 602.8,216.4 604.2,217.3 605.6,218.1 607.0,219.0 608.4,219.9 609.8,220.8 611.2,221.6 612.6,222.5 614.0,223.3 615.4,224.1 616.8,224.9 618.2,225.6 619.6,226.4 621.0,227.2 622.4,227.9 623.8,228.6 625.2,229.3 626.6,230.0 628.0,230.7 629.4,231.4 630.8,232.0 632.2,232.6 633.6,233.1 635.0,233.6 636.4,234.1 637.8,234.6 639.2,235.0 640.6,235.4 642.0,235.7 643.4,235.9 644.8,236.1 646.2,236.3 647.6,236.5 649.0,236.6 650.4,236.7 651.8,236.8 653.2,236.9 654.5,236.9 655.9,237.0 657.3,237.0 658.7,237.0 660.1,237.1 661.5,237.1 662.9,237.1 664.3,237.2 665.7,237.2 667.1,237.2 668.5,237.2 669.9,237.2 671.3,237.2 672.7,237.2 674.1,237.2 675.5,237.2 676.9,237.2 678.3,237.2 679.7,237.2 681.1,237.2 682.5,237.2 683.9,237.2 685.3,237.2 686.7,237.2 688.1,237.2 689.5,237.2 690.9,237.2 692.3,237.2 693.7,237.2 695.1,237.2 696.5,237.2 697.9,237.2 699.3,237.2 700.7,237.2" stroke="#a0a0f0" stroke-width="1.0"/>
<line x1="561.6" y1="237.4" x2="700" y2="237.4" stroke="#5a5a5a" stroke-width="1.0"/>
<line x1="562.1" y1="237.4" x2="562.1" y2="135" stroke="#5a5a5a" stroke-width="1.0"/>
<line x1="594.2" y1="237.4" x2="594.2" y2="239.4" stroke="#5a5a5a" stroke-width="1.0"/>
<text x="594.2" y="247.6" font-size="8.3" text-anchor="middle">800</text>
<line x1="636.8" y1="237.4" x2="636.8" y2="239.4" stroke="#5a5a5a" stroke-width="1.0"/>
<text x="636.8" y="247.6" font-size="8.3" text-anchor="middle">840</text>
<line x1="679.4" y1="237.4" x2="679.4" y2="239.4" stroke="#5a5a5a" stroke-width="1.0"/>
<text x="679.4" y="247.6" font-size="8.3" text-anchor="middle">880</text>
<line x1="572.9" y1="237.4" x2="572.9" y2="238.8" stroke="#5a5a5a" stroke-width="1.0"/>
<line x1="615.5" y1="237.4" x2="615.5" y2="238.8" stroke="#5a5a5a" stroke-width="1.0"/>
<line x1="658.1" y1="237.4" x2="658.1" y2="238.8" stroke="#5a5a5a" stroke-width="1.0"/>
<line x1="700.7" y1="237.4" x2="700.7" y2="238.8" stroke="#5a5a5a" stroke-width="1.0"/>
<line x1="562.1" y1="237.2" x2="560.1" y2="237.2" stroke="#5a5a5a" stroke-width="1.0"/>
<text x="558.9" y="239.94" font-size="8.3" text-anchor="end">0</text>
<line x1="562.1" y1="191.5" x2="560.1" y2="191.5" stroke="#5a5a5a" stroke-width="1.0"/>
<text x="558.9" y="194.24" font-size="8.3" text-anchor="end">1</text>
<line x1="562.1" y1="145.8" x2="560.1" y2="145.8" stroke="#5a5a5a" stroke-width="1.0"/>
<text x="558.9" y="148.54" font-size="8.3" text-anchor="end">2</text>
<line x1="562.1" y1="214.35" x2="560.7" y2="214.35" stroke="#5a5a5a" stroke-width="1.0"/>
<line x1="562.1" y1="168.65" x2="560.7" y2="168.65" stroke="#5a5a5a" stroke-width="1.0"/>
<text x="519.1" y="138" font-size="14">(h)</text>
<text x="546.4" y="187.1" font-size="11.3" text-anchor="middle" transform="rotate(-90 546.4 187.1)">Fl.Intensity<tspan dx="3">(</tspan>10<tspan dy="-4.5">4</tspan><tspan dy="4.5">)</tspan></text>
<text x="631.1" y="257.4" font-size="11.4" text-anchor="middle">Wavelength(nm)</text>
<text x="622" y="155.7" font-size="8.2" text-anchor="middle">10 μmol/L</text>
<text x="627" y="168.1" font-size="8.6" text-anchor="middle" font-weight="bold">NPCS</text>
<text x="622.3" y="183.7" font-size="8.2" text-anchor="middle">50 μmol/L</text>
<line x1="613" y1="159.9" x2="613" y2="172.4" stroke="#222" stroke-width="0.9"/>
<path d="M611.3,171.9 L613,175.4 L614.7,171.9 Z" fill="#222"/>
<polyline points="42.1,337.3 55.8,325.6 69.5,315.1 83.2,300.6 96.9,286.4 110.7,276.2 124.4,288.7 138.1,309.8 151.8,358.7 165.5,361.5" stroke="#222" stroke-width="1.1"/>
<rect x="40.15" y="335.33" width="3.9" height="3.9" class="m" stroke-width="1.0"/>
<rect x="53.86" y="323.62" width="3.9" height="3.9" class="m" stroke-width="1.0"/>
<rect x="67.57" y="313.19" width="3.9" height="3.9" class="m" stroke-width="1.0"/>
<rect x="81.28" y="298.69" width="3.9" height="3.9" class="m" stroke-width="1.0"/>
<rect x="94.99" y="284.44" width="3.9" height="3.9" class="m" stroke-width="1.0"/>
<rect x="108.71" y="274.26" width="3.9" height="3.9" class="m" stroke-width="1.0"/>
<rect x="122.42" y="286.73" width="3.9" height="3.9" class="m" stroke-width="1.0"/>
<rect x="136.13" y="307.85" width="3.9" height="3.9" class="m" stroke-width="1.0"/>
<rect x="149.84" y="356.7" width="3.9" height="3.9" class="m" stroke-width="1.0"/>
<rect x="163.55" y="359.5" width="3.9" height="3.9" class="m" stroke-width="1.0"/>
<line x1="34.9" y1="365.9" x2="170" y2="365.9" stroke="#5a5a5a" stroke-width="1.0"/>
<line x1="35.4" y1="365.9" x2="35.4" y2="265" stroke="#5a5a5a" stroke-width="1.0"/>
<line x1="42.1" y1="365.9" x2="42.1" y2="367.9" stroke="#5a5a5a" stroke-width="1.0"/>
<text x="42.1" y="375.3" font-size="8.3" text-anchor="middle">0</text>
<line x1="55.81" y1="365.9" x2="55.81" y2="367.9" stroke="#5a5a5a" stroke-width="1.0"/>
<text x="55.81" y="375.3" font-size="8.3" text-anchor="middle">10</text>
<line x1="69.52" y1="365.9" x2="69.52" y2="367.9" stroke="#5a5a5a" stroke-width="1.0"/>
<text x="69.52" y="375.3" font-size="8.3" text-anchor="middle">20</text>
<line x1="83.23" y1="365.9" x2="83.23" y2="367.9" stroke="#5a5a5a" stroke-width="1.0"/>
<text x="83.23" y="375.3" font-size="8.3" text-anchor="middle">30</text>
<line x1="96.94" y1="365.9" x2="96.94" y2="367.9" stroke="#5a5a5a" stroke-width="1.0"/>
<text x="96.94" y="375.3" font-size="8.3" text-anchor="middle">40</text>
<line x1="110.66" y1="365.9" x2="110.66" y2="367.9" stroke="#5a5a5a" stroke-width="1.0"/>
<text x="110.66" y="375.3" font-size="8.3" text-anchor="middle">50</text>
<line x1="124.37" y1="365.9" x2="124.37" y2="367.9" stroke="#5a5a5a" stroke-width="1.0"/>
<text x="124.37" y="375.3" font-size="8.3" text-anchor="middle">60</text>
<line x1="138.08" y1="365.9" x2="138.08" y2="367.9" stroke="#5a5a5a" stroke-width="1.0"/>
<text x="138.08" y="375.3" font-size="8.3" text-anchor="middle">70</text>
<line x1="151.79" y1="365.9" x2="151.79" y2="367.9" stroke="#5a5a5a" stroke-width="1.0"/>
<text x="151.79" y="375.3" font-size="8.3" text-anchor="middle">80</text>
<line x1="165.5" y1="365.9" x2="165.5" y2="367.9" stroke="#5a5a5a" stroke-width="1.0"/>
<text x="165.5" y="375.3" font-size="8.3" text-anchor="middle">90</text>
<line x1="48.96" y1="365.9" x2="48.96" y2="367.3" stroke="#5a5a5a" stroke-width="1.0"/>
<line x1="62.67" y1="365.9" x2="62.67" y2="367.3" stroke="#5a5a5a" stroke-width="1.0"/>
<line x1="76.38" y1="365.9" x2="76.38" y2="367.3" stroke="#5a5a5a" stroke-width="1.0"/>
<line x1="90.09" y1="365.9" x2="90.09" y2="367.3" stroke="#5a5a5a" stroke-width="1.0"/>
<line x1="103.8" y1="365.9" x2="103.8" y2="367.3" stroke="#5a5a5a" stroke-width="1.0"/>
<line x1="117.51" y1="365.9" x2="117.51" y2="367.3" stroke="#5a5a5a" stroke-width="1.0"/>
<line x1="131.22" y1="365.9" x2="131.22" y2="367.3" stroke="#5a5a5a" stroke-width="1.0"/>
<line x1="144.93" y1="365.9" x2="144.93" y2="367.3" stroke="#5a5a5a" stroke-width="1.0"/>
<line x1="158.64" y1="365.9" x2="158.64" y2="367.3" stroke="#5a5a5a" stroke-width="1.0"/>
<line x1="172.36" y1="365.9" x2="172.36" y2="367.3" stroke="#5a5a5a" stroke-width="1.0"/>
<line x1="35.4" y1="365.9" x2="33.4" y2="365.9" stroke="#5a5a5a" stroke-width="1.0"/>
<text x="32.2" y="368.64" font-size="8.3" text-anchor="end">0</text>
<line x1="35.4" y1="329.85" x2="33.4" y2="329.85" stroke="#5a5a5a" stroke-width="1.0"/>
<text x="32.2" y="332.59" font-size="8.3" text-anchor="end">6</text>
<line x1="35.4" y1="293.8" x2="33.4" y2="293.8" stroke="#5a5a5a" stroke-width="1.0"/>
<text x="32.2" y="296.54" font-size="8.3" text-anchor="end">12</text>
<line x1="35.4" y1="347.88" x2="34" y2="347.88" stroke="#5a5a5a" stroke-width="1.0"/>
<line x1="35.4" y1="311.82" x2="34" y2="311.82" stroke="#5a5a5a" stroke-width="1.0"/>
<text x="13.5" y="264" font-size="14">(i)</text>
<text x="15.8" y="322.3" font-size="11.3" text-anchor="middle" transform="rotate(-90 15.8 322.3)">Fl.Intensity<tspan>(</tspan>10<tspan dy="-4.5">4</tspan><tspan dy="4.5">)</tspan></text>
<text x="104.3" y="386.9" font-size="11.5" text-anchor="middle">DMSO Fraction(%)</text>
<polyline points="218.0,359.4 231.7,346.2 245.5,338.0 259.2,335.2 272.9,325.1 286.7,321.2 300.4,311.1 314.1,298.3 327.9,285.1 341.6,272.4" stroke="#222" stroke-width="1.1"/>
<rect x="216.05" y="357.46" width="3.9" height="3.9" class="m" stroke-width="1.0"/>
<rect x="229.78" y="344.23" width="3.9" height="3.9" class="m" stroke-width="1.0"/>
<rect x="243.52" y="336.09" width="3.9" height="3.9" class="m" stroke-width="1.0"/>
<rect x="257.25" y="333.29" width="3.9" height="3.9" class="m" stroke-width="1.0"/>
<rect x="270.98" y="323.11" width="3.9" height="3.9" class="m" stroke-width="1.0"/>
<rect x="284.72" y="319.3" width="3.9" height="3.9" class="m" stroke-width="1.0"/>
<rect x="298.45" y="309.12" width="3.9" height="3.9" class="m" stroke-width="1.0"/>
<rect x="312.18" y="296.4" width="3.9" height="3.9" class="m" stroke-width="1.0"/>
<rect x="325.92" y="283.16" width="3.9" height="3.9" class="m" stroke-width="1.0"/>
<rect x="339.65" y="270.44" width="3.9" height="3.9" class="m" stroke-width="1.0"/>
<line x1="210.9" y1="364.8" x2="346" y2="364.8" stroke="#5a5a5a" stroke-width="1.0"/>
<line x1="211.4" y1="364.8" x2="211.4" y2="264" stroke="#5a5a5a" stroke-width="1.0"/>
<line x1="218" y1="364.8" x2="218" y2="366.8" stroke="#5a5a5a" stroke-width="1.0"/>
<text x="218" y="375" font-size="8.3" text-anchor="middle">0</text>
<line x1="231.73" y1="364.8" x2="231.73" y2="366.8" stroke="#5a5a5a" stroke-width="1.0"/>
<text x="231.73" y="375" font-size="8.3" text-anchor="middle">10</text>
<line x1="245.47" y1="364.8" x2="245.47" y2="366.8" stroke="#5a5a5a" stroke-width="1.0"/>
<text x="245.47" y="375" font-size="8.3" text-anchor="middle">20</text>
<line x1="259.2" y1="364.8" x2="259.2" y2="366.8" stroke="#5a5a5a" stroke-width="1.0"/>
<text x="259.2" y="375" font-size="8.3" text-anchor="middle">30</text>
<line x1="272.93" y1="364.8" x2="272.93" y2="366.8" stroke="#5a5a5a" stroke-width="1.0"/>
<text x="272.93" y="375" font-size="8.3" text-anchor="middle">40</text>
<line x1="286.67" y1="364.8" x2="286.67" y2="366.8" stroke="#5a5a5a" stroke-width="1.0"/>
<text x="286.67" y="375" font-size="8.3" text-anchor="middle">50</text>
<line x1="300.4" y1="364.8" x2="300.4" y2="366.8" stroke="#5a5a5a" stroke-width="1.0"/>
<text x="300.4" y="375" font-size="8.3" text-anchor="middle">60</text>
<line x1="314.13" y1="364.8" x2="314.13" y2="366.8" stroke="#5a5a5a" stroke-width="1.0"/>
<text x="314.13" y="375" font-size="8.3" text-anchor="middle">70</text>
<line x1="327.87" y1="364.8" x2="327.87" y2="366.8" stroke="#5a5a5a" stroke-width="1.0"/>
<text x="327.87" y="375" font-size="8.3" text-anchor="middle">80</text>
<line x1="341.6" y1="364.8" x2="341.6" y2="366.8" stroke="#5a5a5a" stroke-width="1.0"/>
<text x="341.6" y="375" font-size="8.3" text-anchor="middle">90</text>
<line x1="224.87" y1="364.8" x2="224.87" y2="366.2" stroke="#5a5a5a" stroke-width="1.0"/>
<line x1="238.6" y1="364.8" x2="238.6" y2="366.2" stroke="#5a5a5a" stroke-width="1.0"/>
<line x1="252.33" y1="364.8" x2="252.33" y2="366.2" stroke="#5a5a5a" stroke-width="1.0"/>
<line x1="266.07" y1="364.8" x2="266.07" y2="366.2" stroke="#5a5a5a" stroke-width="1.0"/>
<line x1="279.8" y1="364.8" x2="279.8" y2="366.2" stroke="#5a5a5a" stroke-width="1.0"/>
<line x1="293.53" y1="364.8" x2="293.53" y2="366.2" stroke="#5a5a5a" stroke-width="1.0"/>
<line x1="307.27" y1="364.8" x2="307.27" y2="366.2" stroke="#5a5a5a" stroke-width="1.0"/>
<line x1="321" y1="364.8" x2="321" y2="366.2" stroke="#5a5a5a" stroke-width="1.0"/>
<line x1="334.73" y1="364.8" x2="334.73" y2="366.2" stroke="#5a5a5a" stroke-width="1.0"/>
<line x1="348.47" y1="364.8" x2="348.47" y2="366.2" stroke="#5a5a5a" stroke-width="1.0"/>
<line x1="211.4" y1="364.8" x2="209.4" y2="364.8" stroke="#5a5a5a" stroke-width="1.0"/>
<text x="208.2" y="367.54" font-size="8.3" text-anchor="end">0</text>
<line x1="211.4" y1="328.4" x2="209.4" y2="328.4" stroke="#5a5a5a" stroke-width="1.0"/>
<text x="208.2" y="331.14" font-size="8.3" text-anchor="end">5</text>
<line x1="211.4" y1="292" x2="209.4" y2="292" stroke="#5a5a5a" stroke-width="1.0"/>
<text x="208.2" y="294.74" font-size="8.3" text-anchor="end">10</text>
<line x1="211.4" y1="346.6" x2="210" y2="346.6" stroke="#5a5a5a" stroke-width="1.0"/>
<line x1="211.4" y1="310.2" x2="210" y2="310.2" stroke="#5a5a5a" stroke-width="1.0"/>
<text x="182.4" y="264" font-size="14">(j)</text>
<text x="191.2" y="321.6" font-size="11.3" text-anchor="middle" transform="rotate(-90 191.2 321.6)">Fl.Intensity<tspan>(</tspan>10<tspan dy="-4.5">4</tspan><tspan dy="4.5">)</tspan></text>
<text x="280" y="386.9" font-size="11.5" text-anchor="middle">DMSO Fraction(%)</text>
<polyline points="393.5,307.8 407.2,300.9 420.9,289.9 434.6,281.8 448.3,279.3 462.0,272.1 475.7,275.2 489.4,284.9 503.1,333.2 516.8,345.7" stroke="#222" stroke-width="1.1"/>
<rect x="391.55" y="305.81" width="3.9" height="3.9" class="m" stroke-width="1.0"/>
<rect x="405.25" y="298.94" width="3.9" height="3.9" class="m" stroke-width="1.0"/>
<rect x="418.95" y="288" width="3.9" height="3.9" class="m" stroke-width="1.0"/>
<rect x="432.65" y="279.86" width="3.9" height="3.9" class="m" stroke-width="1.0"/>
<rect x="446.35" y="277.31" width="3.9" height="3.9" class="m" stroke-width="1.0"/>
<rect x="460.05" y="270.19" width="3.9" height="3.9" class="m" stroke-width="1.0"/>
<rect x="473.75" y="273.24" width="3.9" height="3.9" class="m" stroke-width="1.0"/>
<rect x="487.45" y="282.91" width="3.9" height="3.9" class="m" stroke-width="1.0"/>
<rect x="501.15" y="331.26" width="3.9" height="3.9" class="m" stroke-width="1.0"/>
<rect x="514.85" y="343.72" width="3.9" height="3.9" class="m" stroke-width="1.0"/>
<line x1="386.4" y1="365.3" x2="522" y2="365.3" stroke="#5a5a5a" stroke-width="1.0"/>
<line x1="386.9" y1="365.3" x2="386.9" y2="264" stroke="#5a5a5a" stroke-width="1.0"/>
<line x1="393.5" y1="365.3" x2="393.5" y2="367.3" stroke="#5a5a5a" stroke-width="1.0"/>
<text x="393.5" y="375" font-size="8.3" text-anchor="middle">0</text>
<line x1="407.2" y1="365.3" x2="407.2" y2="367.3" stroke="#5a5a5a" stroke-width="1.0"/>
<text x="407.2" y="375" font-size="8.3" text-anchor="middle">10</text>
<line x1="420.9" y1="365.3" x2="420.9" y2="367.3" stroke="#5a5a5a" stroke-width="1.0"/>
<text x="420.9" y="375" font-size="8.3" text-anchor="middle">20</text>
<line x1="434.6" y1="365.3" x2="434.6" y2="367.3" stroke="#5a5a5a" stroke-width="1.0"/>
<text x="434.6" y="375" font-size="8.3" text-anchor="middle">30</text>
<line x1="448.3" y1="365.3" x2="448.3" y2="367.3" stroke="#5a5a5a" stroke-width="1.0"/>
<text x="448.3" y="375" font-size="8.3" text-anchor="middle">40</text>
<line x1="462" y1="365.3" x2="462" y2="367.3" stroke="#5a5a5a" stroke-width="1.0"/>
<text x="462" y="375" font-size="8.3" text-anchor="middle">50</text>
<line x1="475.7" y1="365.3" x2="475.7" y2="367.3" stroke="#5a5a5a" stroke-width="1.0"/>
<text x="475.7" y="375" font-size="8.3" text-anchor="middle">60</text>
<line x1="489.4" y1="365.3" x2="489.4" y2="367.3" stroke="#5a5a5a" stroke-width="1.0"/>
<text x="489.4" y="375" font-size="8.3" text-anchor="middle">70</text>
<line x1="503.1" y1="365.3" x2="503.1" y2="367.3" stroke="#5a5a5a" stroke-width="1.0"/>
<text x="503.1" y="375" font-size="8.3" text-anchor="middle">80</text>
<line x1="516.8" y1="365.3" x2="516.8" y2="367.3" stroke="#5a5a5a" stroke-width="1.0"/>
<text x="516.8" y="375" font-size="8.3" text-anchor="middle">90</text>
<line x1="400.35" y1="365.3" x2="400.35" y2="366.7" stroke="#5a5a5a" stroke-width="1.0"/>
<line x1="414.05" y1="365.3" x2="414.05" y2="366.7" stroke="#5a5a5a" stroke-width="1.0"/>
<line x1="427.75" y1="365.3" x2="427.75" y2="366.7" stroke="#5a5a5a" stroke-width="1.0"/>
<line x1="441.45" y1="365.3" x2="441.45" y2="366.7" stroke="#5a5a5a" stroke-width="1.0"/>
<line x1="455.15" y1="365.3" x2="455.15" y2="366.7" stroke="#5a5a5a" stroke-width="1.0"/>
<line x1="468.85" y1="365.3" x2="468.85" y2="366.7" stroke="#5a5a5a" stroke-width="1.0"/>
<line x1="482.55" y1="365.3" x2="482.55" y2="366.7" stroke="#5a5a5a" stroke-width="1.0"/>
<line x1="496.25" y1="365.3" x2="496.25" y2="366.7" stroke="#5a5a5a" stroke-width="1.0"/>
<line x1="509.95" y1="365.3" x2="509.95" y2="366.7" stroke="#5a5a5a" stroke-width="1.0"/>
<line x1="523.65" y1="365.3" x2="523.65" y2="366.7" stroke="#5a5a5a" stroke-width="1.0"/>
<line x1="386.9" y1="365.3" x2="384.9" y2="365.3" stroke="#5a5a5a" stroke-width="1.0"/>
<text x="383.7" y="368.04" font-size="8.3" text-anchor="end">0</text>
<line x1="386.9" y1="317.55" x2="384.9" y2="317.55" stroke="#5a5a5a" stroke-width="1.0"/>
<text x="383.7" y="320.29" font-size="8.3" text-anchor="end">4</text>
<line x1="386.9" y1="269.8" x2="384.9" y2="269.8" stroke="#5a5a5a" stroke-width="1.0"/>
<text x="383.7" y="272.54" font-size="8.3" text-anchor="end">8</text>
<line x1="386.9" y1="341.43" x2="385.5" y2="341.43" stroke="#5a5a5a" stroke-width="1.0"/>
<line x1="386.9" y1="293.68" x2="385.5" y2="293.68" stroke="#5a5a5a" stroke-width="1.0"/>
<text x="352.4" y="265.7" font-size="14">(k)</text>
<text x="365.2" y="322.3" font-size="11.3" text-anchor="middle" transform="rotate(-90 365.2 322.3)">Fl.Intensity<tspan>(</tspan>10<tspan dy="-4.5">4</tspan><tspan dy="4.5">)</tspan></text>
<text x="455.5" y="387.5" font-size="11.3" text-anchor="middle">EtOH Fraction(%)</text>
<polyline points="566.0,354.8 579.6,329.6 593.1,321.0 606.7,319.7 620.2,311.1 633.8,311.6 647.3,301.4 660.9,297.3 674.4,277.2 688.0,276.5" stroke="#222" stroke-width="1.1"/>
<rect x="564.05" y="352.88" width="3.9" height="3.9" class="m" stroke-width="1.0"/>
<rect x="577.61" y="327.69" width="3.9" height="3.9" class="m" stroke-width="1.0"/>
<rect x="591.16" y="319.04" width="3.9" height="3.9" class="m" stroke-width="1.0"/>
<rect x="604.72" y="317.77" width="3.9" height="3.9" class="m" stroke-width="1.0"/>
<rect x="618.27" y="309.12" width="3.9" height="3.9" class="m" stroke-width="1.0"/>
<rect x="631.83" y="309.63" width="3.9" height="3.9" class="m" stroke-width="1.0"/>
<rect x="645.38" y="299.45" width="3.9" height="3.9" class="m" stroke-width="1.0"/>
<rect x="658.94" y="295.38" width="3.9" height="3.9" class="m" stroke-width="1.0"/>
<rect x="672.49" y="275.28" width="3.9" height="3.9" class="m" stroke-width="1.0"/>
<rect x="686.05" y="274.51" width="3.9" height="3.9" class="m" stroke-width="1.0"/>
<line x1="558.9" y1="366.3" x2="696" y2="366.3" stroke="#5a5a5a" stroke-width="1.0"/>
<line x1="559.4" y1="366.3" x2="559.4" y2="265" stroke="#5a5a5a" stroke-width="1.0"/>
<line x1="566" y1="366.3" x2="566" y2="368.3" stroke="#5a5a5a" stroke-width="1.0"/>
<text x="566" y="375.7" font-size="8.3" text-anchor="middle">0</text>
<line x1="579.56" y1="366.3" x2="579.56" y2="368.3" stroke="#5a5a5a" stroke-width="1.0"/>
<text x="579.56" y="375.7" font-size="8.3" text-anchor="middle">10</text>
<line x1="593.11" y1="366.3" x2="593.11" y2="368.3" stroke="#5a5a5a" stroke-width="1.0"/>
<text x="593.11" y="375.7" font-size="8.3" text-anchor="middle">20</text>
<line x1="606.67" y1="366.3" x2="606.67" y2="368.3" stroke="#5a5a5a" stroke-width="1.0"/>
<text x="606.67" y="375.7" font-size="8.3" text-anchor="middle">30</text>
<line x1="620.22" y1="366.3" x2="620.22" y2="368.3" stroke="#5a5a5a" stroke-width="1.0"/>
<text x="620.22" y="375.7" font-size="8.3" text-anchor="middle">40</text>
<line x1="633.78" y1="366.3" x2="633.78" y2="368.3" stroke="#5a5a5a" stroke-width="1.0"/>
<text x="633.78" y="375.7" font-size="8.3" text-anchor="middle">50</text>
<line x1="647.33" y1="366.3" x2="647.33" y2="368.3" stroke="#5a5a5a" stroke-width="1.0"/>
<text x="647.33" y="375.7" font-size="8.3" text-anchor="middle">60</text>
<line x1="660.89" y1="366.3" x2="660.89" y2="368.3" stroke="#5a5a5a" stroke-width="1.0"/>
<text x="660.89" y="375.7" font-size="8.3" text-anchor="middle">70</text>
<line x1="674.44" y1="366.3" x2="674.44" y2="368.3" stroke="#5a5a5a" stroke-width="1.0"/>
<text x="674.44" y="375.7" font-size="8.3" text-anchor="middle">80</text>
<line x1="688" y1="366.3" x2="688" y2="368.3" stroke="#5a5a5a" stroke-width="1.0"/>
<text x="688" y="375.7" font-size="8.3" text-anchor="middle">90</text>
<line x1="572.78" y1="366.3" x2="572.78" y2="367.7" stroke="#5a5a5a" stroke-width="1.0"/>
<line x1="586.33" y1="366.3" x2="586.33" y2="367.7" stroke="#5a5a5a" stroke-width="1.0"/>
<line x1="599.89" y1="366.3" x2="599.89" y2="367.7" stroke="#5a5a5a" stroke-width="1.0"/>
<line x1="613.44" y1="366.3" x2="613.44" y2="367.7" stroke="#5a5a5a" stroke-width="1.0"/>
<line x1="627" y1="366.3" x2="627" y2="367.7" stroke="#5a5a5a" stroke-width="1.0"/>
<line x1="640.56" y1="366.3" x2="640.56" y2="367.7" stroke="#5a5a5a" stroke-width="1.0"/>
<line x1="654.11" y1="366.3" x2="654.11" y2="367.7" stroke="#5a5a5a" stroke-width="1.0"/>
<line x1="667.67" y1="366.3" x2="667.67" y2="367.7" stroke="#5a5a5a" stroke-width="1.0"/>
<line x1="681.22" y1="366.3" x2="681.22" y2="367.7" stroke="#5a5a5a" stroke-width="1.0"/>
<line x1="694.78" y1="366.3" x2="694.78" y2="367.7" stroke="#5a5a5a" stroke-width="1.0"/>
<line x1="559.4" y1="366.3" x2="557.4" y2="366.3" stroke="#5a5a5a" stroke-width="1.0"/>
<text x="556.2" y="369.04" font-size="8.3" text-anchor="end">0</text>
<line x1="559.4" y1="320.5" x2="557.4" y2="320.5" stroke="#5a5a5a" stroke-width="1.0"/>
<text x="556.2" y="323.24" font-size="8.3" text-anchor="end">5</text>
<line x1="559.4" y1="274.7" x2="557.4" y2="274.7" stroke="#5a5a5a" stroke-width="1.0"/>
<text x="556.2" y="277.44" font-size="8.3" text-anchor="end">10</text>
<line x1="559.4" y1="343.4" x2="558" y2="343.4" stroke="#5a5a5a" stroke-width="1.0"/>
<line x1="559.4" y1="297.6" x2="558" y2="297.6" stroke="#5a5a5a" stroke-width="1.0"/>
<text x="523.1" y="267.4" font-size="14">(l)</text>
<text x="542" y="322.7" font-size="11.3" text-anchor="middle" transform="rotate(-90 542 322.7)">Fl.Intensity<tspan>(</tspan>10<tspan dy="-4.5">4</tspan><tspan dy="4.5">)</tspan></text>
<text x="627.1" y="387.5" font-size="11.3" text-anchor="middle">EtOH Fraction(%)</text>
<polyline points="33.6,505.3 34.5,505.1 35.4,504.7 36.4,504.1 37.3,503.4 38.2,502.5 39.2,501.6 40.1,500.5 41.0,499.3 42.0,498.0 42.9,496.4 43.8,494.5 44.8,492.5 45.7,490.3 46.6,488.0 47.6,485.8 48.5,483.5 49.4,481.5 50.4,479.5 51.3,477.4 52.2,475.3 53.2,473.1 54.1,471.0 55.0,469.0 56.0,467.1 56.9,465.3 57.8,463.8 58.8,462.6 59.7,461.6 60.6,460.7 61.6,459.8 62.5,459.1 63.4,458.5 64.4,458.1 65.3,457.7 66.2,457.6 67.2,457.5 68.1,457.6 69.0,457.8 70.0,458.1 70.9,458.5 71.8,459.1 72.8,459.7 73.7,460.6 74.6,461.6 75.6,462.8 76.5,464.2 77.4,465.6 78.4,467.0 79.3,468.5 80.2,469.8 81.2,471.0 82.1,472.2 83.0,473.5 84.0,474.7 84.9,475.9 85.8,477.0 86.8,478.2 87.7,479.3 88.6,480.4 89.6,481.5 90.5,482.5 91.4,483.5 92.4,484.4 93.3,485.3 94.2,486.2 95.2,487.0 96.1,487.9 97.0,488.7 98.0,489.5 98.9,490.2 99.8,491.0 100.8,491.7 101.7,492.5 102.6,493.2 103.6,493.9 104.5,494.6 105.4,495.3 106.4,496.0 107.3,496.7 108.2,497.3 109.2,498.0 110.1,498.6 111.0,499.1 112.0,499.6 112.9,500.1 113.8,500.6 114.8,501.1 115.7,501.6 116.6,502.0 117.6,502.5 118.5,502.9 119.4,503.2 120.4,503.5 121.3,503.7 122.2,503.9 123.2,504.1 124.1,504.3 125.0,504.4 126.0,504.6 126.9,504.7 127.8,504.8 128.8,505.0 129.7,505.1 130.6,505.2 131.6,505.3 132.5,505.3 133.4,505.4 134.4,505.4 135.3,505.5 136.2,505.5 137.2,505.5 138.1,505.6 139.0,505.6 140.0,505.6 140.9,505.7 141.8,505.7 142.8,505.7 143.7,505.7 144.6,505.8 145.6,505.8 146.5,505.8 147.4,505.8 148.4,505.8 149.3,505.8 150.2,505.8 151.2,505.8 152.1,505.8 153.0,505.8 154.0,505.8 154.9,505.8 155.8,505.8 156.8,505.8 157.7,505.8 158.6,505.8 159.6,505.8 160.5,505.8 161.4,505.8 162.4,505.8 163.3,505.8" stroke="#111111" stroke-width="1.2"/>
<polyline points="33.6,505.2 34.5,505.0 35.4,504.3 36.4,503.3 37.3,501.9 38.2,500.2 39.2,498.3 40.1,496.2 41.0,494.1 42.0,491.9 42.9,489.4 43.8,486.8 44.8,484.0 45.7,481.1 46.6,478.2 47.6,475.4 48.5,472.6 49.4,469.9 50.4,467.5 51.3,464.9 52.2,462.4 53.2,460.0 54.1,457.7 55.0,455.6 56.0,453.8 56.9,452.4 57.8,451.2 58.8,450.1 59.7,449.1 60.6,448.5 61.6,448.0 62.5,447.6 63.4,447.3 64.4,447.1 65.3,446.9 66.2,447.0 67.2,447.1 68.1,447.4 69.0,447.9 70.0,448.5 70.9,449.2 71.8,450.0 72.8,451.0 73.7,452.1 74.6,453.4 75.6,454.7 76.5,456.1 77.4,457.5 78.4,459.0 79.3,460.4 80.2,461.7 81.2,463.0 82.1,464.3 83.0,465.6 84.0,467.0 84.9,468.3 85.8,469.6 86.8,471.0 87.7,472.3 88.6,473.6 89.6,474.9 90.5,476.2 91.4,477.4 92.4,478.6 93.3,479.9 94.2,481.1 95.2,482.4 96.1,483.6 97.0,484.8 98.0,485.9 98.9,487.1 99.8,488.1 100.8,489.2 101.7,490.1 102.6,491.0 103.6,492.0 104.5,492.8 105.4,493.7 106.4,494.5 107.3,495.3 108.2,496.1 109.2,496.8 110.1,497.5 111.0,498.1 112.0,498.7 112.9,499.2 113.8,499.8 114.8,500.4 115.7,500.9 116.6,501.4 117.6,501.9 118.5,502.4 119.4,502.8 120.4,503.1 121.3,503.4 122.2,503.6 123.2,503.8 124.1,504.0 125.0,504.2 126.0,504.4 126.9,504.5 127.8,504.7 128.8,504.8 129.7,504.9 130.6,505.0 131.6,505.1 132.5,505.2 133.4,505.3 134.4,505.3 135.3,505.4 136.2,505.4 137.2,505.5 138.1,505.5 139.0,505.5 140.0,505.6 140.9,505.6 141.8,505.6 142.8,505.7 143.7,505.7 144.6,505.7 145.6,505.8 146.5,505.8 147.4,505.8 148.4,505.8 149.3,505.8 150.2,505.8 151.2,505.8 152.1,505.8 153.0,505.8 154.0,505.8 154.9,505.8 155.8,505.8 156.8,505.8 157.7,505.8 158.6,505.8 159.6,505.8 160.5,505.8 161.4,505.8 162.4,505.8 163.3,505.8" stroke="#f5c0c0" stroke-width="1.0"/>
<polyline points="33.6,505.1 34.5,504.9 35.4,504.1 36.4,502.9 37.3,501.3 38.2,499.4 39.2,497.3 40.1,494.9 41.0,492.5 42.0,490.0 42.9,487.2 43.8,484.2 44.8,481.0 45.7,477.8 46.6,474.5 47.6,471.2 48.5,468.0 49.4,465.0 50.4,462.2 51.3,459.3 52.2,456.5 53.2,453.7 54.1,451.1 55.0,448.7 56.0,446.7 56.9,445.1 57.8,443.7 58.8,442.5 59.7,441.4 60.6,440.6 61.6,440.1 62.5,439.7 63.4,439.3 64.4,439.1 65.3,438.9 66.2,438.9 67.2,439.1 68.1,439.5 69.0,440.0 70.0,440.6 70.9,441.4 71.8,442.4 72.8,443.5 73.7,444.8 74.6,446.2 75.6,447.7 76.5,449.3 77.4,450.9 78.4,452.6 79.3,454.2 80.2,455.7 81.2,457.2 82.1,458.7 83.0,460.2 84.0,461.7 84.9,463.2 85.8,464.7 86.8,466.2 87.7,467.7 88.6,469.2 89.6,470.7 90.5,472.1 91.4,473.5 92.4,474.9 93.3,476.4 94.2,477.8 95.2,479.2 96.1,480.6 97.0,481.9 98.0,483.2 98.9,484.5 99.8,485.7 100.8,486.9 101.7,488.0 102.6,489.0 103.6,490.1 104.5,491.1 105.4,492.0 106.4,493.0 107.3,493.9 108.2,494.7 109.2,495.6 110.1,496.3 111.0,497.0 112.0,497.7 112.9,498.3 113.8,499.0 114.8,499.6 115.7,500.2 116.6,500.8 117.6,501.4 118.5,501.9 119.4,502.4 120.4,502.8 121.3,503.1 122.2,503.3 123.2,503.6 124.1,503.8 125.0,504.0 126.0,504.2 126.9,504.3 127.8,504.5 128.8,504.7 129.7,504.8 130.6,504.9 131.6,505.1 132.5,505.2 133.4,505.2 134.4,505.3 135.3,505.3 136.2,505.4 137.2,505.4 138.1,505.5 139.0,505.5 140.0,505.5 140.9,505.6 141.8,505.6 142.8,505.7 143.7,505.7 144.6,505.7 145.6,505.8 146.5,505.8 147.4,505.8 148.4,505.8 149.3,505.8 150.2,505.8 151.2,505.8 152.1,505.8 153.0,505.8 154.0,505.8 154.9,505.8 155.8,505.8 156.8,505.8 157.7,505.8 158.6,505.8 159.6,505.8 160.5,505.8 161.4,505.8 162.4,505.8 163.3,505.8" stroke="#f5a0a0" stroke-width="1.0"/>
<polyline points="33.6,505.0 34.5,504.7 35.4,503.8 36.4,502.3 37.3,500.4 38.2,498.1 39.2,495.5 40.1,492.6 41.0,489.7 42.0,486.6 42.9,483.3 43.8,479.6 44.8,475.8 45.7,471.8 46.6,467.8 47.6,463.9 48.5,460.0 49.4,456.4 50.4,453.0 51.3,449.5 52.2,446.0 53.2,442.7 54.1,439.5 55.0,436.6 56.0,434.2 56.9,432.3 57.8,430.6 58.8,429.1 59.7,427.8 60.6,426.8 61.6,426.2 62.5,425.7 63.4,425.3 64.4,424.9 65.3,424.8 66.2,424.8 67.2,425.0 68.1,425.4 69.0,426.1 70.0,426.9 70.9,427.8 71.8,428.9 72.8,430.3 73.7,431.9 74.6,433.6 75.6,435.4 76.5,437.4 77.4,439.3 78.4,441.3 79.3,443.2 80.2,445.1 81.2,446.9 82.1,448.7 83.0,450.5 84.0,452.3 84.9,454.2 85.8,456.0 86.8,457.8 87.7,459.7 88.6,461.5 89.6,463.2 90.5,465.0 91.4,466.7 92.4,468.4 93.3,470.1 94.2,471.8 95.2,473.5 96.1,475.2 97.0,476.9 98.0,478.5 98.9,480.0 99.8,481.5 100.8,482.9 101.7,484.2 102.6,485.5 103.6,486.7 104.5,487.9 105.4,489.1 106.4,490.3 107.3,491.4 108.2,492.4 109.2,493.4 110.1,494.3 111.0,495.2 112.0,496.0 112.9,496.8 113.8,497.5 114.8,498.3 115.7,499.1 116.6,499.8 117.6,500.5 118.5,501.1 119.4,501.7 120.4,502.1 121.3,502.5 122.2,502.8 123.2,503.1 124.1,503.3 125.0,503.6 126.0,503.8 126.9,504.0 127.8,504.2 128.8,504.4 129.7,504.6 130.6,504.8 131.6,504.9 132.5,505.0 133.4,505.1 134.4,505.2 135.3,505.2 136.2,505.3 137.2,505.3 138.1,505.4 139.0,505.4 140.0,505.5 140.9,505.5 141.8,505.6 142.8,505.6 143.7,505.7 144.6,505.7 145.6,505.7 146.5,505.8 147.4,505.8 148.4,505.8 149.3,505.8 150.2,505.8 151.2,505.8 152.1,505.8 153.0,505.8 154.0,505.8 154.9,505.8 155.8,505.8 156.8,505.8 157.7,505.8 158.6,505.8 159.6,505.8 160.5,505.8 161.4,505.8 162.4,505.8 163.3,505.8" stroke="#f07070" stroke-width="1.0"/>
<polyline points="33.6,505.0 34.5,504.8 35.4,503.9 36.4,502.6 37.3,500.7 38.2,498.6 39.2,496.1 40.1,493.5 41.0,490.7 42.0,487.8 42.9,484.7 43.8,481.3 44.8,477.7 45.7,474.0 46.6,470.2 47.6,466.5 48.5,462.9 49.4,459.6 50.4,456.4 51.3,453.1 52.2,449.8 53.2,446.7 54.1,443.7 55.0,441.0 56.0,438.8 56.9,436.9 57.8,435.3 58.8,433.9 59.7,432.7 60.6,431.8 61.6,431.3 62.5,430.8 63.4,430.4 64.4,430.1 65.3,429.9 66.2,429.9 67.2,430.1 68.1,430.5 69.0,431.1 70.0,431.9 70.9,432.7 71.8,433.8 72.8,435.1 73.7,436.6 74.6,438.2 75.6,439.9 76.5,441.7 77.4,443.5 78.4,445.4 79.3,447.2 80.2,449.0 81.2,450.6 82.1,452.3 83.0,454.0 84.0,455.7 84.9,457.4 85.8,459.2 86.8,460.9 87.7,462.6 88.6,464.3 89.6,465.9 90.5,467.6 91.4,469.2 92.4,470.8 93.3,472.4 94.2,474.0 95.2,475.6 96.1,477.2 97.0,478.7 98.0,480.2 98.9,481.6 99.8,483.0 100.8,484.3 101.7,485.6 102.6,486.8 103.6,487.9 104.5,489.1 105.4,490.2 106.4,491.3 107.3,492.3 108.2,493.3 109.2,494.2 110.1,495.1 111.0,495.9 112.0,496.6 112.9,497.3 113.8,498.1 114.8,498.8 115.7,499.5 116.6,500.2 117.6,500.8 118.5,501.4 119.4,501.9 120.4,502.4 121.3,502.7 122.2,503.0 123.2,503.3 124.1,503.5 125.0,503.7 126.0,503.9 126.9,504.1 127.8,504.3 128.8,504.5 129.7,504.7 130.6,504.8 131.6,505.0 132.5,505.1 133.4,505.1 134.4,505.2 135.3,505.3 136.2,505.3 137.2,505.4 138.1,505.4 139.0,505.5 140.0,505.5 140.9,505.5 141.8,505.6 142.8,505.6 143.7,505.7 144.6,505.7 145.6,505.8 146.5,505.8 147.4,505.8 148.4,505.8 149.3,505.8 150.2,505.8 151.2,505.8 152.1,505.8 153.0,505.8 154.0,505.8 154.9,505.8 155.8,505.8 156.8,505.8 157.7,505.8 158.6,505.8 159.6,505.8 160.5,505.8 161.4,505.8 162.4,505.8 163.3,505.8" stroke="#f09090" stroke-width="1.0"/>
<polyline points="33.6,505.0 34.5,504.7 35.4,503.8 36.4,502.3 37.3,500.3 38.2,497.9 39.2,495.3 40.1,492.4 41.0,489.3 42.0,486.2 42.9,482.8 43.8,479.1 44.8,475.2 45.7,471.2 46.6,467.1 47.6,463.0 48.5,459.1 49.4,455.4 50.4,452.0 51.3,448.4 52.2,444.9 53.2,441.4 54.1,438.2 55.0,435.3 56.0,432.8 56.9,430.8 57.8,429.1 58.8,427.5 59.7,426.2 60.6,425.3 61.6,424.6 62.5,424.1 63.4,423.7 64.4,423.3 65.3,423.1 66.2,423.2 67.2,423.4 68.1,423.8 69.0,424.5 70.0,425.3 70.9,426.2 71.8,427.4 72.8,428.8 73.7,430.4 74.6,432.2 75.6,434.1 76.5,436.0 77.4,438.0 78.4,440.0 79.3,442.0 80.2,443.9 81.2,445.7 82.1,447.6 83.0,449.4 84.0,451.3 84.9,453.1 85.8,455.0 86.8,456.9 87.7,458.7 88.6,460.6 89.6,462.4 90.5,464.2 91.4,465.9 92.4,467.7 93.3,469.4 94.2,471.2 95.2,472.9 96.1,474.6 97.0,476.3 98.0,477.9 98.9,479.5 99.8,481.0 100.8,482.4 101.7,483.8 102.6,485.1 103.6,486.4 104.5,487.6 105.4,488.8 106.4,490.0 107.3,491.1 108.2,492.1 109.2,493.2 110.1,494.1 111.0,495.0 112.0,495.8 112.9,496.6 113.8,497.4 114.8,498.2 115.7,498.9 116.6,499.7 117.6,500.4 118.5,501.0 119.4,501.6 120.4,502.1 121.3,502.5 122.2,502.8 123.2,503.0 124.1,503.3 125.0,503.5 126.0,503.8 126.9,504.0 127.8,504.2 128.8,504.4 129.7,504.6 130.6,504.7 131.6,504.9 132.5,505.0 133.4,505.1 134.4,505.2 135.3,505.2 136.2,505.3 137.2,505.3 138.1,505.4 139.0,505.4 140.0,505.5 140.9,505.5 141.8,505.6 142.8,505.6 143.7,505.7 144.6,505.7 145.6,505.7 146.5,505.8 147.4,505.8 148.4,505.8 149.3,505.8 150.2,505.8 151.2,505.8 152.1,505.8 153.0,505.8 154.0,505.8 154.9,505.8 155.8,505.8 156.8,505.8 157.7,505.8 158.6,505.8 159.6,505.8 160.5,505.8 161.4,505.8 162.4,505.8 163.3,505.8" stroke="#e03a3a" stroke-width="1.6"/>
<polyline points="33.6,505.0 34.5,504.7 35.4,503.7 36.4,502.2 37.3,500.2 38.2,497.7 39.2,495.0 40.1,492.0 41.0,488.9 42.0,485.8 42.9,482.3 43.8,478.5 44.8,474.5 45.7,470.3 46.6,466.2 47.6,462.0 48.5,458.0 49.4,454.3 50.4,450.7 51.3,447.1 52.2,443.4 53.2,439.9 54.1,436.6 55.0,433.6 56.0,431.1 56.9,429.1 57.8,427.3 58.8,425.7 59.7,424.4 60.6,423.4 61.6,422.7 62.5,422.2 63.4,421.8 64.4,421.4 65.3,421.2 66.2,421.2 67.2,421.5 68.1,421.9 69.0,422.6 70.0,423.4 70.9,424.4 71.8,425.6 72.8,427.0 73.7,428.7 74.6,430.5 75.6,432.4 76.5,434.4 77.4,436.4 78.4,438.5 79.3,440.5 80.2,442.5 81.2,444.3 82.1,446.2 83.0,448.1 84.0,450.0 84.9,451.9 85.8,453.8 86.8,455.7 87.7,457.6 88.6,459.5 89.6,461.4 90.5,463.2 91.4,465.0 92.4,466.8 93.3,468.6 94.2,470.4 95.2,472.1 96.1,473.9 97.0,475.6 98.0,477.3 98.9,478.9 99.8,480.4 100.8,481.9 101.7,483.3 102.6,484.6 103.6,485.9 104.5,487.2 105.4,488.4 106.4,489.6 107.3,490.7 108.2,491.8 109.2,492.9 110.1,493.8 111.0,494.7 112.0,495.6 112.9,496.4 113.8,497.2 114.8,498.0 115.7,498.8 116.6,499.5 117.6,500.2 118.5,500.9 119.4,501.5 120.4,502.0 121.3,502.4 122.2,502.7 123.2,503.0 124.1,503.2 125.0,503.5 126.0,503.7 126.9,504.0 127.8,504.2 128.8,504.4 129.7,504.6 130.6,504.7 131.6,504.9 132.5,505.0 133.4,505.1 134.4,505.1 135.3,505.2 136.2,505.2 137.2,505.3 138.1,505.4 139.0,505.4 140.0,505.5 140.9,505.5 141.8,505.6 142.8,505.6 143.7,505.7 144.6,505.7 145.6,505.7 146.5,505.8 147.4,505.8 148.4,505.8 149.3,505.8 150.2,505.8 151.2,505.8 152.1,505.8 153.0,505.8 154.0,505.8 154.9,505.8 155.8,505.8 156.8,505.8 157.7,505.8 158.6,505.8 159.6,505.8 160.5,505.8 161.4,505.8 162.4,505.8 163.3,505.8" stroke="#e04848" stroke-width="1.2"/>
<polyline points="33.6,505.1 34.5,503.6 35.4,501.9 36.4,500.0 37.3,498.0 38.2,495.8 39.2,493.6 40.1,491.3 41.0,488.8 42.0,486.4 42.9,483.6 43.8,480.7 44.8,477.6 45.7,474.4 46.6,471.2 47.6,468.0 48.5,465.0 49.4,462.1 50.4,459.4 51.3,456.6 52.2,453.7 53.2,450.9 54.1,448.2 55.0,445.6 56.0,443.3 56.9,441.1 57.8,439.3 58.8,437.8 59.7,436.7 60.6,435.6 61.6,434.7 62.5,433.9 63.4,433.3 64.4,432.8 65.3,432.5 66.2,432.5 67.2,432.6 68.1,432.9 69.0,433.5 70.0,434.2 70.9,435.0 71.8,436.0 72.8,437.2 73.7,438.6 74.6,440.6 75.6,443.0 76.5,445.7 77.4,448.5 78.4,451.4 79.3,454.2 80.2,456.7 81.2,459.0 82.1,461.1 83.0,463.2 84.0,465.3 84.9,467.3 85.8,469.3 86.8,471.3 87.7,473.2 88.6,475.0 89.6,476.7 90.5,478.4 91.4,479.9 92.4,481.5 93.3,483.0 94.2,484.5 95.2,486.0 96.1,487.4 97.0,488.8 98.0,490.0 98.9,491.2 99.8,492.4 100.8,493.4 101.7,494.3 102.6,495.1 103.6,495.9 104.5,496.7 105.4,497.5 106.4,498.3 107.3,499.0 108.2,499.6 109.2,500.2 110.1,500.7 111.0,501.2 112.0,501.5 112.9,501.9 113.8,502.3 114.8,502.6 115.7,503.0 116.6,503.3 117.6,503.6 118.5,503.9 119.4,504.1 120.4,504.4 121.3,504.5 122.2,504.7 123.2,504.8 124.1,504.9 125.0,505.0 126.0,505.1 126.9,505.2 127.8,505.2 128.8,505.3 129.7,505.4 130.6,505.5 131.6,505.6 132.5,505.6 133.4,505.7 134.4,505.8 135.3,505.8 136.2,505.8 137.2,505.8 138.1,505.8 139.0,505.8 140.0,505.8 140.9,505.8 141.8,505.8 142.8,505.8 143.7,505.8 144.6,505.8 145.6,505.8 146.5,505.8 147.4,505.8 148.4,505.8 149.3,505.8 150.2,505.8 151.2,505.8 152.1,505.8 153.0,505.8 154.0,505.8 154.9,505.8 155.8,505.8 156.8,505.8 157.7,505.8 158.6,505.8 159.6,505.8 160.5,505.8 161.4,505.8 162.4,505.8 163.3,505.8" stroke="#3030ff" stroke-width="1.3"/>
<polyline points="33.6,505.3 34.5,504.4 35.4,503.3 36.4,502.1 37.3,500.9 38.2,499.5 39.2,498.1 40.1,496.6 41.0,495.1 42.0,493.5 42.9,491.8 43.8,489.9 44.8,488.0 45.7,485.9 46.6,483.9 47.6,481.9 48.5,480.0 49.4,478.2 50.4,476.5 51.3,474.7 52.2,472.9 53.2,471.2 54.1,469.4 55.0,467.8 56.0,466.3 56.9,465.0 57.8,463.8 58.8,462.9 59.7,462.1 60.6,461.5 61.6,460.9 62.5,460.4 63.4,460.0 64.4,459.7 65.3,459.5 66.2,459.5 67.2,459.6 68.1,459.8 69.0,460.1 70.0,460.6 70.9,461.1 71.8,461.7 72.8,462.5 73.7,463.4 74.6,464.6 75.6,466.1 76.5,467.8 77.4,469.6 78.4,471.4 79.3,473.2 80.2,474.8 81.2,476.2 82.1,477.6 83.0,478.9 84.0,480.2 84.9,481.5 85.8,482.8 86.8,484.0 87.7,485.2 88.6,486.3 89.6,487.4 90.5,488.5 91.4,489.5 92.4,490.4 93.3,491.4 94.2,492.4 95.2,493.3 96.1,494.2 97.0,495.0 98.0,495.8 98.9,496.6 99.8,497.3 100.8,497.9 101.7,498.5 102.6,499.0 103.6,499.6 104.5,500.1 105.4,500.6 106.4,501.0 107.3,501.5 108.2,501.9 109.2,502.3 110.1,502.6 111.0,502.9 112.0,503.1 112.9,503.3 113.8,503.6 114.8,503.8 115.7,504.0 116.6,504.2 117.6,504.4 118.5,504.6 119.4,504.8 120.4,504.9 121.3,505.0 122.2,505.1 123.2,505.2 124.1,505.2 125.0,505.3 126.0,505.3 126.9,505.4 127.8,505.5 128.8,505.5 129.7,505.6 130.6,505.6 131.6,505.7 132.5,505.7 133.4,505.7 134.4,505.8 135.3,505.8 136.2,505.8 137.2,505.8 138.1,505.8 139.0,505.8 140.0,505.8 140.9,505.8 141.8,505.8 142.8,505.8 143.7,505.8 144.6,505.8 145.6,505.8 146.5,505.8 147.4,505.8 148.4,505.8 149.3,505.8 150.2,505.8 151.2,505.8 152.1,505.8 153.0,505.8 154.0,505.8 154.9,505.8 155.8,505.8 156.8,505.8 157.7,505.8 158.6,505.8 159.6,505.8 160.5,505.8 161.4,505.8 162.4,505.8 163.3,505.8" stroke="#6060f0" stroke-width="1.1"/>
<polyline points="33.6,505.8 34.5,505.7 35.4,505.6 36.4,505.5 37.3,505.4 38.2,505.4 39.2,505.3 40.1,505.2 41.0,505.1 42.0,505.1 42.9,505.0 43.8,504.9 44.8,504.9 45.7,504.8 46.6,504.8 47.6,504.8 48.5,504.7 49.4,504.7 50.4,504.6 51.3,504.6 52.2,504.5 53.2,504.5 54.1,504.5 55.0,504.4 56.0,504.4 56.9,504.4 57.8,504.3 58.8,504.3 59.7,504.3 60.6,504.3 61.6,504.2 62.5,504.2 63.4,504.2 64.4,504.2 65.3,504.2 66.2,504.2 67.2,504.2 68.1,504.2 69.0,504.2 70.0,504.2 70.9,504.2 71.8,504.2 72.8,504.2 73.7,504.3 74.6,504.3 75.6,504.3 76.5,504.3 77.4,504.3 78.4,504.3 79.3,504.3 80.2,504.4 81.2,504.4 82.1,504.4 83.0,504.4 84.0,504.4 84.9,504.4 85.8,504.4 86.8,504.5 87.7,504.5 88.6,504.5 89.6,504.5 90.5,504.5 91.4,504.6 92.4,504.6 93.3,504.6 94.2,504.6 95.2,504.6 96.1,504.6 97.0,504.7 98.0,504.7 98.9,504.7 99.8,504.7 100.8,504.7 101.7,504.8 102.6,504.8 103.6,504.8 104.5,504.8 105.4,504.8 106.4,504.9 107.3,504.9 108.2,504.9 109.2,504.9 110.1,505.0 111.0,505.0 112.0,505.0 112.9,505.0 113.8,505.0 114.8,505.1 115.7,505.1 116.6,505.1 117.6,505.1 118.5,505.1 119.4,505.2 120.4,505.2 121.3,505.2 122.2,505.2 123.2,505.3 124.1,505.3 125.0,505.3 126.0,505.3 126.9,505.3 127.8,505.3 128.8,505.4 129.7,505.4 130.6,505.4 131.6,505.4 132.5,505.4 133.4,505.5 134.4,505.5 135.3,505.5 136.2,505.5 137.2,505.5 138.1,505.5 139.0,505.5 140.0,505.6 140.9,505.6 141.8,505.6 142.8,505.6 143.7,505.6 144.6,505.6 145.6,505.6 146.5,505.6 147.4,505.7 148.4,505.7 149.3,505.7 150.2,505.7 151.2,505.7 152.1,505.7 153.0,505.7 154.0,505.7 154.9,505.7 155.8,505.7 156.8,505.8 157.7,505.8 158.6,505.8 159.6,505.8 160.5,505.8 161.4,505.8 162.4,505.8 163.3,505.8" stroke="#a0a0f5" stroke-width="1.0"/>
<line x1="32.9" y1="506" x2="164" y2="506" stroke="#5a5a5a" stroke-width="1.0"/>
<line x1="33.4" y1="506" x2="33.4" y2="408.5" stroke="#5a5a5a" stroke-width="1.0"/>
<line x1="69.3" y1="506" x2="69.3" y2="508" stroke="#5a5a5a" stroke-width="1.0"/>
<text x="69.3" y="516.2" font-size="8.3" text-anchor="middle">500</text>
<line x1="116.3" y1="506" x2="116.3" y2="508" stroke="#5a5a5a" stroke-width="1.0"/>
<text x="116.3" y="516.2" font-size="8.3" text-anchor="middle">600</text>
<line x1="163.3" y1="506" x2="163.3" y2="508" stroke="#5a5a5a" stroke-width="1.0"/>
<text x="163.3" y="516.2" font-size="8.3" text-anchor="middle">700</text>
<line x1="45.8" y1="506" x2="45.8" y2="507.4" stroke="#5a5a5a" stroke-width="1.0"/>
<line x1="92.8" y1="506" x2="92.8" y2="507.4" stroke="#5a5a5a" stroke-width="1.0"/>
<line x1="139.8" y1="506" x2="139.8" y2="507.4" stroke="#5a5a5a" stroke-width="1.0"/>
<line x1="33.4" y1="505.8" x2="31.4" y2="505.8" stroke="#5a5a5a" stroke-width="1.0"/>
<text x="30.2" y="508.54" font-size="8.3" text-anchor="end">0</text>
<line x1="33.4" y1="473.63" x2="31.4" y2="473.63" stroke="#5a5a5a" stroke-width="1.0"/>
<text x="30.2" y="476.37" font-size="8.3" text-anchor="end">1</text>
<line x1="33.4" y1="441.47" x2="31.4" y2="441.47" stroke="#5a5a5a" stroke-width="1.0"/>
<text x="30.2" y="444.21" font-size="8.3" text-anchor="end">2</text>
<line x1="33.4" y1="409.3" x2="31.4" y2="409.3" stroke="#5a5a5a" stroke-width="1.0"/>
<text x="30.2" y="412.04" font-size="8.3" text-anchor="end">3</text>
<line x1="33.4" y1="489.72" x2="32" y2="489.72" stroke="#5a5a5a" stroke-width="1.0"/>
<line x1="33.4" y1="457.55" x2="32" y2="457.55" stroke="#5a5a5a" stroke-width="1.0"/>
<line x1="33.4" y1="425.38" x2="32" y2="425.38" stroke="#5a5a5a" stroke-width="1.0"/>
<text x="8.7" y="398.3" font-size="15">(m)</text>
<text x="15.9" y="463" font-size="11.7" text-anchor="middle" transform="rotate(-90 15.9 463)">Fl.Intensity<tspan>(</tspan>10<tspan dy="-4.5">6</tspan><tspan dy="4.5">)</tspan></text>
<text x="98.3" y="526.3" font-size="10.9" text-anchor="middle">Wavelength(nm)</text>
<line x1="110.4" y1="405.7" x2="122" y2="405.7" stroke="#111111" stroke-width="1.5"/>
<text x="123.3" y="407.9" font-size="6.4">PBS</text>
<line x1="110.4" y1="413.5" x2="122" y2="413.5" stroke="#f5c0c0" stroke-width="1.3"/>
<text x="123.3" y="415.7" font-size="6.4">DMSO:PBS=1:9</text>
<line x1="110.4" y1="421.3" x2="122" y2="421.3" stroke="#f5a0a0" stroke-width="1.3"/>
<text x="123.3" y="423.5" font-size="6.4">DMSO:PBS=2:8</text>
<line x1="110.4" y1="429.1" x2="122" y2="429.1" stroke="#f07070" stroke-width="1.3"/>
<text x="123.3" y="431.3" font-size="6.4">DMSO:PBS=3:7</text>
<line x1="110.4" y1="436.9" x2="122" y2="436.9" stroke="#f09090" stroke-width="1.3"/>
<text x="123.3" y="439.1" font-size="6.4">DMSO:PBS=4:6</text>
<line x1="110.4" y1="444.7" x2="122" y2="444.7" stroke="#e03a3a" stroke-width="1.9000000000000001"/>
<text x="123.3" y="446.9" font-size="6.4">DMSO:PBS=5:5</text>
<line x1="110.4" y1="452.5" x2="122" y2="452.5" stroke="#e04848" stroke-width="1.5"/>
<text x="123.3" y="454.7" font-size="6.4">DMSO:PBS=6:4</text>
<line x1="110.4" y1="460.3" x2="122" y2="460.3" stroke="#3030ff" stroke-width="1.6"/>
<text x="123.3" y="462.5" font-size="6.4">DMSO:PBS=7:3</text>
<line x1="110.4" y1="468.1" x2="122" y2="468.1" stroke="#6060f0" stroke-width="1.4000000000000001"/>
<text x="123.3" y="470.3" font-size="6.4">DMSO:PBS=8:2</text>
<line x1="110.4" y1="475.9" x2="122" y2="475.9" stroke="#a0a0f5" stroke-width="1.3"/>
<text x="123.3" y="478.1" font-size="6.4">DMSO:PBS=9:1</text>
<polyline points="218.0,455.7 231.4,445.5 244.8,436.9 258.2,428.4 271.6,423.5 285.0,418.7 298.4,421.3 311.8,430.4 325.2,458.0 338.6,504.4" stroke="#222" stroke-width="1.1"/>
<rect x="216.05" y="453.75" width="3.9" height="3.9" class="m" stroke-width="1.0"/>
<rect x="229.45" y="443.5" width="3.9" height="3.9" class="m" stroke-width="1.0"/>
<rect x="242.85" y="434.97" width="3.9" height="3.9" class="m" stroke-width="1.0"/>
<rect x="256.25" y="426.43" width="3.9" height="3.9" class="m" stroke-width="1.0"/>
<rect x="269.65" y="421.59" width="3.9" height="3.9" class="m" stroke-width="1.0"/>
<rect x="283.05" y="416.75" width="3.9" height="3.9" class="m" stroke-width="1.0"/>
<rect x="296.45" y="419.31" width="3.9" height="3.9" class="m" stroke-width="1.0"/>
<rect x="309.85" y="428.42" width="3.9" height="3.9" class="m" stroke-width="1.0"/>
<rect x="323.25" y="456.02" width="3.9" height="3.9" class="m" stroke-width="1.0"/>
<rect x="336.65" y="502.41" width="3.9" height="3.9" class="m" stroke-width="1.0"/>
<line x1="210.8" y1="506" x2="346" y2="506" stroke="#5a5a5a" stroke-width="1.0"/>
<line x1="211.3" y1="506" x2="211.3" y2="406.8" stroke="#5a5a5a" stroke-width="1.0"/>
<line x1="218" y1="506" x2="218" y2="508" stroke="#5a5a5a" stroke-width="1.0"/>
<text x="218" y="515.5" font-size="8.3" text-anchor="middle">0</text>
<line x1="231.4" y1="506" x2="231.4" y2="508" stroke="#5a5a5a" stroke-width="1.0"/>
<text x="231.4" y="515.5" font-size="8.3" text-anchor="middle">10</text>
<line x1="244.8" y1="506" x2="244.8" y2="508" stroke="#5a5a5a" stroke-width="1.0"/>
<text x="244.8" y="515.5" font-size="8.3" text-anchor="middle">20</text>
<line x1="258.2" y1="506" x2="258.2" y2="508" stroke="#5a5a5a" stroke-width="1.0"/>
<text x="258.2" y="515.5" font-size="8.3" text-anchor="middle">30</text>
<line x1="271.6" y1="506" x2="271.6" y2="508" stroke="#5a5a5a" stroke-width="1.0"/>
<text x="271.6" y="515.5" font-size="8.3" text-anchor="middle">40</text>
<line x1="285" y1="506" x2="285" y2="508" stroke="#5a5a5a" stroke-width="1.0"/>
<text x="285" y="515.5" font-size="8.3" text-anchor="middle">50</text>
<line x1="298.4" y1="506" x2="298.4" y2="508" stroke="#5a5a5a" stroke-width="1.0"/>
<text x="298.4" y="515.5" font-size="8.3" text-anchor="middle">60</text>
<line x1="311.8" y1="506" x2="311.8" y2="508" stroke="#5a5a5a" stroke-width="1.0"/>
<text x="311.8" y="515.5" font-size="8.3" text-anchor="middle">70</text>
<line x1="325.2" y1="506" x2="325.2" y2="508" stroke="#5a5a5a" stroke-width="1.0"/>
<text x="325.2" y="515.5" font-size="8.3" text-anchor="middle">80</text>
<line x1="338.6" y1="506" x2="338.6" y2="508" stroke="#5a5a5a" stroke-width="1.0"/>
<text x="338.6" y="515.5" font-size="8.3" text-anchor="middle">90</text>
<line x1="224.7" y1="506" x2="224.7" y2="507.4" stroke="#5a5a5a" stroke-width="1.0"/>
<line x1="238.1" y1="506" x2="238.1" y2="507.4" stroke="#5a5a5a" stroke-width="1.0"/>
<line x1="251.5" y1="506" x2="251.5" y2="507.4" stroke="#5a5a5a" stroke-width="1.0"/>
<line x1="264.9" y1="506" x2="264.9" y2="507.4" stroke="#5a5a5a" stroke-width="1.0"/>
<line x1="278.3" y1="506" x2="278.3" y2="507.4" stroke="#5a5a5a" stroke-width="1.0"/>
<line x1="291.7" y1="506" x2="291.7" y2="507.4" stroke="#5a5a5a" stroke-width="1.0"/>
<line x1="305.1" y1="506" x2="305.1" y2="507.4" stroke="#5a5a5a" stroke-width="1.0"/>
<line x1="318.5" y1="506" x2="318.5" y2="507.4" stroke="#5a5a5a" stroke-width="1.0"/>
<line x1="331.9" y1="506" x2="331.9" y2="507.4" stroke="#5a5a5a" stroke-width="1.0"/>
<line x1="345.3" y1="506" x2="345.3" y2="507.4" stroke="#5a5a5a" stroke-width="1.0"/>
<line x1="211.3" y1="505.8" x2="209.3" y2="505.8" stroke="#5a5a5a" stroke-width="1.0"/>
<text x="208.1" y="508.54" font-size="8.3" text-anchor="end">0</text>
<line x1="211.3" y1="472.8" x2="209.3" y2="472.8" stroke="#5a5a5a" stroke-width="1.0"/>
<text x="208.1" y="475.54" font-size="8.3" text-anchor="end">1</text>
<line x1="211.3" y1="439.8" x2="209.3" y2="439.8" stroke="#5a5a5a" stroke-width="1.0"/>
<text x="208.1" y="442.54" font-size="8.3" text-anchor="end">2</text>
<line x1="211.3" y1="406.8" x2="209.3" y2="406.8" stroke="#5a5a5a" stroke-width="1.0"/>
<text x="208.1" y="409.54" font-size="8.3" text-anchor="end">3</text>
<line x1="211.3" y1="489.3" x2="209.9" y2="489.3" stroke="#5a5a5a" stroke-width="1.0"/>
<line x1="211.3" y1="456.3" x2="209.9" y2="456.3" stroke="#5a5a5a" stroke-width="1.0"/>
<line x1="211.3" y1="423.3" x2="209.9" y2="423.3" stroke="#5a5a5a" stroke-width="1.0"/>
<text x="177.5" y="400.1" font-size="14">(n)</text>
<text x="193.6" y="461.4" font-size="11.5" text-anchor="middle" transform="rotate(-90 193.6 461.4)">Fl.Intensity<tspan>(</tspan>10<tspan dy="-4.5">6</tspan><tspan dy="4.5">)</tspan></text>
<text x="278.75" y="526.7" font-size="11.05" text-anchor="middle">DMSO Fraction(%)</text>
<polyline points="383.0,506.4 383.9,505.9 384.9,505.1 385.9,504.2 386.8,503.2 387.8,502.0 388.7,500.8 389.7,499.4 390.6,497.9 391.6,496.4 392.6,494.8 393.5,493.0 394.5,491.0 395.4,488.8 396.4,486.5 397.4,484.1 398.3,481.7 399.3,479.3 400.2,477.0 401.2,474.6 402.1,472.0 403.1,469.3 404.1,466.5 405.0,463.7 406.0,461.0 406.9,458.5 407.9,456.3 408.9,454.4 409.8,452.9 410.8,451.8 411.7,450.9 412.7,450.0 413.6,449.3 414.6,448.8 415.6,448.5 416.5,448.4 417.5,448.5 418.4,448.8 419.4,449.1 420.4,449.6 421.3,450.2 422.3,450.8 423.2,451.5 424.2,452.2 425.1,453.0 426.1,453.9 427.1,455.0 428.0,456.1 429.0,457.4 429.9,458.7 430.9,460.0 431.9,461.3 432.8,462.7 433.8,464.2 434.7,465.7 435.7,467.3 436.6,468.8 437.6,470.4 438.6,472.0 439.5,473.6 440.5,475.1 441.4,476.6 442.4,478.1 443.4,479.5 444.3,481.0 445.3,482.5 446.2,483.9 447.2,485.4 448.2,486.8 449.1,488.1 450.1,489.4 451.0,490.7 452.0,491.8 452.9,492.9 453.9,493.9 454.9,494.9 455.8,495.9 456.8,496.9 457.7,497.8 458.7,498.6 459.7,499.4 460.6,500.1 461.6,500.8 462.5,501.3 463.5,501.8 464.4,502.3 465.4,502.8 466.4,503.3 467.3,503.7 468.3,504.1 469.2,504.5 470.2,504.8 471.2,505.1 472.1,505.4 473.1,505.5 474.0,505.7 475.0,505.9 475.9,506.0 476.9,506.2 477.9,506.3 478.8,506.5 479.8,506.6 480.7,506.7 481.7,506.8 482.7,506.9 483.6,507.0 484.6,507.1 485.5,507.1 486.5,507.2 487.4,507.2 488.4,507.2 489.4,507.3 490.3,507.3 491.3,507.3 492.2,507.4 493.2,507.4 494.2,507.4 495.1,507.5 496.1,507.5 497.0,507.5 498.0,507.6 498.9,507.6 499.9,507.6 500.9,507.6 501.8,507.6 502.8,507.6 503.7,507.6 504.7,507.6 505.7,507.6 506.6,507.6 507.6,507.6 508.5,507.6 509.5,507.6 510.4,507.6 511.4,507.6 512.4,507.6 513.3,507.6 514.3,507.6 515.2,507.6 516.2,507.6" stroke="#111111" stroke-width="1.2"/>
<polyline points="383.0,505.7 383.9,504.9 384.9,503.8 385.9,502.4 386.8,500.8 387.8,498.9 388.7,496.8 389.7,494.6 390.6,492.2 391.6,489.8 392.6,487.3 393.5,484.6 394.5,481.7 395.4,478.8 396.4,475.7 397.4,472.7 398.3,469.8 399.3,466.9 400.2,464.3 401.2,461.7 402.1,459.1 403.1,456.4 404.1,454.0 405.0,451.7 406.0,449.7 406.9,448.1 407.9,446.9 408.9,445.9 409.8,445.0 410.8,444.2 411.7,443.5 412.7,443.0 413.6,442.7 414.6,442.6 415.6,442.8 416.5,443.1 417.5,443.5 418.4,444.1 419.4,444.7 420.4,445.5 421.3,446.3 422.3,447.2 423.2,448.2 424.2,449.3 425.1,450.6 426.1,452.0 427.1,453.4 428.0,455.0 429.0,456.6 429.9,458.2 430.9,459.8 431.9,461.4 432.8,463.0 433.8,464.8 434.7,466.6 435.7,468.5 436.6,470.4 437.6,472.3 438.6,474.2 439.5,476.0 440.5,477.7 441.4,479.4 442.4,481.0 443.4,482.6 444.3,484.2 445.3,485.7 446.2,487.2 447.2,488.7 448.2,490.1 449.1,491.5 450.1,492.7 451.0,493.9 452.0,494.9 452.9,495.8 453.9,496.7 454.9,497.5 455.8,498.3 456.8,499.1 457.7,499.8 458.7,500.5 459.7,501.1 460.6,501.7 461.6,502.2 462.5,502.6 463.5,503.0 464.4,503.4 465.4,503.8 466.4,504.1 467.3,504.5 468.3,504.8 469.2,505.1 470.2,505.4 471.2,505.6 472.1,505.8 473.1,506.0 474.0,506.1 475.0,506.2 475.9,506.4 476.9,506.5 477.9,506.6 478.8,506.7 479.8,506.8 480.7,506.9 481.7,507.0 482.7,507.1 483.6,507.2 484.6,507.2 485.5,507.3 486.5,507.3 487.4,507.3 488.4,507.4 489.4,507.4 490.3,507.4 491.3,507.4 492.2,507.5 493.2,507.5 494.2,507.5 495.1,507.5 496.1,507.6 497.0,507.6 498.0,507.6 498.9,507.6 499.9,507.6 500.9,507.6 501.8,507.6 502.8,507.6 503.7,507.6 504.7,507.6 505.7,507.6 506.6,507.6 507.6,507.6 508.5,507.6 509.5,507.6 510.4,507.6 511.4,507.6 512.4,507.6 513.3,507.6 514.3,507.6 515.2,507.6 516.2,507.6" stroke="#f5b0b0" stroke-width="1.0"/>
<polyline points="383.0,505.5 383.9,504.8 384.9,503.5 385.9,502.0 386.8,500.3 387.8,498.3 388.7,496.1 389.7,493.7 390.6,491.2 391.6,488.6 392.6,486.0 393.5,483.1 394.5,480.0 395.4,476.9 396.4,473.6 397.4,470.4 398.3,467.3 399.3,464.2 400.2,461.4 401.2,458.7 402.1,455.9 403.1,453.1 404.1,450.4 405.0,448.0 406.0,445.9 406.9,444.1 407.9,442.9 408.9,441.8 409.8,440.8 410.8,440.0 411.7,439.3 412.7,438.7 413.6,438.4 414.6,438.3 415.6,438.5 416.5,438.8 417.5,439.3 418.4,439.9 419.4,440.6 420.4,441.4 421.3,442.3 422.3,443.2 423.2,444.3 424.2,445.5 425.1,446.8 426.1,448.3 427.1,449.9 428.0,451.5 429.0,453.2 429.9,454.9 430.9,456.6 431.9,458.3 432.8,460.1 433.8,462.0 434.7,463.9 435.7,465.9 436.6,467.9 437.6,470.0 438.6,471.9 439.5,473.9 440.5,475.8 441.4,477.6 442.4,479.3 443.4,480.9 444.3,482.6 445.3,484.3 446.2,485.9 447.2,487.5 448.2,489.0 449.1,490.4 450.1,491.7 451.0,493.0 452.0,494.0 452.9,495.0 453.9,495.9 454.9,496.8 455.8,497.7 456.8,498.5 457.7,499.3 458.7,500.0 459.7,500.7 460.6,501.3 461.6,501.8 462.5,502.3 463.5,502.7 464.4,503.1 465.4,503.5 466.4,503.9 467.3,504.3 468.3,504.6 469.2,505.0 470.2,505.3 471.2,505.5 472.1,505.7 473.1,505.9 474.0,506.0 475.0,506.1 475.9,506.3 476.9,506.4 477.9,506.5 478.8,506.7 479.8,506.8 480.7,506.9 481.7,507.0 482.7,507.1 483.6,507.1 484.6,507.2 485.5,507.2 486.5,507.3 487.4,507.3 488.4,507.3 489.4,507.4 490.3,507.4 491.3,507.4 492.2,507.5 493.2,507.5 494.2,507.5 495.1,507.5 496.1,507.6 497.0,507.6 498.0,507.6 498.9,507.6 499.9,507.6 500.9,507.6 501.8,507.6 502.8,507.6 503.7,507.6 504.7,507.6 505.7,507.6 506.6,507.6 507.6,507.6 508.5,507.6 509.5,507.6 510.4,507.6 511.4,507.6 512.4,507.6 513.3,507.6 514.3,507.6 515.2,507.6 516.2,507.6" stroke="#f08888" stroke-width="1.0"/>
<polyline points="383.0,505.4 383.9,504.6 384.9,503.3 385.9,501.8 386.8,500.0 387.8,497.9 388.7,495.6 389.7,493.2 390.6,490.5 391.6,487.9 392.6,485.1 393.5,482.1 394.5,479.0 395.4,475.7 396.4,472.3 397.4,469.0 398.3,465.7 399.3,462.5 400.2,459.6 401.2,456.7 402.1,453.8 403.1,450.9 404.1,448.2 405.0,445.6 406.0,443.4 406.9,441.6 407.9,440.3 408.9,439.2 409.8,438.2 410.8,437.3 411.7,436.6 412.7,436.0 413.6,435.7 414.6,435.6 415.6,435.8 416.5,436.1 417.5,436.6 418.4,437.2 419.4,438.0 420.4,438.8 421.3,439.7 422.3,440.7 423.2,441.8 424.2,443.0 425.1,444.4 426.1,446.0 427.1,447.6 428.0,449.3 429.0,451.0 429.9,452.8 430.9,454.6 431.9,456.4 432.8,458.2 433.8,460.2 434.7,462.2 435.7,464.3 436.6,466.4 437.6,468.5 438.6,470.5 439.5,472.6 440.5,474.5 441.4,476.4 442.4,478.1 443.4,479.9 444.3,481.6 445.3,483.4 446.2,485.1 447.2,486.7 448.2,488.3 449.1,489.7 450.1,491.1 451.0,492.4 452.0,493.5 452.9,494.5 453.9,495.5 454.9,496.4 455.8,497.3 456.8,498.2 457.7,499.0 458.7,499.7 459.7,500.4 460.6,501.0 461.6,501.6 462.5,502.1 463.5,502.5 464.4,502.9 465.4,503.3 466.4,503.7 467.3,504.1 468.3,504.5 469.2,504.9 470.2,505.2 471.2,505.4 472.1,505.6 473.1,505.8 474.0,506.0 475.0,506.1 475.9,506.2 476.9,506.4 477.9,506.5 478.8,506.6 479.8,506.8 480.7,506.9 481.7,507.0 482.7,507.1 483.6,507.1 484.6,507.2 485.5,507.2 486.5,507.3 487.4,507.3 488.4,507.3 489.4,507.4 490.3,507.4 491.3,507.4 492.2,507.5 493.2,507.5 494.2,507.5 495.1,507.5 496.1,507.6 497.0,507.6 498.0,507.6 498.9,507.6 499.9,507.6 500.9,507.6 501.8,507.6 502.8,507.6 503.7,507.6 504.7,507.6 505.7,507.6 506.6,507.6 507.6,507.6 508.5,507.6 509.5,507.6 510.4,507.6 511.4,507.6 512.4,507.6 513.3,507.6 514.3,507.6 515.2,507.6 516.2,507.6" stroke="#ee7878" stroke-width="1.0"/>
<polyline points="383.0,505.3 383.9,504.5 384.9,503.2 385.9,501.6 386.8,499.7 387.8,497.5 388.7,495.1 389.7,492.5 390.6,489.8 391.6,487.0 392.6,484.1 393.5,481.0 394.5,477.7 395.4,474.3 396.4,470.8 397.4,467.3 398.3,463.9 399.3,460.6 400.2,457.5 401.2,454.5 402.1,451.5 403.1,448.5 404.1,445.6 405.0,443.0 406.0,440.6 406.9,438.8 407.9,437.4 408.9,436.3 409.8,435.2 410.8,434.3 411.7,433.5 412.7,432.9 413.6,432.6 414.6,432.5 415.6,432.7 416.5,433.0 417.5,433.5 418.4,434.2 419.4,435.0 420.4,435.8 421.3,436.8 422.3,437.8 423.2,438.9 424.2,440.2 425.1,441.7 426.1,443.3 427.1,445.0 428.0,446.8 429.0,448.6 429.9,450.5 430.9,452.3 431.9,454.2 432.8,456.1 433.8,458.1 434.7,460.3 435.7,462.4 436.6,464.6 437.6,466.8 438.6,468.9 439.5,471.1 440.5,473.1 441.4,475.0 442.4,476.9 443.4,478.7 444.3,480.5 445.3,482.3 446.2,484.1 447.2,485.8 448.2,487.4 449.1,489.0 450.1,490.4 451.0,491.7 452.0,492.9 452.9,494.0 453.9,495.0 454.9,495.9 455.8,496.9 456.8,497.8 457.7,498.6 458.7,499.4 459.7,500.1 460.6,500.8 461.6,501.3 462.5,501.8 463.5,502.3 464.4,502.7 465.4,503.2 466.4,503.6 467.3,504.0 468.3,504.4 469.2,504.7 470.2,505.1 471.2,505.3 472.1,505.6 473.1,505.7 474.0,505.9 475.0,506.0 475.9,506.2 476.9,506.3 477.9,506.5 478.8,506.6 479.8,506.7 480.7,506.8 481.7,506.9 482.7,507.0 483.6,507.1 484.6,507.2 485.5,507.2 486.5,507.3 487.4,507.3 488.4,507.3 489.4,507.4 490.3,507.4 491.3,507.4 492.2,507.4 493.2,507.5 494.2,507.5 495.1,507.5 496.1,507.6 497.0,507.6 498.0,507.6 498.9,507.6 499.9,507.6 500.9,507.6 501.8,507.6 502.8,507.6 503.7,507.6 504.7,507.6 505.7,507.6 506.6,507.6 507.6,507.6 508.5,507.6 509.5,507.6 510.4,507.6 511.4,507.6 512.4,507.6 513.3,507.6 514.3,507.6 515.2,507.6 516.2,507.6" stroke="#e85050" stroke-width="1.4"/>
<polyline points="383.0,505.2 383.9,504.3 384.9,502.9 385.9,501.2 386.8,499.2 387.8,496.9 388.7,494.3 389.7,491.6 390.6,488.7 391.6,485.7 392.6,482.7 393.5,479.4 394.5,475.9 395.4,472.2 396.4,468.5 397.4,464.8 398.3,461.1 399.3,457.7 400.2,454.4 401.2,451.2 402.1,448.0 403.1,444.8 404.1,441.7 405.0,438.9 406.0,436.5 406.9,434.5 407.9,433.1 408.9,431.8 409.8,430.7 410.8,429.7 411.7,428.9 412.7,428.3 413.6,427.9 414.6,427.8 415.6,428.0 416.5,428.4 417.5,428.9 418.4,429.6 419.4,430.4 420.4,431.4 421.3,432.4 422.3,433.5 423.2,434.7 424.2,436.1 425.1,437.6 426.1,439.3 427.1,441.1 428.0,443.0 429.0,444.9 429.9,446.9 430.9,448.9 431.9,450.9 432.8,452.9 433.8,455.1 434.7,457.3 435.7,459.6 436.6,461.9 437.6,464.2 438.6,466.5 439.5,468.8 440.5,471.0 441.4,473.0 442.4,475.0 443.4,476.9 444.3,478.8 445.3,480.7 446.2,482.6 447.2,484.4 448.2,486.2 449.1,487.8 450.1,489.3 451.0,490.7 452.0,492.0 452.9,493.1 453.9,494.2 454.9,495.2 455.8,496.2 456.8,497.2 457.7,498.0 458.7,498.9 459.7,499.6 460.6,500.3 461.6,500.9 462.5,501.5 463.5,501.9 464.4,502.4 465.4,502.9 466.4,503.3 467.3,503.8 468.3,504.2 469.2,504.6 470.2,504.9 471.2,505.2 472.1,505.4 473.1,505.6 474.0,505.8 475.0,505.9 475.9,506.1 476.9,506.2 477.9,506.4 478.8,506.5 479.8,506.7 480.7,506.8 481.7,506.9 482.7,507.0 483.6,507.1 484.6,507.1 485.5,507.2 486.5,507.2 487.4,507.3 488.4,507.3 489.4,507.3 490.3,507.4 491.3,507.4 492.2,507.4 493.2,507.5 494.2,507.5 495.1,507.5 496.1,507.6 497.0,507.6 498.0,507.6 498.9,507.6 499.9,507.6 500.9,507.6 501.8,507.6 502.8,507.6 503.7,507.6 504.7,507.6 505.7,507.6 506.6,507.6 507.6,507.6 508.5,507.6 509.5,507.6 510.4,507.6 511.4,507.6 512.4,507.6 513.3,507.6 514.3,507.6 515.2,507.6 516.2,507.6" stroke="#ea5858" stroke-width="1.3"/>
<polyline points="383.0,505.1 383.9,504.2 384.9,502.8 385.9,501.0 386.8,499.0 387.8,496.6 388.7,494.0 389.7,491.2 390.6,488.2 391.6,485.2 392.6,482.1 393.5,478.7 394.5,475.1 395.4,471.3 396.4,467.5 397.4,463.7 398.3,460.0 399.3,456.4 400.2,453.1 401.2,449.9 402.1,446.6 403.1,443.3 404.1,440.1 405.0,437.3 406.0,434.8 406.9,432.7 407.9,431.3 408.9,430.0 409.8,428.8 410.8,427.8 411.7,427.0 412.7,426.3 413.6,426.0 414.6,425.9 415.6,426.1 416.5,426.5 417.5,427.0 418.4,427.7 419.4,428.6 420.4,429.5 421.3,430.5 422.3,431.6 423.2,432.9 424.2,434.3 425.1,435.9 426.1,437.6 427.1,439.5 428.0,441.4 429.0,443.4 429.9,445.4 430.9,447.5 431.9,449.5 432.8,451.6 433.8,453.8 434.7,456.1 435.7,458.4 436.6,460.8 437.6,463.2 438.6,465.5 439.5,467.8 440.5,470.1 441.4,472.2 442.4,474.2 443.4,476.2 444.3,478.1 445.3,480.1 446.2,482.0 447.2,483.9 448.2,485.6 449.1,487.3 450.1,488.9 451.0,490.3 452.0,491.6 452.9,492.8 453.9,493.8 454.9,494.9 455.8,495.9 456.8,496.9 457.7,497.8 458.7,498.7 459.7,499.4 460.6,500.2 461.6,500.8 462.5,501.3 463.5,501.8 464.4,502.3 465.4,502.8 466.4,503.2 467.3,503.7 468.3,504.1 469.2,504.5 470.2,504.8 471.2,505.1 472.1,505.4 473.1,505.6 474.0,505.7 475.0,505.9 475.9,506.0 476.9,506.2 477.9,506.4 478.8,506.5 479.8,506.6 480.7,506.8 481.7,506.9 482.7,507.0 483.6,507.1 484.6,507.1 485.5,507.2 486.5,507.2 487.4,507.3 488.4,507.3 489.4,507.3 490.3,507.4 491.3,507.4 492.2,507.4 493.2,507.5 494.2,507.5 495.1,507.5 496.1,507.6 497.0,507.6 498.0,507.6 498.9,507.6 499.9,507.6 500.9,507.6 501.8,507.6 502.8,507.6 503.7,507.6 504.7,507.6 505.7,507.6 506.6,507.6 507.6,507.6 508.5,507.6 509.5,507.6 510.4,507.6 511.4,507.6 512.4,507.6 513.3,507.6 514.3,507.6 515.2,507.6 516.2,507.6" stroke="#ee3030" stroke-width="1.3"/>
<polyline points="383.0,505.3 383.9,503.9 384.9,502.2 385.9,500.3 386.8,498.2 387.8,495.9 388.7,493.5 389.7,490.9 390.6,488.2 391.6,485.4 392.6,482.6 393.5,479.3 394.5,475.7 395.4,471.9 396.4,467.9 397.4,464.0 398.3,460.2 399.3,456.6 400.2,453.4 401.2,450.3 402.1,447.2 403.1,444.2 404.1,441.3 405.0,438.7 406.0,436.5 406.9,434.7 407.9,433.4 408.9,432.3 409.8,431.4 410.8,430.6 411.7,430.1 412.7,429.8 413.6,429.8 414.6,430.1 415.6,430.6 416.5,431.4 417.5,432.3 418.4,433.4 419.4,434.6 420.4,436.1 421.3,437.8 422.3,439.9 423.2,442.1 424.2,444.6 425.1,447.2 426.1,449.8 427.1,452.5 428.0,455.2 429.0,457.8 429.9,460.3 430.9,462.6 431.9,464.7 432.8,466.8 433.8,468.9 434.7,470.9 435.7,473.0 436.6,474.9 437.6,476.8 438.6,478.7 439.5,480.4 440.5,482.0 441.4,483.5 442.4,484.8 443.4,486.1 444.3,487.4 445.3,488.6 446.2,489.8 447.2,490.9 448.2,491.9 449.1,493.0 450.1,493.9 451.0,494.8 452.0,495.6 452.9,496.4 453.9,497.2 454.9,497.9 455.8,498.7 456.8,499.4 457.7,500.1 458.7,500.8 459.7,501.4 460.6,502.0 461.6,502.4 462.5,502.9 463.5,503.3 464.4,503.6 465.4,504.0 466.4,504.3 467.3,504.7 468.3,505.0 469.2,505.3 470.2,505.5 471.2,505.7 472.1,505.9 473.1,506.1 474.0,506.2 475.0,506.3 475.9,506.4 476.9,506.5 477.9,506.6 478.8,506.7 479.8,506.8 480.7,506.8 481.7,506.9 482.7,507.0 483.6,507.1 484.6,507.2 485.5,507.3 486.5,507.3 487.4,507.4 488.4,507.5 489.4,507.5 490.3,507.6 491.3,507.6 492.2,507.6 493.2,507.6 494.2,507.6 495.1,507.6 496.1,507.6 497.0,507.6 498.0,507.6 498.9,507.6 499.9,507.6 500.9,507.6 501.8,507.6 502.8,507.6 503.7,507.6 504.7,507.6 505.7,507.6 506.6,507.6 507.6,507.6 508.5,507.6 509.5,507.6 510.4,507.6 511.4,507.6 512.4,507.6 513.3,507.6 514.3,507.6 515.2,507.6 516.2,507.6" stroke="#3a3af5" stroke-width="1.3"/>
<polyline points="383.0,506.3 383.9,505.6 384.9,504.7 385.9,503.6 386.8,502.5 387.8,501.2 388.7,499.9 389.7,498.5 390.6,497.0 391.6,495.5 392.6,494.0 393.5,492.2 394.5,490.2 395.4,488.1 396.4,486.0 397.4,483.9 398.3,481.8 399.3,479.8 400.2,478.0 401.2,476.4 402.1,474.7 403.1,473.1 404.1,471.5 405.0,470.1 406.0,468.8 406.9,467.8 407.9,467.1 408.9,466.6 409.8,466.0 410.8,465.6 411.7,465.3 412.7,465.2 413.6,465.2 414.6,465.4 415.6,465.7 416.5,466.1 417.5,466.6 418.4,467.2 419.4,467.8 420.4,468.6 421.3,469.6 422.3,470.7 423.2,471.9 424.2,473.3 425.1,474.7 426.1,476.1 427.1,477.6 428.0,479.0 429.0,480.5 429.9,481.8 430.9,483.1 431.9,484.2 432.8,485.4 433.8,486.5 434.7,487.6 435.7,488.7 436.6,489.8 437.6,490.8 438.6,491.8 439.5,492.8 440.5,493.7 441.4,494.5 442.4,495.2 443.4,495.9 444.3,496.6 445.3,497.3 446.2,497.9 447.2,498.5 448.2,499.1 449.1,499.6 450.1,500.1 451.0,500.6 452.0,501.1 452.9,501.5 453.9,501.9 454.9,502.3 455.8,502.7 456.8,503.1 457.7,503.5 458.7,503.9 459.7,504.2 460.6,504.5 461.6,504.8 462.5,505.0 463.5,505.2 464.4,505.4 465.4,505.6 466.4,505.8 467.3,506.0 468.3,506.2 469.2,506.3 470.2,506.5 471.2,506.6 472.1,506.7 473.1,506.8 474.0,506.8 475.0,506.9 475.9,506.9 476.9,507.0 477.9,507.0 478.8,507.1 479.8,507.1 480.7,507.2 481.7,507.2 482.7,507.3 483.6,507.3 484.6,507.4 485.5,507.4 486.5,507.5 487.4,507.5 488.4,507.5 489.4,507.6 490.3,507.6 491.3,507.6 492.2,507.6 493.2,507.6 494.2,507.6 495.1,507.6 496.1,507.6 497.0,507.6 498.0,507.6 498.9,507.6 499.9,507.6 500.9,507.6 501.8,507.6 502.8,507.6 503.7,507.6 504.7,507.6 505.7,507.6 506.6,507.6 507.6,507.6 508.5,507.6 509.5,507.6 510.4,507.6 511.4,507.6 512.4,507.6 513.3,507.6 514.3,507.6 515.2,507.6 516.2,507.6" stroke="#6060f0" stroke-width="1.1"/>
<polyline points="383.0,506.8 383.9,506.3 384.9,505.8 385.9,505.1 386.8,504.4 387.8,503.6 388.7,502.7 389.7,501.8 390.6,500.9 391.6,500.0 392.6,499.0 393.5,497.8 394.5,496.6 395.4,495.3 396.4,493.9 397.4,492.6 398.3,491.3 399.3,490.0 400.2,488.9 401.2,487.8 402.1,486.8 403.1,485.7 404.1,484.7 405.0,483.8 406.0,483.1 406.9,482.4 407.9,482.0 408.9,481.6 409.8,481.3 410.8,481.0 411.7,480.9 412.7,480.8 413.6,480.8 414.6,480.9 415.6,481.0 416.5,481.3 417.5,481.6 418.4,482.0 419.4,482.4 420.4,482.9 421.3,483.5 422.3,484.2 423.2,485.0 424.2,485.9 425.1,486.7 426.1,487.7 427.1,488.6 428.0,489.5 429.0,490.4 429.9,491.3 430.9,492.1 431.9,492.8 432.8,493.5 433.8,494.2 434.7,495.0 435.7,495.6 436.6,496.3 437.6,497.0 438.6,497.6 439.5,498.2 440.5,498.8 441.4,499.3 442.4,499.8 443.4,500.2 444.3,500.6 445.3,501.0 446.2,501.4 447.2,501.8 448.2,502.2 449.1,502.5 450.1,502.9 451.0,503.2 452.0,503.5 452.9,503.7 453.9,504.0 454.9,504.3 455.8,504.5 456.8,504.8 457.7,505.0 458.7,505.2 459.7,505.5 460.6,505.7 461.6,505.8 462.5,506.0 463.5,506.1 464.4,506.2 465.4,506.4 466.4,506.5 467.3,506.6 468.3,506.7 469.2,506.8 470.2,506.9 471.2,507.0 472.1,507.0 473.1,507.1 474.0,507.1 475.0,507.1 475.9,507.2 476.9,507.2 477.9,507.2 478.8,507.3 479.8,507.3 480.7,507.3 481.7,507.4 482.7,507.4 483.6,507.4 484.6,507.5 485.5,507.5 486.5,507.5 487.4,507.5 488.4,507.6 489.4,507.6 490.3,507.6 491.3,507.6 492.2,507.6 493.2,507.6 494.2,507.6 495.1,507.6 496.1,507.6 497.0,507.6 498.0,507.6 498.9,507.6 499.9,507.6 500.9,507.6 501.8,507.6 502.8,507.6 503.7,507.6 504.7,507.6 505.7,507.6 506.6,507.6 507.6,507.6 508.5,507.6 509.5,507.6 510.4,507.6 511.4,507.6 512.4,507.6 513.3,507.6 514.3,507.6 515.2,507.6 516.2,507.6" stroke="#9090f0" stroke-width="1.0"/>
<line x1="382.2" y1="507.7" x2="515" y2="507.7" stroke="#5a5a5a" stroke-width="1.0"/>
<line x1="382.7" y1="507.7" x2="382.7" y2="408.5" stroke="#5a5a5a" stroke-width="1.0"/>
<line x1="418.6" y1="507.7" x2="418.6" y2="509.7" stroke="#5a5a5a" stroke-width="1.0"/>
<text x="418.6" y="517.2" font-size="8.3" text-anchor="middle">500</text>
<line x1="467.4" y1="507.7" x2="467.4" y2="509.7" stroke="#5a5a5a" stroke-width="1.0"/>
<text x="467.4" y="517.2" font-size="8.3" text-anchor="middle">600</text>
<line x1="516.2" y1="507.7" x2="516.2" y2="509.7" stroke="#5a5a5a" stroke-width="1.0"/>
<text x="516.2" y="517.2" font-size="8.3" text-anchor="middle">700</text>
<line x1="394.2" y1="507.7" x2="394.2" y2="509.1" stroke="#5a5a5a" stroke-width="1.0"/>
<line x1="443" y1="507.7" x2="443" y2="509.1" stroke="#5a5a5a" stroke-width="1.0"/>
<line x1="491.8" y1="507.7" x2="491.8" y2="509.1" stroke="#5a5a5a" stroke-width="1.0"/>
<line x1="382.7" y1="507.6" x2="380.7" y2="507.6" stroke="#5a5a5a" stroke-width="1.0"/>
<text x="379.5" y="510.34" font-size="8.3" text-anchor="end">0</text>
<line x1="382.7" y1="468.7" x2="380.7" y2="468.7" stroke="#5a5a5a" stroke-width="1.0"/>
<text x="379.5" y="471.44" font-size="8.3" text-anchor="end">1</text>
<line x1="382.7" y1="429.8" x2="380.7" y2="429.8" stroke="#5a5a5a" stroke-width="1.0"/>
<text x="379.5" y="432.54" font-size="8.3" text-anchor="end">2</text>
<line x1="382.7" y1="488.15" x2="381.3" y2="488.15" stroke="#5a5a5a" stroke-width="1.0"/>
<line x1="382.7" y1="449.25" x2="381.3" y2="449.25" stroke="#5a5a5a" stroke-width="1.0"/>
<text x="350.6" y="401.3" font-size="14">(o)</text>
<text x="370" y="459.8" font-size="11.6" text-anchor="middle" transform="rotate(-90 370 459.8)">Fl.Intensity<tspan>(</tspan>10<tspan dy="-4.5">6</tspan><tspan dy="4.5">)</tspan></text>
<text x="448.6" y="527" font-size="11.1" text-anchor="middle">Wavelength(nm)</text>
<line x1="460.3" y1="410.5" x2="472.3" y2="410.5" stroke="#111111" stroke-width="1.5"/>
<text x="473.8" y="412.7" font-size="6.4">PBS</text>
<line x1="460.3" y1="418.4" x2="472.3" y2="418.4" stroke="#f5b0b0" stroke-width="1.3"/>
<text x="473.8" y="420.6" font-size="6.4">EtOH:PBS=1:9</text>
<line x1="460.3" y1="426.3" x2="472.3" y2="426.3" stroke="#f08888" stroke-width="1.3"/>
<text x="473.8" y="428.5" font-size="6.4">EtOH:PBS=2:8</text>
<line x1="460.3" y1="434.2" x2="472.3" y2="434.2" stroke="#ee7878" stroke-width="1.3"/>
<text x="473.8" y="436.4" font-size="6.4">EtOH:PBS=3:7</text>
<line x1="460.3" y1="442.1" x2="472.3" y2="442.1" stroke="#e85050" stroke-width="1.7"/>
<text x="473.8" y="444.3" font-size="6.4">EtOH:PBS=4:6</text>
<line x1="460.3" y1="450" x2="472.3" y2="450" stroke="#ea5858" stroke-width="1.6"/>
<text x="473.8" y="452.2" font-size="6.4">EtOH:PBS=5:5</text>
<line x1="460.3" y1="457.9" x2="472.3" y2="457.9" stroke="#ee3030" stroke-width="1.6"/>
<text x="473.8" y="460.1" font-size="6.4">EtOH:PBS=6:4</text>
<line x1="460.3" y1="465.8" x2="472.3" y2="465.8" stroke="#3a3af5" stroke-width="1.6"/>
<text x="473.8" y="468" font-size="6.4">EtOH:PBS=7:3</text>
<line x1="460.3" y1="473.7" x2="472.3" y2="473.7" stroke="#6060f0" stroke-width="1.4000000000000001"/>
<text x="473.8" y="475.9" font-size="6.4">EtOH:PBS=8:2</text>
<line x1="460.3" y1="481.6" x2="472.3" y2="481.6" stroke="#9090f0" stroke-width="1.3"/>
<text x="473.8" y="483.8" font-size="6.4">EtOH:PBS=9:1</text>
<polyline points="565.2,457.1 578.7,452.3 592.3,447.4 605.8,444.6 619.4,440.6 632.9,438.6 646.5,438.9 660.0,442.6 673.6,472.5 687.1,484.7" stroke="#222" stroke-width="1.1"/>
<rect x="563.25" y="455.17" width="3.9" height="3.9" class="m" stroke-width="1.0"/>
<rect x="576.79" y="450.33" width="3.9" height="3.9" class="m" stroke-width="1.0"/>
<rect x="590.34" y="445.49" width="3.9" height="3.9" class="m" stroke-width="1.0"/>
<rect x="603.88" y="442.65" width="3.9" height="3.9" class="m" stroke-width="1.0"/>
<rect x="617.43" y="438.66" width="3.9" height="3.9" class="m" stroke-width="1.0"/>
<rect x="630.97" y="436.67" width="3.9" height="3.9" class="m" stroke-width="1.0"/>
<rect x="644.52" y="436.96" width="3.9" height="3.9" class="m" stroke-width="1.0"/>
<rect x="658.06" y="440.66" width="3.9" height="3.9" class="m" stroke-width="1.0"/>
<rect x="671.61" y="470.54" width="3.9" height="3.9" class="m" stroke-width="1.0"/>
<rect x="685.15" y="482.77" width="3.9" height="3.9" class="m" stroke-width="1.0"/>
<line x1="557.8" y1="507.6" x2="696" y2="507.6" stroke="#5a5a5a" stroke-width="1.0"/>
<line x1="558.3" y1="507.6" x2="558.3" y2="408" stroke="#5a5a5a" stroke-width="1.0"/>
<line x1="565.2" y1="507.6" x2="565.2" y2="509.6" stroke="#5a5a5a" stroke-width="1.0"/>
<text x="565.2" y="516.4" font-size="8.3" text-anchor="middle">0</text>
<line x1="578.74" y1="507.6" x2="578.74" y2="509.6" stroke="#5a5a5a" stroke-width="1.0"/>
<text x="578.74" y="516.4" font-size="8.3" text-anchor="middle">10</text>
<line x1="592.29" y1="507.6" x2="592.29" y2="509.6" stroke="#5a5a5a" stroke-width="1.0"/>
<text x="592.29" y="516.4" font-size="8.3" text-anchor="middle">20</text>
<line x1="605.83" y1="507.6" x2="605.83" y2="509.6" stroke="#5a5a5a" stroke-width="1.0"/>
<text x="605.83" y="516.4" font-size="8.3" text-anchor="middle">30</text>
<line x1="619.38" y1="507.6" x2="619.38" y2="509.6" stroke="#5a5a5a" stroke-width="1.0"/>
<text x="619.38" y="516.4" font-size="8.3" text-anchor="middle">40</text>
<line x1="632.92" y1="507.6" x2="632.92" y2="509.6" stroke="#5a5a5a" stroke-width="1.0"/>
<text x="632.92" y="516.4" font-size="8.3" text-anchor="middle">50</text>
<line x1="646.47" y1="507.6" x2="646.47" y2="509.6" stroke="#5a5a5a" stroke-width="1.0"/>
<text x="646.47" y="516.4" font-size="8.3" text-anchor="middle">60</text>
<line x1="660.01" y1="507.6" x2="660.01" y2="509.6" stroke="#5a5a5a" stroke-width="1.0"/>
<text x="660.01" y="516.4" font-size="8.3" text-anchor="middle">70</text>
<line x1="673.56" y1="507.6" x2="673.56" y2="509.6" stroke="#5a5a5a" stroke-width="1.0"/>
<text x="673.56" y="516.4" font-size="8.3" text-anchor="middle">80</text>
<line x1="687.1" y1="507.6" x2="687.1" y2="509.6" stroke="#5a5a5a" stroke-width="1.0"/>
<text x="687.1" y="516.4" font-size="8.3" text-anchor="middle">90</text>
<line x1="571.97" y1="507.6" x2="571.97" y2="509" stroke="#5a5a5a" stroke-width="1.0"/>
<line x1="585.52" y1="507.6" x2="585.52" y2="509" stroke="#5a5a5a" stroke-width="1.0"/>
<line x1="599.06" y1="507.6" x2="599.06" y2="509" stroke="#5a5a5a" stroke-width="1.0"/>
<line x1="612.61" y1="507.6" x2="612.61" y2="509" stroke="#5a5a5a" stroke-width="1.0"/>
<line x1="626.15" y1="507.6" x2="626.15" y2="509" stroke="#5a5a5a" stroke-width="1.0"/>
<line x1="639.69" y1="507.6" x2="639.69" y2="509" stroke="#5a5a5a" stroke-width="1.0"/>
<line x1="653.24" y1="507.6" x2="653.24" y2="509" stroke="#5a5a5a" stroke-width="1.0"/>
<line x1="666.78" y1="507.6" x2="666.78" y2="509" stroke="#5a5a5a" stroke-width="1.0"/>
<line x1="680.33" y1="507.6" x2="680.33" y2="509" stroke="#5a5a5a" stroke-width="1.0"/>
<line x1="693.87" y1="507.6" x2="693.87" y2="509" stroke="#5a5a5a" stroke-width="1.0"/>
<line x1="558.3" y1="507.5" x2="556.3" y2="507.5" stroke="#5a5a5a" stroke-width="1.0"/>
<text x="555.1" y="510.24" font-size="8.3" text-anchor="end">0</text>
<line x1="558.3" y1="474.67" x2="556.3" y2="474.67" stroke="#5a5a5a" stroke-width="1.0"/>
<text x="555.1" y="477.41" font-size="8.3" text-anchor="end">1</text>
<line x1="558.3" y1="441.83" x2="556.3" y2="441.83" stroke="#5a5a5a" stroke-width="1.0"/>
<text x="555.1" y="444.57" font-size="8.3" text-anchor="end">2</text>
<line x1="558.3" y1="409" x2="556.3" y2="409" stroke="#5a5a5a" stroke-width="1.0"/>
<text x="555.1" y="411.74" font-size="8.3" text-anchor="end">3</text>
<line x1="558.3" y1="491.08" x2="556.9" y2="491.08" stroke="#5a5a5a" stroke-width="1.0"/>
<line x1="558.3" y1="458.25" x2="556.9" y2="458.25" stroke="#5a5a5a" stroke-width="1.0"/>
<line x1="558.3" y1="425.42" x2="556.9" y2="425.42" stroke="#5a5a5a" stroke-width="1.0"/>
<text x="525.1" y="401.5" font-size="14">(p)</text>
<text x="538.7" y="463.2" font-size="11.5" text-anchor="middle" transform="rotate(-90 538.7 463.2)">Fl.Intensity<tspan>(</tspan>10<tspan dy="-4.5">6</tspan><tspan dy="4.5">)</tspan></text>
<text x="625.1" y="529.1" font-size="11.15" text-anchor="middle">EtOH Fraction(%)</text>
</svg></body></html>
